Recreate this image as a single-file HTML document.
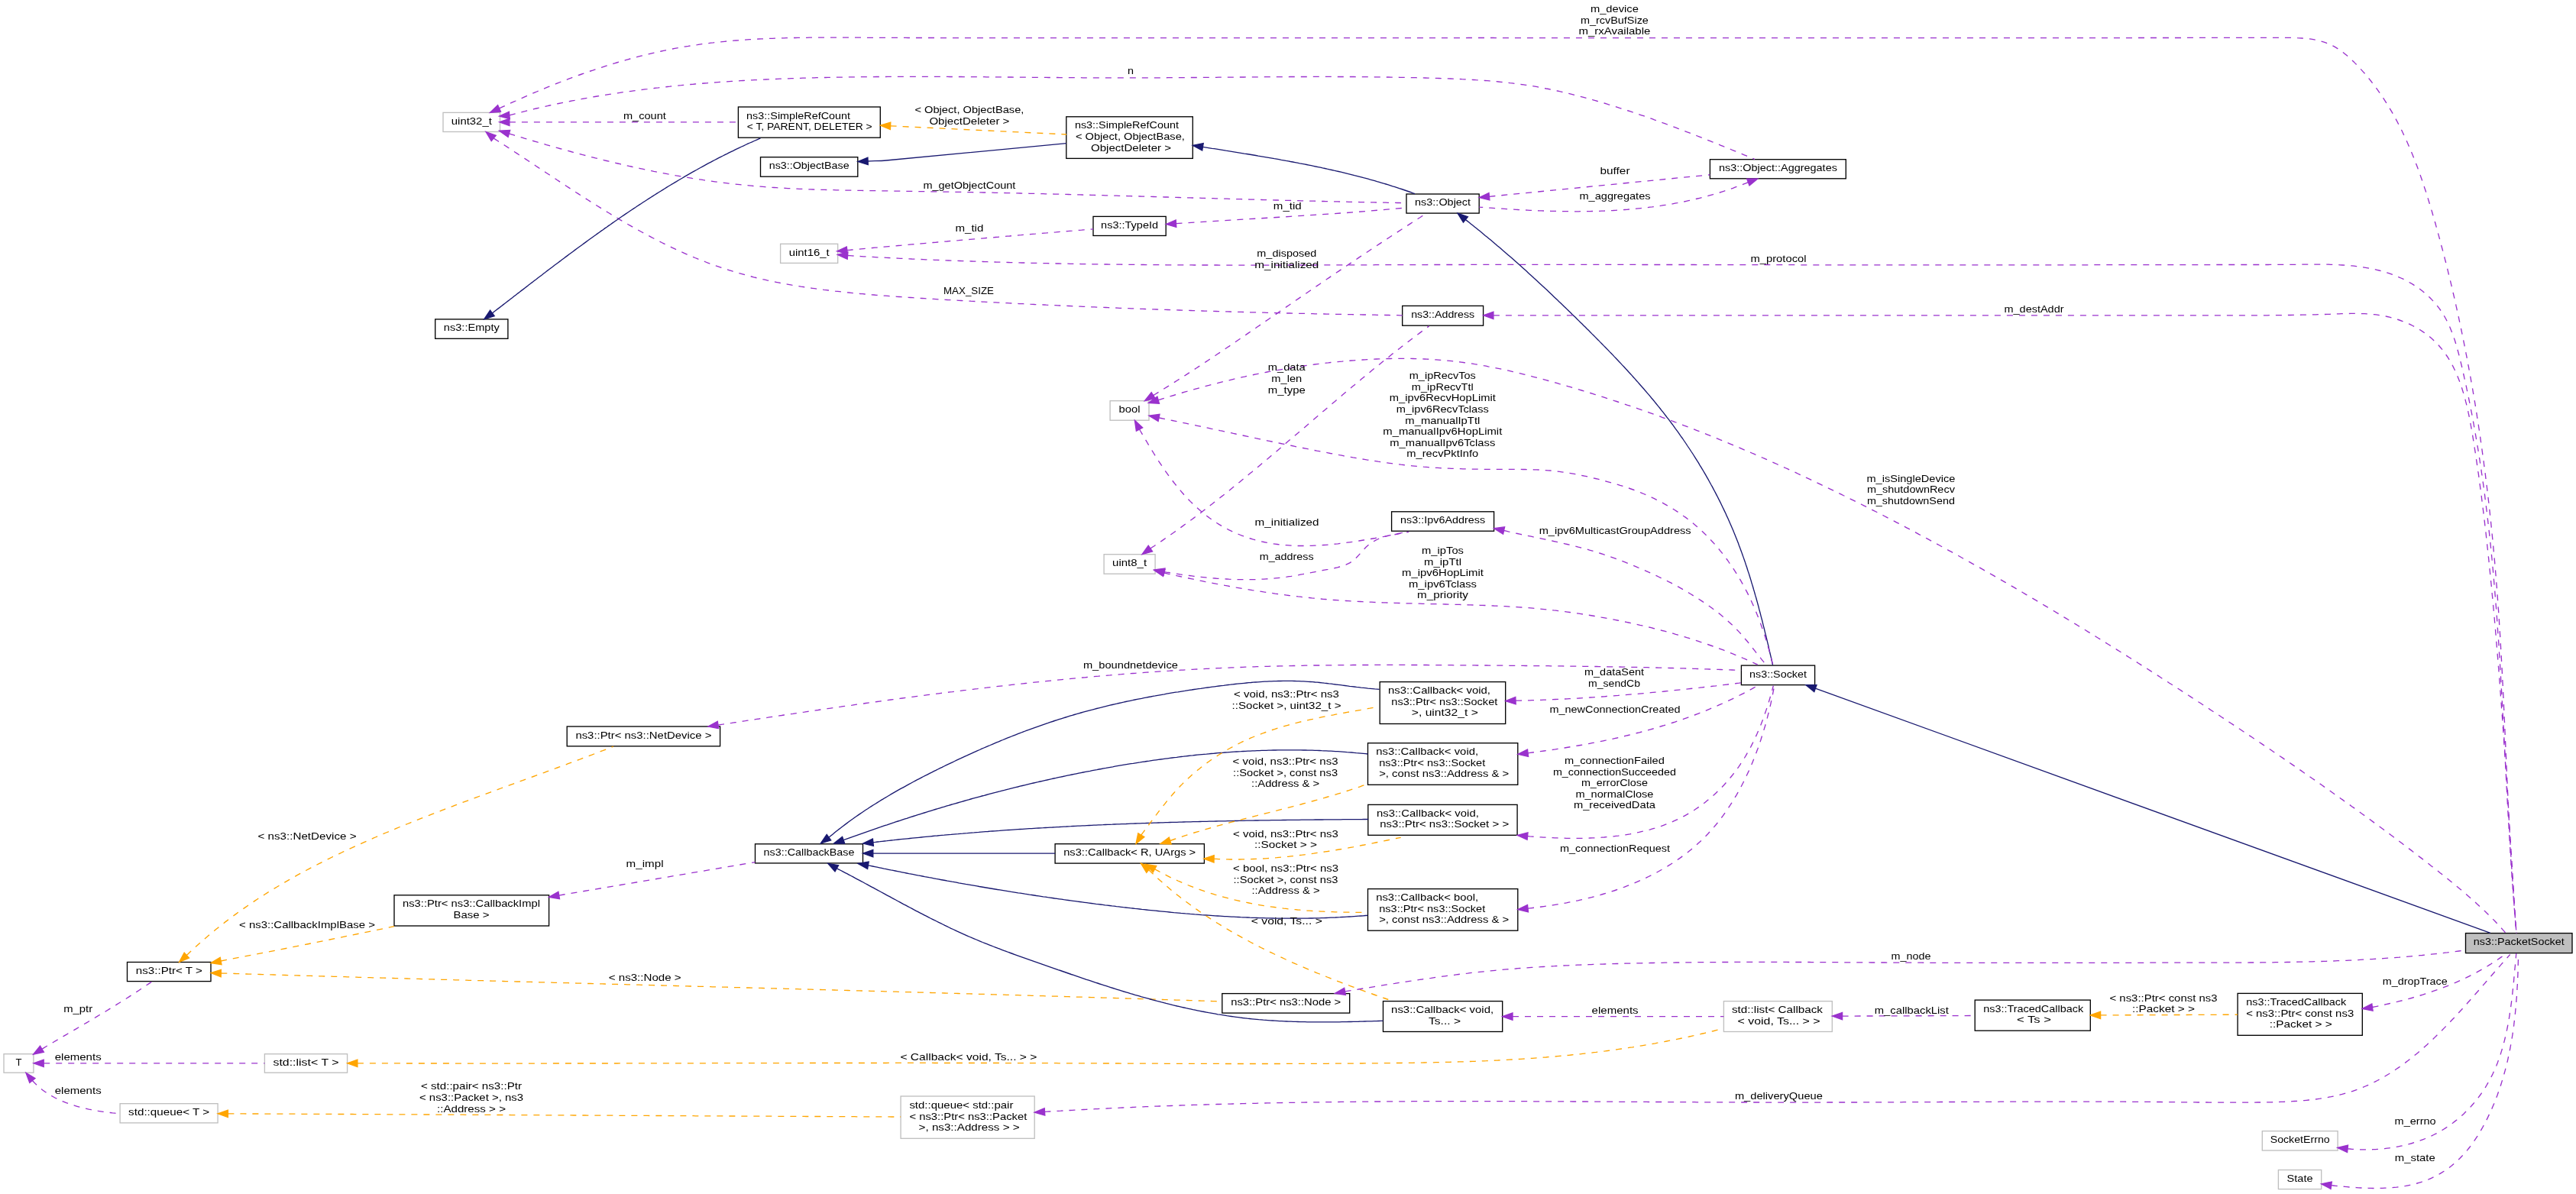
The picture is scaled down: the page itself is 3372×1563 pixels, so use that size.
<!DOCTYPE html>
<html><head><meta charset="utf-8"><style>
html,body{margin:0;padding:0;background:#fff;overflow:hidden;}
svg{display:block;}
text{font-family:"Liberation Sans",sans-serif;font-size:13.6px;fill:#000;}
svg{will-change:transform;}
</style></head><body>
<svg width="3372" height="1563" viewBox="0 0 3372 1563">
<rect x="580.0" y="147.4" width="74.5" height="25.1" fill="#ffffff" stroke="#bfbfbf" stroke-width="1.33"/>
<text x="590.8" y="162.8" textLength="53.0" lengthAdjust="spacingAndGlyphs">uint32_t</text>
<rect x="966.4" y="140.0" width="185.9" height="40.2" fill="#ffffff" stroke="#000000" stroke-width="1.33"/>
<text x="977.1" y="155.6" textLength="136.0" lengthAdjust="spacingAndGlyphs">ns3::SimpleRefCount</text>
<text x="977.7" y="170.2" textLength="164.0" lengthAdjust="spacingAndGlyphs">&lt; T, PARENT, DELETER &gt;</text>
<rect x="995.5" y="205.7" width="127.3" height="25.5" fill="#ffffff" stroke="#000000" stroke-width="1.33"/>
<text x="1006.7" y="221.2" textLength="105.0" lengthAdjust="spacingAndGlyphs">ns3::ObjectBase</text>
<rect x="1021.6" y="319.3" width="75.1" height="25.1" fill="#ffffff" stroke="#bfbfbf" stroke-width="1.33"/>
<text x="1032.7" y="334.7" textLength="53.0" lengthAdjust="spacingAndGlyphs">uint16_t</text>
<rect x="1395.8" y="152.8" width="165.5" height="54.6" fill="#ffffff" stroke="#000000" stroke-width="1.33"/>
<text x="1406.9" y="168.3" textLength="136.0" lengthAdjust="spacingAndGlyphs">ns3::SimpleRefCount</text>
<text x="1407.9" y="182.9" textLength="143.0" lengthAdjust="spacingAndGlyphs">&lt; Object, ObjectBase,</text>
<text x="1428.0" y="197.5" textLength="105.0" lengthAdjust="spacingAndGlyphs">ObjectDeleter &gt;</text>
<rect x="1431.0" y="283.4" width="95.2" height="25.1" fill="#ffffff" stroke="#000000" stroke-width="1.33"/>
<text x="1441.1" y="298.8" textLength="75.0" lengthAdjust="spacingAndGlyphs">ns3::TypeId</text>
<rect x="1841.0" y="254.0" width="95.2" height="25.1" fill="#ffffff" stroke="#000000" stroke-width="1.33"/>
<text x="1852.1" y="269.4" textLength="73.0" lengthAdjust="spacingAndGlyphs">ns3::Object</text>
<rect x="2238.4" y="208.7" width="177.9" height="25.1" fill="#ffffff" stroke="#000000" stroke-width="1.33"/>
<text x="2249.9" y="224.1" textLength="155.0" lengthAdjust="spacingAndGlyphs">ns3::Object::Aggregates</text>
<rect x="569.7" y="417.9" width="95.2" height="25.4" fill="#ffffff" stroke="#000000" stroke-width="1.33"/>
<text x="580.8" y="433.4" textLength="73.0" lengthAdjust="spacingAndGlyphs">ns3::Empty</text>
<rect x="1835.7" y="400.4" width="105.9" height="25.8" fill="#ffffff" stroke="#000000" stroke-width="1.33"/>
<text x="1847.2" y="416.1" textLength="83.0" lengthAdjust="spacingAndGlyphs">ns3::Address</text>
<rect x="1453.1" y="524.7" width="50.9" height="25.5" fill="#ffffff" stroke="#bfbfbf" stroke-width="1.33"/>
<text x="1464.5" y="540.2" textLength="28.0" lengthAdjust="spacingAndGlyphs">bool</text>
<rect x="1821.6" y="669.8" width="134.0" height="25.4" fill="#ffffff" stroke="#000000" stroke-width="1.33"/>
<text x="1833.1" y="685.3" textLength="111.0" lengthAdjust="spacingAndGlyphs">ns3::Ipv6Address</text>
<rect x="1445.1" y="725.7" width="67.0" height="25.5" fill="#ffffff" stroke="#bfbfbf" stroke-width="1.33"/>
<text x="1456.1" y="741.2" textLength="45.0" lengthAdjust="spacingAndGlyphs">uint8_t</text>
<rect x="2279.4" y="871.1" width="96.2" height="25.5" fill="#ffffff" stroke="#000000" stroke-width="1.33"/>
<text x="2290.0" y="886.6" textLength="75.0" lengthAdjust="spacingAndGlyphs">ns3::Socket</text>
<rect x="742.2" y="951.0" width="200.4" height="25.8" fill="#ffffff" stroke="#000000" stroke-width="1.33"/>
<text x="753.4" y="966.7" textLength="178.0" lengthAdjust="spacingAndGlyphs">ns3::Ptr&lt; ns3::NetDevice &gt;</text>
<rect x="988.5" y="1104.8" width="141.0" height="25.1" fill="#ffffff" stroke="#000000" stroke-width="1.33"/>
<text x="999.5" y="1120.1" textLength="119.0" lengthAdjust="spacingAndGlyphs">ns3::CallbackBase</text>
<rect x="516.0" y="1171.8" width="202.6" height="40.2" fill="#ffffff" stroke="#000000" stroke-width="1.33"/>
<text x="527.0" y="1187.4" textLength="180.0" lengthAdjust="spacingAndGlyphs">ns3::Ptr&lt; ns3::CallbackImpl</text>
<text x="593.5" y="1202.0" textLength="47.0" lengthAdjust="spacingAndGlyphs">Base &gt;</text>
<rect x="166.5" y="1259.5" width="109.5" height="25.1" fill="#ffffff" stroke="#000000" stroke-width="1.33"/>
<text x="177.8" y="1274.8" textLength="87.0" lengthAdjust="spacingAndGlyphs">ns3::Ptr&lt; T &gt;</text>
<rect x="5.0" y="1379.7" width="38.9" height="24.5" fill="#ffffff" stroke="#bfbfbf" stroke-width="1.33"/>
<text x="20.4" y="1394.8" textLength="8.0" lengthAdjust="spacingAndGlyphs">T</text>
<rect x="346.4" y="1379.7" width="108.2" height="24.5" fill="#ffffff" stroke="#bfbfbf" stroke-width="1.33"/>
<text x="357.5" y="1394.8" textLength="86.0" lengthAdjust="spacingAndGlyphs">std::list&lt; T &gt;</text>
<rect x="157.1" y="1444.7" width="128.0" height="25.2" fill="#ffffff" stroke="#bfbfbf" stroke-width="1.33"/>
<text x="168.1" y="1460.1" textLength="106.0" lengthAdjust="spacingAndGlyphs">std::queue&lt; T &gt;</text>
<rect x="1381.1" y="1104.7" width="195.3" height="25.4" fill="#ffffff" stroke="#000000" stroke-width="1.33"/>
<text x="1392.2" y="1120.2" textLength="173.0" lengthAdjust="spacingAndGlyphs">ns3::Callback&lt; R, UArgs &gt;</text>
<rect x="1806.2" y="892.6" width="164.5" height="54.9" fill="#ffffff" stroke="#000000" stroke-width="1.33"/>
<text x="1817.0" y="908.2" textLength="134.0" lengthAdjust="spacingAndGlyphs">ns3::Callback&lt; void,</text>
<text x="1821.3" y="922.8" textLength="139.0" lengthAdjust="spacingAndGlyphs">ns3::Ptr&lt; ns3::Socket</text>
<text x="1847.8" y="937.4" textLength="87.0" lengthAdjust="spacingAndGlyphs">&gt;, uint32_t &gt;</text>
<rect x="1790.5" y="972.7" width="196.3" height="54.6" fill="#ffffff" stroke="#000000" stroke-width="1.33"/>
<text x="1801.2" y="988.2" textLength="134.0" lengthAdjust="spacingAndGlyphs">ns3::Callback&lt; void,</text>
<text x="1805.2" y="1002.8" textLength="139.0" lengthAdjust="spacingAndGlyphs">ns3::Ptr&lt; ns3::Socket</text>
<text x="1805.2" y="1017.4" textLength="170.0" lengthAdjust="spacingAndGlyphs">&gt;, const ns3::Address &amp; &gt;</text>
<rect x="1790.8" y="1053.4" width="195.3" height="39.9" fill="#ffffff" stroke="#000000" stroke-width="1.33"/>
<text x="1801.9" y="1068.8" textLength="134.0" lengthAdjust="spacingAndGlyphs">ns3::Callback&lt; void,</text>
<text x="1806.2" y="1083.4" textLength="169.0" lengthAdjust="spacingAndGlyphs">ns3::Ptr&lt; ns3::Socket &gt; &gt;</text>
<rect x="1790.5" y="1163.6" width="196.3" height="54.6" fill="#ffffff" stroke="#000000" stroke-width="1.33"/>
<text x="1801.2" y="1179.1" textLength="134.0" lengthAdjust="spacingAndGlyphs">ns3::Callback&lt; bool,</text>
<text x="1805.2" y="1193.7" textLength="139.0" lengthAdjust="spacingAndGlyphs">ns3::Ptr&lt; ns3::Socket</text>
<text x="1805.2" y="1208.3" textLength="170.0" lengthAdjust="spacingAndGlyphs">&gt;, const ns3::Address &amp; &gt;</text>
<rect x="1599.8" y="1300.6" width="166.9" height="25.5" fill="#ffffff" stroke="#000000" stroke-width="1.33"/>
<text x="1611.2" y="1316.1" textLength="144.0" lengthAdjust="spacingAndGlyphs">ns3::Ptr&lt; ns3::Node &gt;</text>
<rect x="1810.5" y="1310.6" width="156.2" height="39.9" fill="#ffffff" stroke="#000000" stroke-width="1.33"/>
<text x="1821.1" y="1326.0" textLength="134.0" lengthAdjust="spacingAndGlyphs">ns3::Callback&lt; void,</text>
<text x="1870.0" y="1340.6" textLength="42.0" lengthAdjust="spacingAndGlyphs">Ts... &gt;</text>
<rect x="2256.4" y="1310.6" width="141.9" height="39.9" fill="#ffffff" stroke="#bfbfbf" stroke-width="1.33"/>
<text x="2267.0" y="1326.0" textLength="119.0" lengthAdjust="spacingAndGlyphs">std::list&lt; Callback</text>
<text x="2274.6" y="1340.6" textLength="108.0" lengthAdjust="spacingAndGlyphs">&lt; void, Ts... &gt; &gt;</text>
<rect x="1179.1" y="1435.0" width="175.1" height="55.3" fill="#ffffff" stroke="#bfbfbf" stroke-width="1.33"/>
<text x="1190.4" y="1450.9" textLength="136.0" lengthAdjust="spacingAndGlyphs">std::queue&lt; std::pair</text>
<text x="1190.4" y="1465.5" textLength="154.0" lengthAdjust="spacingAndGlyphs">&lt; ns3::Ptr&lt; ns3::Packet</text>
<text x="1202.6" y="1480.0" textLength="132.0" lengthAdjust="spacingAndGlyphs">&gt;, ns3::Address &gt; &gt;</text>
<rect x="2585.2" y="1309.1" width="151.1" height="40.1" fill="#ffffff" stroke="#000000" stroke-width="1.33"/>
<text x="2596.2" y="1324.7" textLength="131.0" lengthAdjust="spacingAndGlyphs">ns3::TracedCallback</text>
<text x="2639.9" y="1339.2" textLength="45.0" lengthAdjust="spacingAndGlyphs">&lt; Ts &gt;</text>
<rect x="2929.1" y="1300.4" width="163.2" height="54.9" fill="#ffffff" stroke="#000000" stroke-width="1.33"/>
<text x="2940.2" y="1316.0" textLength="131.0" lengthAdjust="spacingAndGlyphs">ns3::TracedCallback</text>
<text x="2940.2" y="1330.6" textLength="141.0" lengthAdjust="spacingAndGlyphs">&lt; ns3::Ptr&lt; const ns3</text>
<text x="2970.7" y="1345.2" textLength="82.0" lengthAdjust="spacingAndGlyphs">::Packet &gt; &gt;</text>
<rect x="3227.5" y="1221.6" width="139.5" height="26.0" fill="#bfbfbf" stroke="#000000" stroke-width="1.33"/>
<text x="3237.8" y="1237.4" textLength="119.0" lengthAdjust="spacingAndGlyphs">ns3::PacketSocket</text>
<rect x="2961.3" y="1480.6" width="98.8" height="25.4" fill="#ffffff" stroke="#bfbfbf" stroke-width="1.33"/>
<text x="2971.7" y="1496.1" textLength="78.0" lengthAdjust="spacingAndGlyphs">SocketErrno</text>
<rect x="2982.4" y="1531.5" width="56.3" height="25.1" fill="#ffffff" stroke="#bfbfbf" stroke-width="1.33"/>
<text x="2993.6" y="1546.8" textLength="34.0" lengthAdjust="spacingAndGlyphs">State</text>
<path d="M653.5,141.9 L656.2,140.7 L658.9,139.4 L661.6,138.2 L664.3,136.9 L667.0,135.7 L669.7,134.4 L672.5,133.2 L675.2,132.0 L677.9,130.7 L680.6,129.5 L683.4,128.3 L686.1,127.1 L688.9,125.9 L691.6,124.7 L694.4,123.5 L697.1,122.3 L699.9,121.1 L702.6,120.0 L705.4,118.8 L708.2,117.6 L710.9,116.5 L713.7,115.3 L716.5,114.2 L719.3,113.1 L722.1,112.0 L724.9,110.8 L727.7,109.7 L730.5,108.6 L733.3,107.5 L736.1,106.4 L738.9,105.4 L741.7,104.3 L744.6,103.2 L747.4,102.2 L750.2,101.1 L753.0,100.1 L755.9,99.0 L758.7,98.0 L761.5,97.0 L764.4,96.0 L767.2,95.0 L770.1,94.0 L772.9,93.0 L775.8,92.1 L778.7,91.1 L781.5,90.1 L784.4,89.2 L787.2,88.3 L790.1,87.3 L793.0,86.4 L795.9,85.5 L798.8,84.6 L801.6,83.7 L804.5,82.9 L807.4,82.0 L810.3,81.1 L813.2,80.3 L816.1,79.5 L819.0,78.6 L821.9,77.8 L824.8,77.0 L827.7,76.2 L830.6,75.5 L833.5,74.7 L836.4,73.9 L839.3,73.2 L842.3,72.5 L845.2,71.7 L848.1,71.0 L851.0,70.3 L853.9,69.6 L856.9,69.0 L859.8,68.3 L862.7,67.6 L865.7,67.0 L868.6,66.4 L871.5,65.8 L874.5,65.2 L877.4,64.6 L880.4,64.0 L883.3,63.4 L886.3,62.9 L889.2,62.4 L892.2,61.8 L895.1,61.3 L898.1,60.8 L901.0,60.4 L904.0,59.9 L906.9,59.4 L909.9,59.0 L912.8,58.6 L915.8,58.1 L918.8,57.7 L921.7,57.3 L924.7,57.0 L927.7,56.6 L930.6,56.2 L933.6,55.9 L936.6,55.5 L939.5,55.2 L942.5,54.9 L945.5,54.6 L948.5,54.3 L951.4,54.0 L954.4,53.7 L957.4,53.5 L960.4,53.2 L963.4,53.0 L966.4,52.8 L969.3,52.5 L972.3,52.3 L975.3,52.1 L978.3,51.9 L981.3,51.7 L984.3,51.5 L987.3,51.4 L990.2,51.2 L993.2,51.0 L996.2,50.9 L999.2,50.8 L1002.2,50.6 L1005.2,50.5 L1008.2,50.4 L1011.2,50.3 L1014.2,50.2 L1017.2,50.1 L1020.2,50.0 L1023.2,49.9 L1026.2,49.8 L1029.2,49.7 L1032.2,49.6 L1035.2,49.6 L1038.2,49.5 L1041.2,49.5 L1044.2,49.4 L1047.2,49.4 L1050.2,49.3 L1053.2,49.3 L1056.2,49.3 L1059.2,49.2 L1062.2,49.2 L1065.2,49.2 L1068.2,49.2 L1071.3,49.1 L1074.3,49.1 L1077.3,49.1 L1080.3,49.1 L1083.3,49.1 L1086.3,49.1 L1089.3,49.1 L1092.3,49.1 L1095.3,49.1 L1098.3,49.1 L1101.3,49.1 L1104.3,49.1 L1107.4,49.2 L1110.4,49.2 L1113.4,49.2 L1116.4,49.2 L1119.4,49.2 L1122.4,49.2 L1125.4,49.2 L1128.4,49.2 L1131.4,49.3 L1134.4,49.3 L1137.4,49.3 L1140.4,49.3 L1143.5,49.3 L1146.5,49.3 L1149.5,49.3 L1152.5,49.3 L1155.5,49.3 L1158.5,49.4 L1161.5,49.4 L1164.5,49.4 L1167.5,49.4 L1170.5,49.4 L1173.5,49.4 L1176.5,49.4 L1179.6,49.4 L1182.6,49.4 L1185.6,49.4 L1188.6,49.5 L1191.6,49.5 L1194.6,49.5 L1197.6,49.5 L1200.6,49.5 L1203.6,49.5 L1206.6,49.5 L1209.6,49.5 L1212.6,49.5 L1215.6,49.5 L1218.6,49.5 L1221.7,49.5 L1224.7,49.5 L1227.7,49.6 L1230.7,49.6 L1233.7,49.6 L1236.7,49.6 L1239.7,49.6 L1242.7,49.6 L1245.7,49.6 L1248.7,49.6 L1251.7,49.6 L1254.7,49.6 L1257.7,49.6 L1260.7,49.6 L1263.7,49.6 L1266.7,49.6 L1269.8,49.6 L1272.8,49.6 L1275.8,49.6 L1278.8,49.6 L1281.8,49.6 L1284.8,49.7 L1287.8,49.7 L1290.8,49.7 L1293.8,49.7 L1296.8,49.7 L1299.8,49.7 L1302.8,49.7 L1305.8,49.7 L1308.8,49.7 L1311.8,49.7 L1314.8,49.7 L1317.8,49.7 L1320.8,49.7 L1323.9,49.7 L1326.9,49.7 L1329.9,49.7 L1332.9,49.7 L1335.9,49.7 L1338.9,49.7 L1341.9,49.7 L1344.9,49.7 L1347.9,49.7 L1350.9,49.7 L1353.9,49.7 L1356.9,49.7 L1359.9,49.7 L1362.9,49.7 L1365.9,49.7 L1368.9,49.7 L1371.9,49.7 L1374.9,49.7 L1377.9,49.7 L1380.9,49.7 L1383.9,49.7 L1386.9,49.7 L1390.0,49.7 L1393.0,49.7 L1396.0,49.7 L1399.0,49.7 L1402.0,49.7 L1405.0,49.7 L1408.0,49.7 L1411.0,49.7 L1414.0,49.7 L1417.0,49.7 L1420.0,49.7 L1423.0,49.7 L1426.0,49.7 L1429.0,49.7 L1432.0,49.7 L1435.0,49.7 L1438.0,49.7 L1441.0,49.7 L1444.0,49.7 L1447.0,49.7 L1450.0,49.7 L1453.0,49.7 L1456.0,49.7 L1459.0,49.7 L1462.0,49.7 L1465.1,49.7 L1468.1,49.7 L1471.1,49.7 L1474.1,49.7 L1477.1,49.7 L1480.1,49.7 L1483.1,49.7 L1486.1,49.7 L1489.1,49.7 L1492.1,49.7 L1495.1,49.7 L1498.1,49.7 L1501.1,49.7 L1504.1,49.7 L1507.1,49.7 L1510.1,49.7 L1513.1,49.7 L1516.1,49.7 L1519.1,49.7 L1522.1,49.7 L1525.1,49.7 L1528.1,49.7 L1531.1,49.7 L1534.1,49.7 L1537.1,49.7 L1540.1,49.7 L1543.1,49.7 L1546.1,49.7 L1549.2,49.7 L1552.2,49.7 L1555.2,49.6 L1558.2,49.6 L1561.2,49.6 L1564.2,49.6 L1567.2,49.6 L1570.2,49.6 L1573.2,49.6 L1576.2,49.6 L1579.2,49.6 L1582.2,49.6 L1585.2,49.6 L1588.2,49.6 L1591.2,49.6 L1594.2,49.6 L1597.2,49.6 L1600.2,49.6 L1603.2,49.6 L1606.2,49.6 L1609.2,49.6 L1612.2,49.6 L1615.2,49.6 L1618.2,49.6 L1621.2,49.6 L1624.2,49.6 L1627.2,49.6 L1630.2,49.6 L1633.3,49.6 L1636.3,49.6 L1639.3,49.6 L1642.3,49.6 L1645.3,49.6 L1648.3,49.6 L1651.3,49.6 L1654.3,49.6 L1657.3,49.6 L1660.3,49.6 L1663.3,49.6 L1666.3,49.6 L1669.3,49.6 L1672.3,49.6 L1675.3,49.6 L1678.3,49.6 L1681.3,49.6 L1684.3,49.6 L1687.3,49.6 L1690.3,49.6 L1693.3,49.6 L1696.3,49.6 L1699.3,49.6 L1702.3,49.6 L1705.3,49.6 L1708.3,49.6 L1711.4,49.6 L1714.4,49.6 L1717.4,49.6 L1720.4,49.6 L1723.4,49.6 L1726.4,49.6 L1729.4,49.6 L1732.4,49.6 L1735.4,49.6 L1738.4,49.6 L1741.4,49.6 L1744.4,49.6 L1747.4,49.6 L1750.4,49.6 L1753.4,49.6 L1756.4,49.6 L1759.4,49.6 L1762.4,49.6 L1765.4,49.6 L1768.4,49.6 L1771.4,49.6 L1774.4,49.6 L1777.4,49.6 L1780.4,49.6 L1783.4,49.6 L1786.5,49.6 L1789.5,49.6 L1792.5,49.6 L1795.5,49.6 L1798.5,49.6 L1801.5,49.6 L1804.5,49.6 L1807.5,49.6 L1810.5,49.6 L1813.5,49.6 L1816.5,49.6 L1819.5,49.6 L1822.5,49.6 L1825.5,49.6 L1828.5,49.6 L1831.5,49.6 L1834.5,49.6 L1837.5,49.6 L1840.5,49.6 L1843.5,49.6 L1846.5,49.6 L1849.5,49.6 L1852.5,49.6 L1855.5,49.6 L1858.5,49.6 L1861.6,49.6 L1864.6,49.6 L1867.6,49.6 L1870.6,49.6 L1873.6,49.6 L1876.6,49.6 L1879.6,49.6 L1882.6,49.6 L1885.6,49.6 L1888.6,49.6 L1891.6,49.6 L1894.6,49.6 L1897.6,49.6 L1900.6,49.6 L1903.6,49.6 L1906.6,49.6 L1909.6,49.6 L1912.6,49.6 L1915.6,49.6 L1918.6,49.6 L1921.6,49.5 L1924.6,49.5 L1927.6,49.5 L1930.7,49.5 L1933.7,49.5 L1936.7,49.5 L1939.7,49.5 L1942.7,49.5 L1945.7,49.5 L1948.7,49.5 L1951.7,49.5 L1954.7,49.5 L1957.7,49.6 L1960.7,49.6 L1963.7,49.6 L1966.7,49.6 L1969.7,49.6 L1972.7,49.6 L1975.7,49.6 L1978.7,49.6 L1981.7,49.6 L1984.7,49.6 L1987.7,49.6 L1990.7,49.6 L1993.7,49.6 L1996.7,49.6 L1999.8,49.6 L2002.8,49.6 L2005.8,49.6 L2008.8,49.6 L2011.8,49.6 L2014.8,49.6 L2017.8,49.6 L2020.8,49.6 L2023.8,49.6 L2026.8,49.6 L2029.8,49.6 L2032.8,49.6 L2035.8,49.6 L2038.8,49.6 L2041.8,49.6 L2044.8,49.6 L2047.8,49.6 L2050.8,49.6 L2053.8,49.6 L2056.8,49.6 L2059.8,49.6 L2062.8,49.6 L2065.9,49.6 L2068.9,49.6 L2071.9,49.6 L2074.9,49.6 L2077.9,49.6 L2080.9,49.6 L2083.9,49.6 L2086.9,49.6 L2089.9,49.6 L2092.9,49.6 L2095.9,49.6 L2098.9,49.6 L2101.9,49.6 L2104.9,49.6 L2107.9,49.6 L2110.9,49.6 L2113.9,49.6 L2116.9,49.6 L2119.9,49.6 L2122.9,49.6 L2125.9,49.6 L2129.0,49.6 L2132.0,49.6 L2135.0,49.6 L2138.0,49.6 L2141.0,49.6 L2144.0,49.6 L2147.0,49.6 L2150.0,49.6 L2153.0,49.6 L2156.0,49.6 L2159.0,49.6 L2162.0,49.6 L2165.0,49.6 L2168.0,49.6 L2171.0,49.6 L2174.0,49.6 L2177.0,49.6 L2180.0,49.6 L2183.0,49.6 L2186.0,49.6 L2189.0,49.6 L2192.1,49.6 L2195.1,49.6 L2198.1,49.6 L2201.1,49.6 L2204.1,49.6 L2207.1,49.6 L2210.1,49.6 L2213.1,49.6 L2216.1,49.6 L2219.1,49.6 L2222.1,49.6 L2225.1,49.6 L2228.1,49.6 L2231.1,49.6 L2234.1,49.6 L2237.1,49.6 L2240.1,49.6 L2243.1,49.6 L2246.1,49.6 L2249.1,49.6 L2252.2,49.6 L2255.2,49.6 L2258.2,49.6 L2261.2,49.6 L2264.2,49.6 L2267.2,49.6 L2270.2,49.6 L2273.2,49.6 L2276.2,49.6 L2279.2,49.6 L2282.2,49.6 L2285.2,49.6 L2288.2,49.6 L2291.2,49.6 L2294.2,49.6 L2297.2,49.6 L2300.2,49.6 L2303.2,49.6 L2306.2,49.6 L2309.2,49.6 L2312.3,49.6 L2315.3,49.6 L2318.3,49.6 L2321.3,49.6 L2324.3,49.6 L2327.3,49.6 L2330.3,49.6 L2333.3,49.6 L2336.3,49.6 L2339.3,49.6 L2342.3,49.6 L2345.3,49.6 L2348.3,49.6 L2351.3,49.6 L2354.3,49.6 L2357.3,49.6 L2360.3,49.6 L2363.3,49.6 L2366.3,49.6 L2369.3,49.6 L2372.4,49.6 L2375.4,49.6 L2378.4,49.6 L2381.4,49.6 L2384.4,49.6 L2387.4,49.6 L2390.4,49.6 L2393.4,49.6 L2396.4,49.6 L2399.4,49.6 L2402.4,49.6 L2405.4,49.6 L2408.4,49.6 L2411.4,49.6 L2414.4,49.6 L2417.4,49.6 L2420.4,49.6 L2423.4,49.6 L2426.4,49.6 L2429.5,49.6 L2432.5,49.6 L2435.5,49.6 L2438.5,49.6 L2441.5,49.6 L2444.5,49.6 L2447.5,49.6 L2450.5,49.6 L2453.5,49.6 L2456.5,49.7 L2459.5,49.7 L2462.5,49.7 L2465.5,49.7 L2468.5,49.7 L2471.5,49.7 L2474.5,49.7 L2477.5,49.7 L2480.5,49.7 L2483.5,49.7 L2486.6,49.7 L2489.6,49.7 L2492.6,49.7 L2495.6,49.7 L2498.6,49.7 L2501.6,49.7 L2504.6,49.7 L2507.6,49.7 L2510.6,49.7 L2513.6,49.7 L2516.6,49.7 L2519.6,49.7 L2522.6,49.7 L2525.6,49.7 L2528.6,49.7 L2531.6,49.7 L2534.6,49.7 L2537.6,49.7 L2540.6,49.7 L2543.7,49.7 L2546.7,49.7 L2549.7,49.7 L2552.7,49.7 L2555.7,49.7 L2558.7,49.7 L2561.7,49.7 L2564.7,49.7 L2567.7,49.7 L2570.7,49.7 L2573.7,49.7 L2576.7,49.7 L2579.7,49.7 L2582.7,49.7 L2585.7,49.7 L2588.7,49.7 L2591.7,49.7 L2594.7,49.7 L2597.7,49.7 L2600.7,49.7 L2603.7,49.7 L2606.7,49.7 L2609.7,49.7 L2612.8,49.7 L2615.8,49.7 L2618.8,49.7 L2621.8,49.7 L2624.8,49.7 L2627.8,49.7 L2630.8,49.7 L2633.8,49.7 L2636.8,49.7 L2639.8,49.7 L2642.8,49.7 L2645.8,49.7 L2648.8,49.7 L2651.8,49.7 L2654.8,49.7 L2657.8,49.7 L2660.8,49.7 L2663.8,49.7 L2666.8,49.7 L2669.8,49.7 L2672.8,49.7 L2675.8,49.7 L2678.8,49.7 L2681.8,49.7 L2684.8,49.7 L2687.8,49.6 L2690.8,49.6 L2693.8,49.6 L2696.8,49.6 L2699.8,49.6 L2702.9,49.6 L2705.9,49.6 L2708.9,49.6 L2711.9,49.6 L2714.9,49.6 L2717.9,49.6 L2720.9,49.6 L2723.9,49.6 L2726.9,49.6 L2729.9,49.6 L2732.9,49.6 L2735.9,49.6 L2738.9,49.6 L2741.9,49.6 L2744.9,49.6 L2747.9,49.6 L2750.9,49.6 L2753.9,49.6 L2756.9,49.6 L2759.9,49.6 L2762.9,49.6 L2765.9,49.6 L2768.9,49.6 L2771.9,49.6 L2774.9,49.6 L2777.9,49.6 L2780.9,49.6 L2783.9,49.6 L2786.9,49.6 L2789.9,49.6 L2792.9,49.6 L2795.9,49.6 L2798.9,49.5 L2801.9,49.5 L2804.9,49.5 L2807.9,49.5 L2810.9,49.5 L2813.9,49.5 L2816.9,49.5 L2819.9,49.5 L2822.9,49.5 L2825.9,49.5 L2828.9,49.5 L2831.9,49.5 L2834.9,49.5 L2837.9,49.5 L2840.9,49.5 L2843.9,49.5 L2846.9,49.5 L2849.9,49.5 L2852.9,49.5 L2855.9,49.5 L2858.9,49.5 L2861.9,49.4 L2864.9,49.4 L2867.9,49.4 L2870.9,49.4 L2873.9,49.4 L2876.9,49.4 L2879.9,49.4 L2882.9,49.4 L2885.9,49.4 L2888.9,49.4 L2891.9,49.4 L2894.9,49.4 L2897.9,49.4 L2900.9,49.4 L2903.9,49.4 L2906.9,49.4 L2909.9,49.4 L2912.9,49.4 L2915.9,49.3 L2918.9,49.3 L2921.9,49.3 L2925.0,49.3 L2928.0,49.3 L2931.0,49.3 L2934.0,49.3 L2937.0,49.3 L2940.1,49.3 L2943.1,49.3 L2946.1,49.3 L2949.2,49.3 L2952.2,49.3 L2955.2,49.3 L2958.3,49.3 L2961.3,49.3 L2964.4,49.3 L2967.4,49.3 L2970.5,49.3 L2973.5,49.3 L2976.6,49.3 L2979.6,49.3 L2982.7,49.3 L2985.8,49.3 L2988.8,49.3 L2991.9,49.4 L2995.0,49.4 L2998.0,49.4 L3001.1,49.5 L3004.2,49.5 L3007.2,49.7 L3010.2,49.8 L3013.3,50.0 L3016.3,50.2 L3019.3,50.5 L3022.2,50.8 L3025.2,51.2 L3028.1,51.7 L3031.0,52.2 L3033.8,52.8 L3036.7,53.5 L3039.5,54.3 L3042.2,55.1 L3045.0,56.1 L3047.6,57.1 L3050.3,58.3 L3052.9,59.5 L3055.5,60.9 L3058.0,62.4 L3060.4,63.9 L3062.9,65.5 L3065.3,67.3 L3067.6,69.0 L3070.0,70.9 L3072.3,72.8 L3074.5,74.8 L3076.7,76.8 L3078.9,78.8 L3081.1,80.9 L3083.2,83.1 L3085.3,85.2 L3087.4,87.4 L3089.5,89.6 L3091.5,91.9 L3093.5,94.1 L3095.5,96.3 L3097.4,98.6 L3099.3,100.9 L3101.2,103.2 L3103.1,105.5 L3104.9,107.9 L3106.7,110.2 L3108.5,112.6 L3110.3,115.0 L3112.1,117.4 L3113.8,119.8 L3115.5,122.2 L3117.2,124.7 L3118.8,127.1 L3120.5,129.6 L3122.1,132.1 L3123.7,134.6 L3125.2,137.1 L3126.8,139.6 L3128.3,142.1 L3129.8,144.7 L3131.3,147.2 L3132.8,149.8 L3134.2,152.4 L3135.7,155.0 L3137.1,157.6 L3138.5,160.2 L3139.8,162.9 L3141.2,165.5 L3142.5,168.2 L3143.9,170.8 L3145.2,173.5 L3146.4,176.2 L3147.7,178.9 L3149.0,181.6 L3150.2,184.3 L3151.4,187.0 L3152.6,189.8 L3153.8,192.5 L3155.0,195.2 L3156.1,198.0 L3157.3,200.8 L3158.4,203.5 L3159.5,206.3 L3160.6,209.1 L3161.7,211.9 L3162.8,214.7 L3163.9,217.5 L3164.9,220.3 L3166.0,223.2 L3167.0,226.0 L3168.0,228.8 L3169.0,231.7 L3170.0,234.5 L3171.0,237.4 L3171.9,240.2 L3172.9,243.1 L3173.8,246.0 L3174.8,248.8 L3175.7,251.7 L3176.6,254.6 L3177.5,257.5 L3178.4,260.4 L3179.3,263.3 L3180.2,266.2 L3181.1,269.1 L3182.0,272.0 L3182.8,274.9 L3183.7,277.8 L3184.5,280.7 L3185.4,283.6 L3186.2,286.5 L3187.0,289.4 L3187.9,292.3 L3188.7,295.3 L3189.5,298.2 L3190.3,301.1 L3191.1,304.0 L3191.9,306.9 L3192.7,309.9 L3193.5,312.8 L3194.3,315.7 L3195.1,318.6 L3195.8,321.5 L3196.6,324.5 L3197.4,327.4 L3198.1,330.3 L3198.9,333.2 L3199.7,336.2 L3200.4,339.1 L3201.2,342.0 L3201.9,344.9 L3202.6,347.9 L3203.4,350.8 L3204.1,353.7 L3204.8,356.7 L3205.5,359.6 L3206.2,362.5 L3207.0,365.5 L3207.7,368.4 L3208.4,371.3 L3209.1,374.2 L3209.8,377.2 L3210.4,380.1 L3211.1,383.0 L3211.8,386.0 L3212.5,388.9 L3213.2,391.9 L3213.8,394.8 L3214.5,397.7 L3215.1,400.7 L3215.8,403.6 L3216.4,406.5 L3217.1,409.5 L3217.7,412.4 L3218.4,415.4 L3219.0,418.3 L3219.6,421.2 L3220.3,424.2 L3220.9,427.1 L3221.5,430.1 L3222.1,433.0 L3222.7,435.9 L3223.3,438.9 L3223.9,441.8 L3224.5,444.8 L3225.1,447.7 L3225.7,450.7 L3226.3,453.6 L3226.9,456.6 L3227.5,459.5 L3228.0,462.4 L3228.6,465.4 L3229.2,468.3 L3229.7,471.3 L3230.3,474.2 L3230.8,477.2 L3231.4,480.1 L3231.9,483.1 L3232.5,486.0 L3233.0,489.0 L3233.5,491.9 L3234.1,494.9 L3234.6,497.9 L3235.1,500.8 L3235.6,503.8 L3236.2,506.7 L3236.7,509.7 L3237.2,512.6 L3237.7,515.6 L3238.2,518.5 L3238.7,521.5 L3239.2,524.4 L3239.7,527.4 L3240.2,530.4 L3240.6,533.3 L3241.1,536.3 L3241.6,539.2 L3242.1,542.2 L3242.5,545.2 L3243.0,548.1 L3243.5,551.1 L3243.9,554.0 L3244.4,557.0 L3244.8,560.0 L3245.3,562.9 L3245.7,565.9 L3246.1,568.9 L3246.6,571.8 L3247.0,574.8 L3247.4,577.8 L3247.9,580.7 L3248.3,583.7 L3248.7,586.7 L3249.1,589.6 L3249.5,592.6 L3249.9,595.6 L3250.4,598.5 L3250.8,601.5 L3251.2,604.5 L3251.5,607.4 L3251.9,610.4 L3252.3,613.4 L3252.7,616.3 L3253.1,619.3 L3253.5,622.3 L3253.8,625.3 L3254.2,628.2 L3254.6,631.2 L3255.0,634.2 L3255.3,637.2 L3255.7,640.1 L3256.0,643.1 L3256.4,646.1 L3256.7,649.1 L3257.1,652.0 L3257.4,655.0 L3257.8,658.0 L3258.1,661.0 L3258.4,663.9 L3258.8,666.9 L3259.1,669.9 L3259.4,672.9 L3259.7,675.9 L3260.1,678.8 L3260.4,681.8 L3260.7,684.8 L3261.0,687.8 L3261.3,690.8 L3261.6,693.8 L3261.9,696.7 L3262.2,699.7 L3262.5,702.7 L3262.8,705.7 L3263.1,708.7 L3263.4,711.7 L3263.7,714.6 L3263.9,717.6 L3264.2,720.6 L3264.5,723.6 L3264.8,726.6 L3265.0,729.6 L3265.3,732.6 L3265.6,735.5 L3265.8,738.5 L3266.1,741.5 L3266.3,744.5 L3266.6,747.5 L3266.8,750.5 L3267.1,753.5 L3267.3,756.5 L3267.6,759.5 L3267.8,762.5 L3268.0,765.4 L3268.3,768.4 L3268.5,771.4 L3268.7,774.4 L3268.9,777.4 L3269.2,780.4 L3269.4,783.4 L3269.6,786.4 L3269.8,789.4 L3270.0,792.4 L3270.2,795.4 L3270.5,798.4 L3270.7,801.4 L3270.9,804.4 L3271.1,807.4 L3271.3,810.4 L3271.5,813.4 L3271.6,816.4 L3271.8,819.4 L3272.0,822.4 L3272.2,825.4 L3272.4,828.4 L3272.6,831.4 L3272.8,834.4 L3272.9,837.4 L3273.1,840.4 L3273.3,843.4 L3273.5,846.4 L3273.6,849.4 L3273.8,852.4 L3274.0,855.4 L3274.2,858.4 L3274.3,861.4 L3274.5,864.4 L3274.6,867.4 L3274.8,870.4 L3275.0,873.4 L3275.1,876.4 L3275.3,879.4 L3275.4,882.4 L3275.6,885.4 L3275.7,888.4 L3275.9,891.4 L3276.0,894.4 L3276.2,897.4 L3276.3,900.4 L3276.5,903.4 L3276.6,906.4 L3276.8,909.4 L3276.9,912.4 L3277.1,915.4 L3277.2,918.5 L3277.4,921.5 L3277.5,924.5 L3277.6,927.5 L3277.8,930.5 L3277.9,933.5 L3278.1,936.5 L3278.2,939.5 L3278.3,942.5 L3278.5,945.5 L3278.6,948.5 L3278.7,951.5 L3278.9,954.5 L3279.0,957.5 L3279.1,960.5 L3279.3,963.5 L3279.4,966.5 L3279.5,969.6 L3279.7,972.6 L3279.8,975.6 L3279.9,978.6 L3280.1,981.6 L3280.2,984.6 L3280.3,987.6 L3280.5,990.6 L3280.6,993.6 L3280.7,996.6 L3280.9,999.6 L3281.0,1002.6 L3281.1,1005.6 L3281.3,1008.6 L3281.4,1011.6 L3281.5,1014.6 L3281.7,1017.7 L3281.8,1020.7 L3282.0,1023.7 L3282.1,1026.7 L3282.2,1029.7 L3282.4,1032.7 L3282.5,1035.7 L3282.7,1038.7 L3282.8,1041.7 L3282.9,1044.7 L3283.1,1047.7 L3283.2,1050.7 L3283.4,1053.7 L3283.5,1056.7 L3283.7,1059.7 L3283.8,1062.7 L3283.9,1065.7 L3284.1,1068.7 L3284.2,1071.7 L3284.4,1074.7 L3284.5,1077.7 L3284.7,1080.7 L3284.9,1083.7 L3285.0,1086.7 L3285.2,1089.7 L3285.3,1092.7 L3285.5,1095.7 L3285.6,1098.8 L3285.8,1101.8 L3286.0,1104.8 L3286.1,1107.8 L3286.3,1110.8 L3286.5,1113.8 L3286.7,1116.8 L3286.8,1119.7 L3287.0,1122.7 L3287.2,1125.7 L3287.4,1128.7 L3287.5,1131.7 L3287.7,1134.7 L3287.9,1137.7 L3288.1,1140.7 L3288.3,1143.7 L3288.5,1146.7 L3288.7,1149.7 L3288.9,1152.7 L3289.0,1155.7 L3289.2,1158.7 L3289.4,1161.7 L3289.7,1164.7 L3289.9,1167.7 L3290.1,1170.7 L3290.3,1173.7 L3290.5,1176.7 L3290.7,1179.7 L3290.9,1182.7 L3291.1,1185.6 L3291.4,1188.6 L3291.6,1191.6 L3291.8,1194.6 L3292.1,1197.6 L3292.3,1200.6 L3292.5,1203.6 L3292.8,1206.6 L3293.0,1209.6 L3293.3,1212.5 L3293.5,1215.5 L3293.8,1218.5 L3294.0,1221.5" fill="none" stroke="#9a32cd" stroke-width="1.33" stroke-dasharray="8,8"/>
<polygon points="641.4,147.4 651.6,137.6 655.5,146.2" fill="#9a32cd" stroke="#9a32cd" stroke-width="1.33"/>
<path d="M666.9,150.9 L669.8,150.1 L672.7,149.3 L675.6,148.5 L678.6,147.8 L681.5,147.0 L684.4,146.3 L687.3,145.6 L690.3,144.8 L693.2,144.1 L696.1,143.4 L699.1,142.7 L702.0,142.0 L704.9,141.3 L707.9,140.7 L710.8,140.0 L713.8,139.3 L716.7,138.7 L719.7,138.0 L722.6,137.4 L725.5,136.7 L728.5,136.1 L731.4,135.5 L734.4,134.9 L737.3,134.3 L740.3,133.7 L743.2,133.1 L746.2,132.5 L749.1,131.9 L752.1,131.4 L755.0,130.8 L758.0,130.2 L760.9,129.7 L763.9,129.1 L766.9,128.6 L769.8,128.1 L772.8,127.6 L775.7,127.0 L778.7,126.5 L781.7,126.0 L784.6,125.5 L787.6,125.0 L790.6,124.6 L793.5,124.1 L796.5,123.6 L799.5,123.2 L802.4,122.7 L805.4,122.2 L808.4,121.8 L811.3,121.4 L814.3,120.9 L817.3,120.5 L820.2,120.1 L823.2,119.7 L826.2,119.3 L829.2,118.9 L832.1,118.5 L835.1,118.1 L838.1,117.7 L841.1,117.3 L844.1,116.9 L847.0,116.6 L850.0,116.2 L853.0,115.8 L856.0,115.5 L859.0,115.1 L861.9,114.8 L864.9,114.4 L867.9,114.1 L870.9,113.8 L873.9,113.5 L876.9,113.2 L879.8,112.8 L882.8,112.5 L885.8,112.2 L888.8,111.9 L891.8,111.7 L894.8,111.4 L897.8,111.1 L900.8,110.8 L903.7,110.5 L906.7,110.3 L909.7,110.0 L912.7,109.8 L915.7,109.5 L918.7,109.3 L921.7,109.0 L924.7,108.8 L927.7,108.5 L930.7,108.3 L933.7,108.1 L936.7,107.9 L939.7,107.6 L942.7,107.4 L945.7,107.2 L948.7,107.0 L951.7,106.8 L954.7,106.6 L957.7,106.4 L960.7,106.2 L963.7,106.1 L966.7,105.9 L969.7,105.7 L972.7,105.5 L975.7,105.4 L978.7,105.2 L981.7,105.0 L984.7,104.9 L987.7,104.7 L990.7,104.6 L993.7,104.4 L996.7,104.3 L999.7,104.1 L1002.7,104.0 L1005.7,103.9 L1008.7,103.7 L1011.7,103.6 L1014.7,103.5 L1017.7,103.4 L1020.7,103.2 L1023.7,103.1 L1026.7,103.0 L1029.7,102.9 L1032.7,102.8 L1035.7,102.7 L1038.7,102.6 L1041.7,102.5 L1044.7,102.4 L1047.7,102.3 L1050.7,102.2 L1053.8,102.1 L1056.8,102.0 L1059.8,102.0 L1062.8,101.9 L1065.8,101.8 L1068.8,101.7 L1071.8,101.7 L1074.8,101.6 L1077.8,101.5 L1080.8,101.5 L1083.8,101.4 L1086.8,101.3 L1089.8,101.3 L1092.8,101.2 L1095.8,101.2 L1098.9,101.1 L1101.9,101.1 L1104.9,101.0 L1107.9,101.0 L1110.9,100.9 L1113.9,100.9 L1116.9,100.8 L1119.9,100.8 L1122.9,100.8 L1125.9,100.7 L1128.9,100.7 L1131.9,100.7 L1134.9,100.6 L1137.9,100.6 L1141.0,100.6 L1144.0,100.6 L1147.0,100.5 L1150.0,100.5 L1153.0,100.5 L1156.0,100.5 L1159.0,100.5 L1162.0,100.4 L1165.0,100.4 L1168.0,100.4 L1171.0,100.4 L1174.0,100.4 L1177.0,100.4 L1180.0,100.4 L1183.1,100.4 L1186.1,100.4 L1189.1,100.3 L1192.1,100.3 L1195.1,100.3 L1198.1,100.3 L1201.1,100.3 L1204.1,100.3 L1207.1,100.3 L1210.1,100.4 L1213.1,100.4 L1216.1,100.4 L1219.1,100.4 L1222.1,100.4 L1225.2,100.4 L1228.2,100.4 L1231.2,100.4 L1234.2,100.4 L1237.2,100.4 L1240.2,100.4 L1243.2,100.5 L1246.2,100.5 L1249.2,100.5 L1252.2,100.5 L1255.2,100.5 L1258.2,100.5 L1261.2,100.6 L1264.3,100.6 L1267.3,100.6 L1270.3,100.6 L1273.3,100.6 L1276.3,100.7 L1279.3,100.7 L1282.3,100.7 L1285.3,100.7 L1288.3,100.7 L1291.3,100.8 L1294.3,100.8 L1297.3,100.8 L1300.3,100.8 L1303.3,100.9 L1306.4,100.9 L1309.4,100.9 L1312.4,100.9 L1315.4,101.0 L1318.4,101.0 L1321.4,101.0 L1324.4,101.0 L1327.4,101.1 L1330.4,101.1 L1333.4,101.1 L1336.4,101.1 L1339.4,101.2 L1342.4,101.2 L1345.4,101.2 L1348.5,101.2 L1351.5,101.3 L1354.5,101.3 L1357.5,101.3 L1360.5,101.4 L1363.5,101.4 L1366.5,101.4 L1369.5,101.4 L1372.5,101.5 L1375.5,101.5 L1378.5,101.5 L1381.5,101.5 L1384.5,101.5 L1387.6,101.6 L1390.6,101.6 L1393.6,101.6 L1396.6,101.6 L1399.6,101.7 L1402.6,101.7 L1405.6,101.7 L1408.6,101.7 L1411.6,101.7 L1414.6,101.7 L1417.6,101.8 L1420.6,101.8 L1423.6,101.8 L1426.7,101.8 L1429.7,101.8 L1432.7,101.8 L1435.7,101.8 L1438.7,101.9 L1441.7,101.9 L1444.7,101.9 L1447.7,101.9 L1450.7,101.9 L1453.7,101.9 L1456.7,101.9 L1459.7,101.9 L1462.7,101.9 L1465.7,101.9 L1468.8,101.9 L1471.8,101.9 L1474.8,101.9 L1477.8,101.9 L1480.8,101.9 L1483.8,101.9 L1486.8,101.9 L1489.8,101.9 L1492.8,101.9 L1495.8,101.9 L1498.8,101.9 L1501.8,101.9 L1504.8,101.9 L1507.9,101.8 L1510.9,101.8 L1513.9,101.8 L1516.9,101.8 L1519.9,101.8 L1522.9,101.8 L1525.9,101.8 L1528.9,101.7 L1531.9,101.7 L1534.9,101.7 L1537.9,101.7 L1540.9,101.7 L1543.9,101.6 L1547.0,101.6 L1550.0,101.6 L1553.0,101.6 L1556.0,101.6 L1559.0,101.5 L1562.0,101.5 L1565.0,101.5 L1568.0,101.5 L1571.0,101.4 L1574.0,101.4 L1577.0,101.4 L1580.0,101.4 L1583.0,101.3 L1586.0,101.3 L1589.1,101.3 L1592.1,101.3 L1595.1,101.2 L1598.1,101.2 L1601.1,101.2 L1604.1,101.2 L1607.1,101.1 L1610.1,101.1 L1613.1,101.1 L1616.1,101.1 L1619.1,101.0 L1622.1,101.0 L1625.1,101.0 L1628.2,101.0 L1631.2,100.9 L1634.2,100.9 L1637.2,100.9 L1640.2,100.9 L1643.2,100.8 L1646.2,100.8 L1649.2,100.8 L1652.2,100.8 L1655.2,100.7 L1658.2,100.7 L1661.2,100.7 L1664.2,100.7 L1667.2,100.7 L1670.3,100.6 L1673.3,100.6 L1676.3,100.6 L1679.3,100.6 L1682.3,100.6 L1685.3,100.6 L1688.3,100.5 L1691.3,100.5 L1694.3,100.5 L1697.3,100.5 L1700.3,100.5 L1703.3,100.5 L1706.3,100.5 L1709.3,100.5 L1712.4,100.5 L1715.4,100.4 L1718.4,100.4 L1721.4,100.4 L1724.4,100.4 L1727.4,100.4 L1730.4,100.4 L1733.4,100.4 L1736.4,100.4 L1739.4,100.4 L1742.4,100.4 L1745.4,100.4 L1748.4,100.4 L1751.4,100.5 L1754.5,100.5 L1757.5,100.5 L1760.5,100.5 L1763.5,100.5 L1766.5,100.5 L1769.5,100.5 L1772.5,100.5 L1775.5,100.6 L1778.5,100.6 L1781.5,100.6 L1784.5,100.6 L1787.5,100.7 L1790.5,100.7 L1793.5,100.7 L1796.5,100.7 L1799.6,100.8 L1802.6,100.8 L1805.6,100.8 L1808.6,100.9 L1811.6,100.9 L1814.6,101.0 L1817.6,101.0 L1820.6,101.1 L1823.6,101.1 L1826.6,101.2 L1829.6,101.2 L1832.6,101.3 L1835.6,101.3 L1838.6,101.4 L1841.6,101.4 L1844.7,101.5 L1847.7,101.6 L1850.7,101.6 L1853.7,101.7 L1856.7,101.8 L1859.7,101.8 L1862.7,101.9 L1865.7,102.0 L1868.7,102.1 L1871.7,102.2 L1874.7,102.3 L1877.7,102.3 L1880.7,102.4 L1883.7,102.5 L1886.7,102.6 L1889.7,102.7 L1892.7,102.8 L1895.8,102.9 L1898.8,103.0 L1901.8,103.2 L1904.8,103.3 L1907.8,103.4 L1910.8,103.5 L1913.8,103.7 L1916.8,103.8 L1919.8,104.0 L1922.8,104.1 L1925.8,104.3 L1928.8,104.5 L1931.8,104.7 L1934.8,104.8 L1937.8,105.0 L1940.8,105.3 L1943.8,105.5 L1946.8,105.7 L1949.8,105.9 L1952.7,106.2 L1955.7,106.4 L1958.7,106.7 L1961.7,107.0 L1964.7,107.3 L1967.7,107.6 L1970.7,107.9 L1973.6,108.2 L1976.6,108.6 L1979.6,108.9 L1982.6,109.3 L1985.6,109.7 L1988.5,110.0 L1991.5,110.5 L1994.5,110.9 L1997.4,111.3 L2000.4,111.8 L2003.4,112.2 L2006.3,112.7 L2009.3,113.2 L2012.2,113.7 L2015.2,114.3 L2018.1,114.8 L2021.1,115.4 L2024.0,116.0 L2027.0,116.5 L2029.9,117.1 L2032.9,117.8 L2035.8,118.4 L2038.7,119.0 L2041.7,119.7 L2044.6,120.3 L2047.5,121.0 L2050.5,121.7 L2053.4,122.4 L2056.3,123.1 L2059.2,123.8 L2062.2,124.6 L2065.1,125.3 L2068.0,126.1 L2070.9,126.8 L2073.8,127.6 L2076.7,128.4 L2079.6,129.2 L2082.5,130.0 L2085.4,130.8 L2088.3,131.6 L2091.2,132.5 L2094.1,133.3 L2097.0,134.2 L2099.9,135.0 L2102.8,135.9 L2105.6,136.8 L2108.5,137.6 L2111.4,138.5 L2114.3,139.4 L2117.1,140.3 L2120.0,141.3 L2122.9,142.2 L2125.7,143.1 L2128.6,144.0 L2131.5,145.0 L2134.3,145.9 L2137.2,146.9 L2140.0,147.8 L2142.9,148.8 L2145.7,149.8 L2148.6,150.8 L2151.4,151.7 L2154.3,152.7 L2157.1,153.7 L2159.9,154.7 L2162.8,155.7 L2165.6,156.8 L2168.4,157.8 L2171.3,158.8 L2174.1,159.8 L2176.9,160.9 L2179.8,161.9 L2182.6,163.0 L2185.4,164.0 L2188.2,165.1 L2191.0,166.1 L2193.9,167.2 L2196.7,168.3 L2199.5,169.3 L2202.3,170.4 L2205.1,171.5 L2207.9,172.6 L2210.7,173.6 L2213.5,174.7 L2216.3,175.8 L2219.1,176.9 L2221.9,178.0 L2224.7,179.1 L2227.5,180.2 L2230.3,181.3 L2233.1,182.5 L2235.9,183.6 L2238.7,184.7 L2241.5,185.8 L2244.3,186.9 L2247.1,188.1 L2249.9,189.2 L2252.6,190.3 L2255.4,191.4 L2258.2,192.6 L2261.0,193.7 L2263.8,194.8 L2266.6,196.0 L2269.3,197.1 L2272.1,198.2 L2274.9,199.4 L2277.7,200.5 L2280.5,201.7 L2283.2,202.8 L2286.0,203.9 L2288.8,205.1 L2291.6,206.2 L2294.3,207.4 L2297.1,208.5" fill="none" stroke="#9a32cd" stroke-width="1.33" stroke-dasharray="8,8"/>
<polygon points="653.6,152.0 666.4,146.2 667.3,155.5" fill="#9a32cd" stroke="#9a32cd" stroke-width="1.33"/>
<path d="M666.9,159.8 L966.4,159.8" fill="none" stroke="#9a32cd" stroke-width="1.33" stroke-dasharray="8,8"/>
<polygon points="653.6,159.8 666.9,155.1 666.9,164.5" fill="#9a32cd" stroke="#9a32cd" stroke-width="1.33"/>
<path d="M666.4,174.9 L669.2,175.8 L672.1,176.7 L675.0,177.6 L677.9,178.4 L680.8,179.3 L683.7,180.2 L686.5,181.1 L689.4,181.9 L692.3,182.8 L695.2,183.6 L698.1,184.5 L701.0,185.3 L703.9,186.2 L706.8,187.0 L709.7,187.9 L712.5,188.7 L715.4,189.6 L718.3,190.4 L721.2,191.2 L724.1,192.0 L727.0,192.9 L729.9,193.7 L732.8,194.5 L735.7,195.3 L738.7,196.1 L741.6,196.9 L744.5,197.7 L747.4,198.5 L750.3,199.3 L753.2,200.0 L756.1,200.8 L759.0,201.6 L761.9,202.4 L764.8,203.1 L767.8,203.9 L770.7,204.6 L773.6,205.4 L776.5,206.1 L779.4,206.9 L782.4,207.6 L785.3,208.3 L788.2,209.1 L791.1,209.8 L794.1,210.5 L797.0,211.2 L799.9,211.9 L802.8,212.6 L805.8,213.3 L808.7,214.0 L811.6,214.7 L814.6,215.4 L817.5,216.0 L820.4,216.7 L823.4,217.4 L826.3,218.0 L829.3,218.7 L832.2,219.3 L835.1,220.0 L838.1,220.6 L841.0,221.2 L844.0,221.8 L846.9,222.5 L849.9,223.1 L852.8,223.7 L855.8,224.3 L858.7,224.8 L861.7,225.4 L864.6,226.0 L867.6,226.6 L870.5,227.1 L873.5,227.7 L876.4,228.2 L879.4,228.8 L882.3,229.3 L885.3,229.9 L888.3,230.4 L891.2,230.9 L894.2,231.4 L897.1,231.9 L900.1,232.4 L903.1,232.9 L906.0,233.4 L909.0,233.8 L912.0,234.3 L914.9,234.8 L917.9,235.2 L920.9,235.7 L923.8,236.1 L926.8,236.5 L929.8,237.0 L932.8,237.4 L935.7,237.8 L938.7,238.2 L941.7,238.6 L944.7,239.0 L947.6,239.3 L950.6,239.7 L953.6,240.1 L956.6,240.4 L959.6,240.7 L962.5,241.1 L965.5,241.4 L968.5,241.7 L971.5,242.0 L974.5,242.3 L977.5,242.6 L980.5,242.9 L983.4,243.2 L986.4,243.5 L989.4,243.7 L992.4,244.0 L995.4,244.2 L998.4,244.4 L1001.4,244.7 L1004.4,244.9 L1007.4,245.1 L1010.4,245.3 L1013.4,245.5 L1016.4,245.7 L1019.4,245.9 L1022.4,246.1 L1025.4,246.2 L1028.4,246.4 L1031.4,246.6 L1034.4,246.7 L1037.4,246.9 L1040.4,247.0 L1043.4,247.1 L1046.4,247.3 L1049.4,247.4 L1052.4,247.5 L1055.4,247.6 L1058.4,247.8 L1061.4,247.9 L1064.4,248.0 L1067.4,248.1 L1070.4,248.2 L1073.4,248.3 L1076.5,248.3 L1079.5,248.4 L1082.5,248.5 L1085.5,248.6 L1088.5,248.7 L1091.5,248.7 L1094.5,248.8 L1097.5,248.9 L1100.5,248.9 L1103.5,249.0 L1106.6,249.1 L1109.6,249.1 L1112.6,249.2 L1115.6,249.2 L1118.6,249.3 L1121.6,249.3 L1124.6,249.4 L1127.6,249.4 L1130.6,249.5 L1133.7,249.5 L1136.7,249.6 L1139.7,249.6 L1142.7,249.7 L1145.7,249.7 L1148.7,249.7 L1151.7,249.8 L1154.7,249.8 L1157.8,249.9 L1160.8,249.9 L1163.8,250.0 L1166.8,250.0 L1169.8,250.1 L1172.8,250.1 L1175.8,250.2 L1178.8,250.2 L1181.9,250.2 L1184.9,250.3 L1187.9,250.3 L1190.9,250.4 L1193.9,250.4 L1196.9,250.5 L1199.9,250.5 L1202.9,250.6 L1205.9,250.6 L1209.0,250.6 L1212.0,250.7 L1215.0,250.7 L1218.0,250.8 L1221.0,250.8 L1224.0,250.9 L1227.0,250.9 L1230.0,251.0 L1233.1,251.0 L1236.1,251.1 L1239.1,251.1 L1242.1,251.2 L1245.1,251.2 L1248.1,251.3 L1251.1,251.3 L1254.1,251.4 L1257.1,251.4 L1260.2,251.5 L1263.2,251.5 L1266.2,251.6 L1269.2,251.6 L1272.2,251.7 L1275.2,251.8 L1278.2,251.8 L1281.2,251.9 L1284.2,251.9 L1287.3,252.0 L1290.3,252.0 L1293.3,252.1 L1296.3,252.2 L1299.3,252.2 L1302.3,252.3 L1305.3,252.3 L1308.3,252.4 L1311.3,252.5 L1314.3,252.5 L1317.4,252.6 L1320.4,252.7 L1323.4,252.7 L1326.4,252.8 L1329.4,252.9 L1332.4,252.9 L1335.4,253.0 L1338.4,253.1 L1341.4,253.1 L1344.4,253.2 L1347.5,253.3 L1350.5,253.3 L1353.5,253.4 L1356.5,253.5 L1359.5,253.5 L1362.5,253.6 L1365.5,253.7 L1368.5,253.8 L1371.5,253.8 L1374.5,253.9 L1377.6,254.0 L1380.6,254.1 L1383.6,254.1 L1386.6,254.2 L1389.6,254.3 L1392.6,254.4 L1395.6,254.4 L1398.6,254.5 L1401.6,254.6 L1404.6,254.7 L1407.6,254.7 L1410.7,254.8 L1413.7,254.9 L1416.7,255.0 L1419.7,255.1 L1422.7,255.1 L1425.7,255.2 L1428.7,255.3 L1431.7,255.4 L1434.7,255.5 L1437.7,255.5 L1440.8,255.6 L1443.8,255.7 L1446.8,255.8 L1449.8,255.9 L1452.8,255.9 L1455.8,256.0 L1458.8,256.1 L1461.8,256.2 L1464.8,256.3 L1467.8,256.4 L1470.8,256.4 L1473.8,256.5 L1476.9,256.6 L1479.9,256.7 L1482.9,256.8 L1485.9,256.9 L1488.9,256.9 L1491.9,257.0 L1494.9,257.1 L1497.9,257.2 L1500.9,257.3 L1503.9,257.4 L1506.9,257.4 L1510.0,257.5 L1513.0,257.6 L1516.0,257.7 L1519.0,257.8 L1522.0,257.9 L1525.0,258.0 L1528.0,258.0 L1531.0,258.1 L1534.0,258.2 L1537.0,258.3 L1540.0,258.4 L1543.1,258.5 L1546.1,258.6 L1549.1,258.6 L1552.1,258.7 L1555.1,258.8 L1558.1,258.9 L1561.1,259.0 L1564.1,259.1 L1567.1,259.2 L1570.1,259.2 L1573.1,259.3 L1576.2,259.4 L1579.2,259.5 L1582.2,259.6 L1585.2,259.7 L1588.2,259.7 L1591.2,259.8 L1594.2,259.9 L1597.2,260.0 L1600.2,260.1 L1603.2,260.2 L1606.2,260.2 L1609.2,260.3 L1612.3,260.4 L1615.3,260.5 L1618.3,260.6 L1621.3,260.7 L1624.3,260.7 L1627.3,260.8 L1630.3,260.9 L1633.3,261.0 L1636.3,261.1 L1639.3,261.2 L1642.3,261.2 L1645.4,261.3 L1648.4,261.4 L1651.4,261.5 L1654.4,261.6 L1657.4,261.6 L1660.4,261.7 L1663.4,261.8 L1666.4,261.9 L1669.4,262.0 L1672.4,262.0 L1675.4,262.1 L1678.5,262.2 L1681.5,262.3 L1684.5,262.3 L1687.5,262.4 L1690.5,262.5 L1693.5,262.6 L1696.5,262.7 L1699.5,262.7 L1702.5,262.8 L1705.5,262.9 L1708.5,263.0 L1711.6,263.0 L1714.6,263.1 L1717.6,263.2 L1720.6,263.2 L1723.6,263.3 L1726.6,263.4 L1729.6,263.5 L1732.6,263.5 L1735.6,263.6 L1738.6,263.7 L1741.7,263.7 L1744.7,263.8 L1747.7,263.9 L1750.7,263.9 L1753.7,264.0 L1756.7,264.1 L1759.7,264.1 L1762.7,264.2 L1765.7,264.3 L1768.7,264.3 L1771.8,264.4 L1774.8,264.5 L1777.8,264.5 L1780.8,264.6 L1783.8,264.7 L1786.8,264.7 L1789.8,264.8 L1792.8,264.8 L1795.8,264.9 L1798.8,264.9 L1801.9,265.0 L1804.9,265.1 L1807.9,265.1 L1810.9,265.2 L1813.9,265.2 L1816.9,265.3 L1819.9,265.3 L1822.9,265.4 L1825.9,265.4 L1829.0,265.5 L1832.0,265.5 L1835.0,265.6 L1838.0,265.6 L1841.0,265.7" fill="none" stroke="#9a32cd" stroke-width="1.33" stroke-dasharray="8,8"/>
<polygon points="653.6,171.2 667.7,170.4 665.1,179.4" fill="#9a32cd" stroke="#9a32cd" stroke-width="1.33"/>
<path d="M646.2,181.0 L648.7,182.6 L651.3,184.3 L653.8,185.9 L656.3,187.5 L658.8,189.1 L661.4,190.8 L663.9,192.4 L666.4,194.0 L668.9,195.7 L671.4,197.3 L673.9,199.0 L676.4,200.6 L678.9,202.3 L681.5,203.9 L684.0,205.6 L686.5,207.2 L689.0,208.9 L691.5,210.5 L694.0,212.2 L696.5,213.9 L699.0,215.5 L701.5,217.2 L704.0,218.9 L706.5,220.5 L709.0,222.2 L711.5,223.8 L714.0,225.5 L716.6,227.2 L719.1,228.8 L721.6,230.5 L724.1,232.2 L726.6,233.8 L729.1,235.5 L731.6,237.1 L734.1,238.8 L736.7,240.4 L739.2,242.1 L741.7,243.8 L744.2,245.4 L746.7,247.0 L749.3,248.7 L751.8,250.3 L754.3,252.0 L756.9,253.6 L759.4,255.2 L761.9,256.9 L764.5,258.5 L767.0,260.1 L769.6,261.8 L772.1,263.4 L774.7,265.0 L777.2,266.6 L779.8,268.2 L782.3,269.8 L784.9,271.4 L787.5,273.0 L790.0,274.6 L792.6,276.2 L795.2,277.7 L797.8,279.3 L800.3,280.9 L802.9,282.4 L805.5,284.0 L808.1,285.5 L810.7,287.1 L813.3,288.6 L815.9,290.1 L818.5,291.6 L821.1,293.1 L823.8,294.7 L826.4,296.1 L829.0,297.6 L831.6,299.1 L834.3,300.6 L836.9,302.0 L839.6,303.5 L842.2,304.9 L844.9,306.4 L847.5,307.8 L850.2,309.2 L852.8,310.6 L855.5,312.0 L858.2,313.4 L860.9,314.8 L863.5,316.1 L866.2,317.5 L868.9,318.8 L871.6,320.2 L874.3,321.5 L877.0,322.8 L879.7,324.1 L882.5,325.4 L885.2,326.6 L887.9,327.9 L890.6,329.2 L893.4,330.4 L896.1,331.6 L898.9,332.8 L901.6,334.0 L904.4,335.2 L907.1,336.3 L909.9,337.5 L912.7,338.6 L915.4,339.7 L918.2,340.8 L921.0,341.9 L923.8,343.0 L926.6,344.1 L929.4,345.1 L932.2,346.1 L935.1,347.2 L937.9,348.2 L940.7,349.1 L943.5,350.1 L946.4,351.1 L949.2,352.0 L952.1,352.9 L954.9,353.8 L957.8,354.7 L960.6,355.6 L963.5,356.4 L966.4,357.3 L969.3,358.1 L972.1,358.9 L975.0,359.7 L977.9,360.5 L980.8,361.3 L983.7,362.0 L986.6,362.8 L989.5,363.5 L992.4,364.2 L995.3,364.9 L998.3,365.6 L1001.2,366.2 L1004.1,366.9 L1007.0,367.5 L1010.0,368.1 L1012.9,368.7 L1015.8,369.3 L1018.8,369.9 L1021.7,370.5 L1024.7,371.0 L1027.6,371.6 L1030.6,372.1 L1033.5,372.6 L1036.5,373.2 L1039.5,373.6 L1042.4,374.1 L1045.4,374.6 L1048.4,375.1 L1051.3,375.5 L1054.3,376.0 L1057.3,376.4 L1060.3,376.9 L1063.2,377.3 L1066.2,377.7 L1069.2,378.1 L1072.2,378.5 L1075.2,378.9 L1078.1,379.3 L1081.1,379.6 L1084.1,380.0 L1087.1,380.4 L1090.1,380.7 L1093.1,381.1 L1096.1,381.4 L1099.0,381.7 L1102.0,382.1 L1105.0,382.4 L1108.0,382.7 L1111.0,383.0 L1114.0,383.3 L1117.0,383.6 L1120.0,383.9 L1123.0,384.2 L1126.0,384.5 L1129.0,384.7 L1132.0,385.0 L1135.0,385.3 L1138.0,385.5 L1141.0,385.8 L1144.0,386.0 L1147.0,386.3 L1150.0,386.5 L1153.0,386.8 L1156.0,387.0 L1159.0,387.2 L1162.0,387.4 L1165.0,387.7 L1168.0,387.9 L1171.0,388.1 L1174.0,388.3 L1177.0,388.5 L1180.0,388.7 L1183.0,388.9 L1186.0,389.1 L1189.0,389.3 L1192.0,389.5 L1195.1,389.7 L1198.1,389.9 L1201.1,390.1 L1204.1,390.3 L1207.1,390.5 L1210.1,390.7 L1213.1,390.9 L1216.1,391.0 L1219.1,391.2 L1222.1,391.4 L1225.1,391.6 L1228.1,391.8 L1231.1,391.9 L1234.2,392.1 L1237.2,392.3 L1240.2,392.5 L1243.2,392.6 L1246.2,392.8 L1249.2,393.0 L1252.2,393.1 L1255.2,393.3 L1258.2,393.5 L1261.2,393.7 L1264.2,393.8 L1267.2,394.0 L1270.2,394.2 L1273.2,394.3 L1276.3,394.5 L1279.3,394.6 L1282.3,394.8 L1285.3,395.0 L1288.3,395.1 L1291.3,395.3 L1294.3,395.5 L1297.3,395.6 L1300.3,395.8 L1303.3,395.9 L1306.3,396.1 L1309.3,396.2 L1312.3,396.4 L1315.3,396.5 L1318.4,396.7 L1321.4,396.9 L1324.4,397.0 L1327.4,397.2 L1330.4,397.3 L1333.4,397.5 L1336.4,397.6 L1339.4,397.7 L1342.4,397.9 L1345.4,398.0 L1348.4,398.2 L1351.4,398.3 L1354.4,398.5 L1357.4,398.6 L1360.4,398.8 L1363.5,398.9 L1366.5,399.0 L1369.5,399.2 L1372.5,399.3 L1375.5,399.5 L1378.5,399.6 L1381.5,399.7 L1384.5,399.9 L1387.5,400.0 L1390.5,400.1 L1393.5,400.3 L1396.5,400.4 L1399.5,400.5 L1402.5,400.7 L1405.5,400.8 L1408.6,400.9 L1411.6,401.1 L1414.6,401.2 L1417.6,401.3 L1420.6,401.4 L1423.6,401.6 L1426.6,401.7 L1429.6,401.8 L1432.6,401.9 L1435.6,402.1 L1438.6,402.2 L1441.6,402.3 L1444.6,402.4 L1447.6,402.5 L1450.6,402.7 L1453.7,402.8 L1456.7,402.9 L1459.7,403.0 L1462.7,403.1 L1465.7,403.3 L1468.7,403.4 L1471.7,403.5 L1474.7,403.6 L1477.7,403.7 L1480.7,403.8 L1483.7,403.9 L1486.7,404.0 L1489.7,404.2 L1492.7,404.3 L1495.7,404.4 L1498.7,404.5 L1501.8,404.6 L1504.8,404.7 L1507.8,404.8 L1510.8,404.9 L1513.8,405.0 L1516.8,405.1 L1519.8,405.2 L1522.8,405.3 L1525.8,405.4 L1528.8,405.5 L1531.8,405.6 L1534.8,405.7 L1537.8,405.8 L1540.8,405.9 L1543.9,406.0 L1546.9,406.1 L1549.9,406.2 L1552.9,406.3 L1555.9,406.4 L1558.9,406.5 L1561.9,406.6 L1564.9,406.7 L1567.9,406.8 L1570.9,406.9 L1573.9,407.0 L1576.9,407.1 L1579.9,407.2 L1582.9,407.2 L1586.0,407.3 L1589.0,407.4 L1592.0,407.5 L1595.0,407.6 L1598.0,407.7 L1601.0,407.8 L1604.0,407.9 L1607.0,407.9 L1610.0,408.0 L1613.0,408.1 L1616.0,408.2 L1619.0,408.3 L1622.0,408.4 L1625.0,408.4 L1628.1,408.5 L1631.1,408.6 L1634.1,408.7 L1637.1,408.8 L1640.1,408.8 L1643.1,408.9 L1646.1,409.0 L1649.1,409.1 L1652.1,409.2 L1655.1,409.2 L1658.1,409.3 L1661.1,409.4 L1664.2,409.5 L1667.2,409.5 L1670.2,409.6 L1673.2,409.7 L1676.2,409.7 L1679.2,409.8 L1682.2,409.9 L1685.2,410.0 L1688.2,410.0 L1691.2,410.1 L1694.2,410.2 L1697.2,410.2 L1700.3,410.3 L1703.3,410.4 L1706.3,410.4 L1709.3,410.5 L1712.3,410.6 L1715.3,410.6 L1718.3,410.7 L1721.3,410.8 L1724.3,410.8 L1727.3,410.9 L1730.3,410.9 L1733.4,411.0 L1736.4,411.1 L1739.4,411.1 L1742.4,411.2 L1745.4,411.2 L1748.4,411.3 L1751.4,411.4 L1754.4,411.4 L1757.4,411.5 L1760.4,411.5 L1763.4,411.6 L1766.5,411.7 L1769.5,411.7 L1772.5,411.8 L1775.5,411.8 L1778.5,411.9 L1781.5,411.9 L1784.5,412.0 L1787.5,412.0 L1790.5,412.1 L1793.5,412.1 L1796.6,412.2 L1799.6,412.2 L1802.6,412.3 L1805.6,412.3 L1808.6,412.4 L1811.6,412.4 L1814.6,412.5 L1817.6,412.5 L1820.6,412.6 L1823.7,412.6 L1826.7,412.7 L1829.7,412.7 L1832.7,412.8 L1835.7,412.8" fill="none" stroke="#9a32cd" stroke-width="1.33" stroke-dasharray="8,8"/>
<polygon points="636.0,172.5 649.2,177.4 643.2,184.6" fill="#9a32cd" stroke="#9a32cd" stroke-width="1.33"/>
<path d="M1165.6,164.8 L1396.0,176.0" fill="none" stroke="#ffa500" stroke-width="1.33" stroke-dasharray="8,8"/>
<polygon points="1152.3,164.2 1165.8,160.1 1165.4,169.5" fill="#ffa500" stroke="#ffa500" stroke-width="1.33"/>
<path d="M644.4,410.0 L646.8,408.1 L649.1,406.3 L651.5,404.4 L653.9,402.6 L656.3,400.7 L658.7,398.9 L661.1,397.1 L663.4,395.2 L665.8,393.4 L668.2,391.5 L670.6,389.7 L673.0,387.8 L675.4,386.0 L677.8,384.1 L680.2,382.3 L682.6,380.4 L685.0,378.6 L687.4,376.7 L689.8,374.9 L692.1,373.0 L694.5,371.2 L696.9,369.4 L699.3,367.5 L701.8,365.7 L704.2,363.8 L706.6,362.0 L709.0,360.2 L711.4,358.3 L713.8,356.5 L716.2,354.6 L718.6,352.8 L721.0,351.0 L723.4,349.2 L725.8,347.3 L728.3,345.5 L730.7,343.7 L733.1,341.9 L735.5,340.0 L738.0,338.2 L740.4,336.4 L742.8,334.6 L745.2,332.8 L747.7,331.0 L750.1,329.2 L752.5,327.4 L755.0,325.5 L757.4,323.8 L759.9,322.0 L762.3,320.2 L764.8,318.4 L767.2,316.6 L769.7,314.8 L772.1,313.0 L774.6,311.2 L777.0,309.5 L779.5,307.7 L782.0,305.9 L784.4,304.2 L786.9,302.4 L789.4,300.7 L791.8,298.9 L794.3,297.2 L796.8,295.4 L799.3,293.7 L801.8,291.9 L804.2,290.2 L806.7,288.5 L809.2,286.8 L811.7,285.0 L814.2,283.3 L816.7,281.6 L819.2,279.9 L821.7,278.2 L824.2,276.5 L826.8,274.8 L829.3,273.1 L831.8,271.5 L834.3,269.8 L836.8,268.1 L839.4,266.5 L841.9,264.8 L844.4,263.2 L847.0,261.5 L849.5,259.9 L852.1,258.2 L854.6,256.6 L857.2,255.0 L859.7,253.4 L862.3,251.8 L864.8,250.2 L867.4,248.6 L870.0,247.0 L872.5,245.4 L875.1,243.8 L877.7,242.2 L880.3,240.7 L882.9,239.1 L885.5,237.6 L888.1,236.0 L890.7,234.5 L893.3,233.0 L895.9,231.4 L898.5,229.9 L901.1,228.4 L903.7,226.9 L906.3,225.4 L909.0,223.9 L911.6,222.5 L914.2,221.0 L916.9,219.5 L919.5,218.1 L922.2,216.6 L924.8,215.2 L927.5,213.7 L930.2,212.3 L932.8,210.9 L935.5,209.5 L938.2,208.1 L940.9,206.7 L943.5,205.3 L946.2,204.0 L948.9,202.6 L951.6,201.3 L954.3,199.9 L957.0,198.6 L959.8,197.3 L962.5,195.9 L965.2,194.6 L967.9,193.3 L970.7,192.0 L973.4,190.8 L976.1,189.5 L978.9,188.2 L981.6,187.0 L984.4,185.8 L987.2,184.5 L989.9,183.3 L992.7,182.1 L995.5,180.9" fill="none" stroke="#191970" stroke-width="1.33"/>
<polygon points="633.7,417.9 641.6,406.2 647.2,413.7" fill="#191970" stroke="#191970" stroke-width="1.33"/>
<path d="M1136.1,211.0 C1144.1,210.6 1152.1,210.7 1160.0,210.0 C1238.6,202.9 1317.2,195.1 1395.8,187.6" fill="none" stroke="#191970" stroke-width="1.33"/>
<polygon points="1122.8,211.5 1135.9,206.3 1136.3,215.7" fill="#191970" stroke="#191970" stroke-width="1.33"/>
<path d="M1574.4,192.3 L1577.5,192.8 L1580.5,193.3 L1583.5,193.8 L1586.5,194.3 L1589.5,194.7 L1592.6,195.2 L1595.6,195.7 L1598.6,196.2 L1601.6,196.7 L1604.6,197.2 L1607.7,197.6 L1610.7,198.1 L1613.7,198.6 L1616.7,199.1 L1619.8,199.6 L1622.8,200.1 L1625.8,200.6 L1628.8,201.1 L1631.8,201.5 L1634.9,202.0 L1637.9,202.5 L1640.9,203.0 L1643.9,203.5 L1647.0,204.1 L1650.0,204.6 L1653.0,205.1 L1656.0,205.6 L1659.0,206.1 L1662.1,206.6 L1665.1,207.1 L1668.1,207.7 L1671.1,208.2 L1674.1,208.7 L1677.2,209.3 L1680.2,209.8 L1683.2,210.4 L1686.2,210.9 L1689.2,211.5 L1692.2,212.0 L1695.2,212.6 L1698.2,213.2 L1701.3,213.8 L1704.3,214.3 L1707.3,214.9 L1710.3,215.5 L1713.3,216.1 L1716.3,216.7 L1719.3,217.3 L1722.3,218.0 L1725.3,218.6 L1728.3,219.2 L1731.3,219.9 L1734.3,220.5 L1737.2,221.2 L1740.2,221.8 L1743.2,222.5 L1746.2,223.2 L1749.2,223.8 L1752.2,224.5 L1755.2,225.2 L1758.1,225.9 L1761.1,226.6 L1764.1,227.4 L1767.0,228.1 L1770.0,228.8 L1773.0,229.6 L1775.9,230.3 L1778.9,231.1 L1781.9,231.9 L1784.8,232.7 L1787.8,233.4 L1790.7,234.2 L1793.7,235.1 L1796.6,235.9 L1799.6,236.7 L1802.5,237.6 L1805.4,238.4 L1808.4,239.3 L1811.3,240.2 L1814.2,241.0 L1817.2,241.9 L1820.1,242.8 L1823.0,243.8 L1825.9,244.7 L1828.8,245.6 L1831.7,246.6 L1834.6,247.5 L1837.5,248.5 L1840.4,249.5 L1843.3,250.5 L1846.2,251.5 L1849.1,252.6 L1852.0,253.6" fill="none" stroke="#191970" stroke-width="1.33"/>
<polygon points="1561.3,190.3 1575.2,187.7 1573.7,197.0" fill="#191970" stroke="#191970" stroke-width="1.33"/>
<path d="M1949.4,257.3 L2238.4,228.8" fill="none" stroke="#9a32cd" stroke-width="1.33" stroke-dasharray="8,8"/>
<polygon points="1936.2,258.6 1949.0,252.6 1949.9,262.0" fill="#9a32cd" stroke="#9a32cd" stroke-width="1.33"/>
<path d="M2288.3,238.6 L2285.5,239.8 L2282.7,240.9 L2279.8,242.0 L2277.0,243.1 L2274.1,244.2 L2271.2,245.2 L2268.4,246.3 L2265.5,247.3 L2262.6,248.3 L2259.7,249.2 L2256.9,250.2 L2254.0,251.1 L2251.1,252.0 L2248.2,252.9 L2245.3,253.7 L2242.4,254.6 L2239.5,255.4 L2236.6,256.2 L2233.7,257.0 L2230.7,257.8 L2227.8,258.6 L2224.9,259.3 L2222.0,260.0 L2219.0,260.7 L2216.1,261.4 L2213.2,262.1 L2210.2,262.7 L2207.3,263.3 L2204.3,264.0 L2201.4,264.6 L2198.4,265.1 L2195.5,265.7 L2192.5,266.2 L2189.5,266.8 L2186.6,267.3 L2183.6,267.8 L2180.6,268.3 L2177.6,268.7 L2174.7,269.2 L2171.7,269.6 L2168.7,270.1 L2165.7,270.5 L2162.7,270.9 L2159.7,271.2 L2156.8,271.6 L2153.8,272.0 L2150.8,272.3 L2147.8,272.6 L2144.8,272.9 L2141.8,273.2 L2138.8,273.5 L2135.8,273.8 L2132.7,274.0 L2129.7,274.3 L2126.7,274.5 L2123.7,274.7 L2120.7,274.9 L2117.7,275.1 L2114.7,275.3 L2111.6,275.5 L2108.6,275.6 L2105.6,275.8 L2102.6,275.9 L2099.6,276.1 L2096.5,276.2 L2093.5,276.3 L2090.5,276.4 L2087.5,276.5 L2084.4,276.5 L2081.4,276.6 L2078.4,276.6 L2075.3,276.7 L2072.3,276.7 L2069.3,276.7 L2066.2,276.8 L2063.2,276.8 L2060.2,276.8 L2057.1,276.8 L2054.1,276.7 L2051.1,276.7 L2048.0,276.7 L2045.0,276.6 L2042.0,276.6 L2038.9,276.5 L2035.9,276.4 L2032.9,276.4 L2029.8,276.3 L2026.8,276.2 L2023.8,276.1 L2020.7,276.0 L2017.7,275.9 L2014.7,275.8 L2011.6,275.7 L2008.6,275.5 L2005.6,275.4 L2002.6,275.3 L1999.5,275.1 L1996.5,275.0 L1993.5,274.8 L1990.4,274.6 L1987.4,274.5 L1984.4,274.3 L1981.4,274.1 L1978.3,274.0 L1975.3,273.8 L1972.3,273.6 L1969.3,273.4 L1966.3,273.2 L1963.3,273.0 L1960.2,272.8 L1957.2,272.6 L1954.2,272.4 L1951.2,272.2 L1948.2,272.0 L1945.2,271.8 L1942.2,271.5 L1939.2,271.3 L1936.2,271.1" fill="none" stroke="#9a32cd" stroke-width="1.33" stroke-dasharray="8,8"/>
<polygon points="2300.8,234.0 2290.0,243.0 2286.7,234.2" fill="#9a32cd" stroke="#9a32cd" stroke-width="1.33"/>
<path d="M1539.5,292.7 C1613.0,288.0 1686.5,283.7 1760.0,278.7 C1787.0,276.8 1814.0,274.2 1841.0,272.0" fill="none" stroke="#9a32cd" stroke-width="1.33" stroke-dasharray="8,8"/>
<polygon points="1526.2,293.5 1539.2,288.0 1539.8,297.4" fill="#9a32cd" stroke="#9a32cd" stroke-width="1.33"/>
<path d="M1108.8,327.5 L1111.9,327.3 L1114.9,327.0 L1117.9,326.7 L1121.0,326.4 L1124.0,326.2 L1127.1,325.9 L1130.1,325.6 L1133.1,325.3 L1136.2,325.1 L1139.2,324.8 L1142.2,324.5 L1145.3,324.2 L1148.3,324.0 L1151.4,323.7 L1154.4,323.4 L1157.4,323.2 L1160.5,322.9 L1163.5,322.6 L1166.6,322.3 L1169.6,322.1 L1172.6,321.8 L1175.7,321.5 L1178.7,321.3 L1181.8,321.0 L1184.8,320.7 L1187.8,320.5 L1190.9,320.2 L1193.9,319.9 L1196.9,319.7 L1200.0,319.4 L1203.0,319.1 L1206.1,318.9 L1209.1,318.6 L1212.1,318.3 L1215.2,318.1 L1218.2,317.8 L1221.3,317.5 L1224.3,317.3 L1227.3,317.0 L1230.4,316.8 L1233.4,316.5 L1236.5,316.2 L1239.5,316.0 L1242.5,315.7 L1245.6,315.4 L1248.6,315.2 L1251.7,314.9 L1254.7,314.7 L1257.7,314.4 L1260.8,314.1 L1263.8,313.9 L1266.8,313.6 L1269.9,313.4 L1272.9,313.1 L1276.0,312.8 L1279.0,312.6 L1282.0,312.3 L1285.1,312.1 L1288.1,311.8 L1291.2,311.5 L1294.2,311.3 L1297.2,311.0 L1300.3,310.8 L1303.3,310.5 L1306.4,310.3 L1309.4,310.0 L1312.4,309.7 L1315.5,309.5 L1318.5,309.2 L1321.6,309.0 L1324.6,308.7 L1327.6,308.5 L1330.7,308.2 L1333.7,307.9 L1336.8,307.7 L1339.8,307.4 L1342.8,307.2 L1345.9,306.9 L1348.9,306.7 L1352.0,306.4 L1355.0,306.2 L1358.0,305.9 L1361.1,305.6 L1364.1,305.4 L1367.2,305.1 L1370.2,304.9 L1373.2,304.6 L1376.3,304.4 L1379.3,304.1 L1382.4,303.9 L1385.4,303.6 L1388.4,303.4 L1391.5,303.1 L1394.5,302.8 L1397.6,302.6 L1400.6,302.3 L1403.6,302.1 L1406.7,301.8 L1409.7,301.6 L1412.8,301.3 L1415.8,301.1 L1418.8,300.8 L1421.9,300.6 L1424.9,300.3 L1428.0,300.1 L1431.0,299.8" fill="none" stroke="#9a32cd" stroke-width="1.33" stroke-dasharray="8,8"/>
<polygon points="1095.6,328.9 1108.3,322.9 1109.3,332.2" fill="#9a32cd" stroke="#9a32cd" stroke-width="1.33"/>
<path d="M1109.6,334.5 L1112.6,334.7 L1115.6,334.9 L1118.6,335.1 L1121.6,335.3 L1124.6,335.4 L1127.6,335.6 L1130.6,335.8 L1133.6,335.9 L1136.6,336.1 L1139.6,336.3 L1142.6,336.4 L1145.6,336.6 L1148.6,336.8 L1151.6,336.9 L1154.6,337.1 L1157.6,337.2 L1160.6,337.4 L1163.6,337.5 L1166.6,337.7 L1169.6,337.8 L1172.6,338.0 L1175.6,338.1 L1178.6,338.3 L1181.6,338.4 L1184.6,338.6 L1187.6,338.7 L1190.6,338.8 L1193.6,339.0 L1196.6,339.1 L1199.6,339.2 L1202.6,339.4 L1205.6,339.5 L1208.6,339.6 L1211.6,339.8 L1214.6,339.9 L1217.6,340.0 L1220.6,340.1 L1223.6,340.3 L1226.6,340.4 L1229.6,340.5 L1232.6,340.6 L1235.6,340.7 L1238.6,340.9 L1241.6,341.0 L1244.6,341.1 L1247.6,341.2 L1250.6,341.3 L1253.6,341.4 L1256.6,341.5 L1259.6,341.6 L1262.6,341.7 L1265.6,341.8 L1268.6,341.9 L1271.6,342.0 L1274.6,342.1 L1277.6,342.2 L1280.6,342.3 L1283.6,342.4 L1286.6,342.5 L1289.6,342.6 L1292.6,342.7 L1295.6,342.8 L1298.7,342.9 L1301.7,343.0 L1304.7,343.1 L1307.7,343.2 L1310.7,343.2 L1313.7,343.3 L1316.7,343.4 L1319.7,343.5 L1322.7,343.6 L1325.7,343.7 L1328.7,343.7 L1331.7,343.8 L1334.7,343.9 L1337.7,344.0 L1340.7,344.0 L1343.7,344.1 L1346.7,344.2 L1349.7,344.3 L1352.7,344.3 L1355.7,344.4 L1358.7,344.5 L1361.7,344.5 L1364.7,344.6 L1367.7,344.7 L1370.7,344.7 L1373.7,344.8 L1376.7,344.8 L1379.8,344.9 L1382.8,345.0 L1385.8,345.0 L1388.8,345.1 L1391.8,345.1 L1394.8,345.2 L1397.8,345.2 L1400.8,345.3 L1403.8,345.4 L1406.8,345.4 L1409.8,345.5 L1412.8,345.5 L1415.8,345.6 L1418.8,345.6 L1421.8,345.6 L1424.8,345.7 L1427.8,345.7 L1430.8,345.8 L1433.8,345.8 L1436.8,345.9 L1439.8,345.9 L1442.8,345.9 L1445.9,346.0 L1448.9,346.0 L1451.9,346.1 L1454.9,346.1 L1457.9,346.1 L1460.9,346.2 L1463.9,346.2 L1466.9,346.2 L1469.9,346.3 L1472.9,346.3 L1475.9,346.3 L1478.9,346.4 L1481.9,346.4 L1484.9,346.4 L1487.9,346.5 L1490.9,346.5 L1493.9,346.5 L1496.9,346.5 L1499.9,346.6 L1503.0,346.6 L1506.0,346.6 L1509.0,346.6 L1512.0,346.7 L1515.0,346.7 L1518.0,346.7 L1521.0,346.7 L1524.0,346.7 L1527.0,346.8 L1530.0,346.8 L1533.0,346.8 L1536.0,346.8 L1539.0,346.8 L1542.0,346.9 L1545.0,346.9 L1548.0,346.9 L1551.0,346.9 L1554.0,346.9 L1557.1,346.9 L1560.1,346.9 L1563.1,347.0 L1566.1,347.0 L1569.1,347.0 L1572.1,347.0 L1575.1,347.0 L1578.1,347.0 L1581.1,347.0 L1584.1,347.0 L1587.1,347.0 L1590.1,347.0 L1593.1,347.0 L1596.1,347.1 L1599.1,347.1 L1602.1,347.1 L1605.1,347.1 L1608.2,347.1 L1611.2,347.1 L1614.2,347.1 L1617.2,347.1 L1620.2,347.1 L1623.2,347.1 L1626.2,347.1 L1629.2,347.1 L1632.2,347.1 L1635.2,347.1 L1638.2,347.1 L1641.2,347.1 L1644.2,347.1 L1647.2,347.1 L1650.2,347.1 L1653.2,347.1 L1656.2,347.1 L1659.3,347.1 L1662.3,347.1 L1665.3,347.1 L1668.3,347.1 L1671.3,347.1 L1674.3,347.1 L1677.3,347.1 L1680.3,347.1 L1683.3,347.1 L1686.3,347.1 L1689.3,347.0 L1692.3,347.0 L1695.3,347.0 L1698.3,347.0 L1701.3,347.0 L1704.3,347.0 L1707.3,347.0 L1710.4,347.0 L1713.4,347.0 L1716.4,347.0 L1719.4,347.0 L1722.4,347.0 L1725.4,347.0 L1728.4,347.0 L1731.4,347.0 L1734.4,346.9 L1737.4,346.9 L1740.4,346.9 L1743.4,346.9 L1746.4,346.9 L1749.4,346.9 L1752.4,346.9 L1755.4,346.9 L1758.4,346.9 L1761.4,346.9 L1764.5,346.9 L1767.5,346.9 L1770.5,346.8 L1773.5,346.8 L1776.5,346.8 L1779.5,346.8 L1782.5,346.8 L1785.5,346.8 L1788.5,346.8 L1791.5,346.8 L1794.5,346.8 L1797.5,346.8 L1800.5,346.7 L1803.5,346.7 L1806.5,346.7 L1809.5,346.7 L1812.5,346.7 L1815.5,346.7 L1818.6,346.7 L1821.6,346.7 L1824.6,346.7 L1827.6,346.7 L1830.6,346.7 L1833.6,346.6 L1836.6,346.6 L1839.6,346.6 L1842.6,346.6 L1845.6,346.6 L1848.6,346.6 L1851.6,346.6 L1854.6,346.6 L1857.6,346.6 L1860.6,346.6 L1863.6,346.6 L1866.6,346.6 L1869.6,346.5 L1872.6,346.5 L1875.7,346.5 L1878.7,346.5 L1881.7,346.5 L1884.7,346.5 L1887.7,346.5 L1890.7,346.5 L1893.7,346.5 L1896.7,346.5 L1899.7,346.5 L1902.7,346.5 L1905.7,346.5 L1908.7,346.5 L1911.7,346.5 L1914.7,346.5 L1917.7,346.5 L1920.7,346.4 L1923.7,346.4 L1926.7,346.4 L1929.7,346.4 L1932.7,346.4 L1935.7,346.4 L1938.8,346.4 L1941.8,346.4 L1944.8,346.4 L1947.8,346.4 L1950.8,346.4 L1953.8,346.4 L1956.8,346.4 L1959.8,346.4 L1962.8,346.4 L1965.8,346.4 L1968.8,346.4 L1971.8,346.4 L1974.8,346.4 L1977.8,346.4 L1980.8,346.4 L1983.8,346.4 L1986.8,346.4 L1989.8,346.4 L1992.8,346.4 L1995.8,346.4 L1998.8,346.4 L2001.8,346.4 L2004.8,346.4 L2007.9,346.4 L2010.9,346.4 L2013.9,346.4 L2016.9,346.4 L2019.9,346.4 L2022.9,346.4 L2025.9,346.4 L2028.9,346.4 L2031.9,346.4 L2034.9,346.4 L2037.9,346.4 L2040.9,346.4 L2043.9,346.4 L2046.9,346.4 L2049.9,346.4 L2052.9,346.4 L2055.9,346.4 L2058.9,346.4 L2061.9,346.4 L2064.9,346.4 L2067.9,346.4 L2070.9,346.4 L2073.9,346.4 L2076.9,346.4 L2080.0,346.4 L2083.0,346.4 L2086.0,346.4 L2089.0,346.4 L2092.0,346.4 L2095.0,346.4 L2098.0,346.4 L2101.0,346.4 L2104.0,346.4 L2107.0,346.4 L2110.0,346.4 L2113.0,346.4 L2116.0,346.4 L2119.0,346.4 L2122.0,346.4 L2125.0,346.4 L2128.0,346.4 L2131.0,346.4 L2134.0,346.4 L2137.0,346.4 L2140.0,346.4 L2143.0,346.4 L2146.0,346.5 L2149.0,346.5 L2152.1,346.5 L2155.1,346.5 L2158.1,346.5 L2161.1,346.5 L2164.1,346.5 L2167.1,346.5 L2170.1,346.5 L2173.1,346.5 L2176.1,346.5 L2179.1,346.5 L2182.1,346.5 L2185.1,346.5 L2188.1,346.5 L2191.1,346.5 L2194.1,346.5 L2197.1,346.5 L2200.1,346.5 L2203.1,346.5 L2206.1,346.5 L2209.1,346.5 L2212.1,346.5 L2215.1,346.5 L2218.1,346.5 L2221.1,346.6 L2224.2,346.6 L2227.2,346.6 L2230.2,346.6 L2233.2,346.6 L2236.2,346.6 L2239.2,346.6 L2242.2,346.6 L2245.2,346.6 L2248.2,346.6 L2251.2,346.6 L2254.2,346.6 L2257.2,346.6 L2260.2,346.6 L2263.2,346.6 L2266.2,346.6 L2269.2,346.6 L2272.2,346.6 L2275.2,346.6 L2278.2,346.6 L2281.2,346.6 L2284.2,346.6 L2287.2,346.7 L2290.3,346.7 L2293.3,346.7 L2296.3,346.7 L2299.3,346.7 L2302.3,346.7 L2305.3,346.7 L2308.3,346.7 L2311.3,346.7 L2314.3,346.7 L2317.3,346.7 L2320.3,346.7 L2323.3,346.7 L2326.3,346.7 L2329.3,346.7 L2332.3,346.7 L2335.3,346.7 L2338.3,346.7 L2341.3,346.7 L2344.3,346.7 L2347.3,346.7 L2350.4,346.7 L2353.4,346.8 L2356.4,346.8 L2359.4,346.8 L2362.4,346.8 L2365.4,346.8 L2368.4,346.8 L2371.4,346.8 L2374.4,346.8 L2377.4,346.8 L2380.4,346.8 L2383.4,346.8 L2386.4,346.8 L2389.4,346.8 L2392.4,346.8 L2395.4,346.8 L2398.4,346.8 L2401.4,346.8 L2404.5,346.8 L2407.5,346.8 L2410.5,346.8 L2413.5,346.8 L2416.5,346.8 L2419.5,346.8 L2422.5,346.8 L2425.5,346.8 L2428.5,346.9 L2431.5,346.9 L2434.5,346.9 L2437.5,346.9 L2440.5,346.9 L2443.5,346.9 L2446.5,346.9 L2449.5,346.9 L2452.6,346.9 L2455.6,346.9 L2458.6,346.9 L2461.6,346.9 L2464.6,346.9 L2467.6,346.9 L2470.6,346.9 L2473.6,346.9 L2476.6,346.9 L2479.6,346.9 L2482.6,346.9 L2485.6,346.9 L2488.6,346.9 L2491.6,346.9 L2494.6,346.9 L2497.7,346.9 L2500.7,346.9 L2503.7,346.9 L2506.7,346.9 L2509.7,346.9 L2512.7,346.9 L2515.7,346.9 L2518.7,346.9 L2521.7,346.9 L2524.7,346.9 L2527.7,346.9 L2530.7,346.9 L2533.7,346.9 L2536.8,346.9 L2539.8,346.9 L2542.8,346.9 L2545.8,346.9 L2548.8,346.9 L2551.8,346.9 L2554.8,346.9 L2557.8,346.9 L2560.8,346.9 L2563.8,346.9 L2566.8,346.9 L2569.8,346.9 L2572.9,346.9 L2575.9,346.9 L2578.9,346.9 L2581.9,346.9 L2584.9,346.9 L2587.9,346.9 L2590.9,346.9 L2593.9,346.9 L2596.9,346.9 L2599.9,346.9 L2602.9,346.9 L2605.9,346.9 L2609.0,346.9 L2612.0,346.9 L2615.0,346.9 L2618.0,346.9 L2621.0,346.9 L2624.0,346.9 L2627.0,346.9 L2630.0,346.9 L2633.0,346.9 L2636.0,346.9 L2639.0,346.9 L2642.0,346.9 L2645.0,346.9 L2648.1,346.9 L2651.1,346.9 L2654.1,346.9 L2657.1,346.9 L2660.1,346.9 L2663.1,346.8 L2666.1,346.8 L2669.1,346.8 L2672.1,346.8 L2675.1,346.8 L2678.1,346.8 L2681.1,346.8 L2684.1,346.8 L2687.2,346.8 L2690.2,346.8 L2693.2,346.8 L2696.2,346.8 L2699.2,346.8 L2702.2,346.8 L2705.2,346.8 L2708.2,346.8 L2711.2,346.8 L2714.2,346.8 L2717.2,346.8 L2720.2,346.8 L2723.2,346.8 L2726.2,346.8 L2729.2,346.8 L2732.2,346.8 L2735.2,346.8 L2738.2,346.8 L2741.2,346.7 L2744.3,346.7 L2747.3,346.7 L2750.3,346.7 L2753.3,346.7 L2756.3,346.7 L2759.3,346.7 L2762.3,346.7 L2765.3,346.7 L2768.3,346.7 L2771.3,346.7 L2774.3,346.7 L2777.3,346.7 L2780.3,346.7 L2783.3,346.7 L2786.3,346.7 L2789.3,346.7 L2792.3,346.7 L2795.3,346.7 L2798.3,346.7 L2801.3,346.7 L2804.3,346.7 L2807.3,346.7 L2810.3,346.6 L2813.3,346.6 L2816.3,346.6 L2819.3,346.6 L2822.3,346.6 L2825.3,346.6 L2828.3,346.6 L2831.3,346.6 L2834.3,346.6 L2837.3,346.6 L2840.3,346.6 L2843.3,346.6 L2846.2,346.6 L2849.2,346.6 L2852.2,346.6 L2855.2,346.6 L2858.2,346.6 L2861.2,346.6 L2864.2,346.6 L2867.2,346.6 L2870.2,346.6 L2873.2,346.6 L2876.2,346.6 L2879.2,346.6 L2882.2,346.6 L2885.2,346.6 L2888.1,346.6 L2891.1,346.6 L2894.1,346.6 L2897.1,346.5 L2900.1,346.5 L2903.1,346.5 L2906.1,346.5 L2909.1,346.5 L2912.1,346.5 L2915.0,346.5 L2918.0,346.5 L2921.0,346.5 L2924.0,346.5 L2927.0,346.5 L2930.0,346.5 L2933.0,346.5 L2936.0,346.5 L2938.9,346.5 L2941.9,346.5 L2944.9,346.5 L2947.9,346.5 L2950.9,346.5 L2953.9,346.5 L2956.9,346.5 L2959.9,346.5 L2962.9,346.5 L2965.9,346.5 L2968.9,346.5 L2971.9,346.4 L2974.9,346.4 L2977.9,346.4 L2980.9,346.4 L2983.9,346.4 L2986.9,346.4 L2990.0,346.4 L2993.0,346.3 L2996.0,346.3 L2999.0,346.3 L3002.1,346.3 L3005.1,346.3 L3008.1,346.2 L3011.2,346.2 L3014.2,346.2 L3017.3,346.2 L3020.3,346.1 L3023.4,346.1 L3026.4,346.1 L3029.5,346.1 L3032.6,346.1 L3035.6,346.1 L3038.7,346.1 L3041.7,346.1 L3044.8,346.2 L3047.9,346.2 L3050.9,346.3 L3054.0,346.4 L3057.0,346.5 L3060.1,346.6 L3063.2,346.8 L3066.2,347.0 L3069.3,347.2 L3072.3,347.4 L3075.3,347.6 L3078.4,347.9 L3081.4,348.2 L3084.4,348.6 L3087.5,348.9 L3090.5,349.3 L3093.5,349.8 L3096.5,350.3 L3099.5,350.8 L3102.5,351.4 L3105.4,352.0 L3108.4,352.6 L3111.4,353.3 L3114.3,354.0 L3117.3,354.8 L3120.2,355.6 L3123.1,356.5 L3126.0,357.4 L3128.9,358.4 L3131.7,359.4 L3134.5,360.5 L3137.3,361.6 L3140.1,362.8 L3142.9,364.0 L3145.6,365.2 L3148.3,366.6 L3150.9,367.9 L3153.5,369.4 L3156.1,370.8 L3158.6,372.4 L3161.1,374.0 L3163.6,375.6 L3166.0,377.3 L3168.4,379.0 L3170.7,380.8 L3173.0,382.7 L3175.2,384.6 L3177.4,386.5 L3179.5,388.5 L3181.6,390.5 L3183.6,392.6 L3185.6,394.7 L3187.5,396.9 L3189.4,399.1 L3191.2,401.4 L3192.9,403.7 L3194.6,406.0 L3196.2,408.4 L3197.8,410.8 L3199.3,413.3 L3200.7,415.8 L3202.1,418.3 L3203.4,420.9 L3204.7,423.5 L3205.9,426.1 L3207.1,428.8 L3208.2,431.5 L3209.3,434.2 L3210.3,437.0 L3211.3,439.7 L3212.3,442.5 L3213.3,445.3 L3214.2,448.2 L3215.0,451.0 L3215.9,453.9 L3216.7,456.8 L3217.5,459.7 L3218.3,462.6 L3219.0,465.5 L3219.8,468.4 L3220.5,471.4 L3221.2,474.3 L3221.9,477.2 L3222.6,480.2 L3223.3,483.1 L3223.9,486.1 L3224.6,489.0 L3225.3,492.0 L3225.9,494.9 L3226.6,497.9 L3227.2,500.8 L3227.9,503.8 L3228.5,506.7 L3229.1,509.7 L3229.8,512.6 L3230.4,515.6 L3231.0,518.5 L3231.6,521.5 L3232.2,524.5 L3232.8,527.4 L3233.4,530.4 L3233.9,533.3 L3234.5,536.3 L3235.1,539.2 L3235.7,542.2 L3236.2,545.2 L3236.8,548.1 L3237.3,551.1 L3237.9,554.0 L3238.4,557.0 L3238.9,560.0 L3239.5,562.9 L3240.0,565.9 L3240.5,568.9 L3241.0,571.8 L3241.5,574.8 L3242.0,577.8 L3242.5,580.7 L3243.0,583.7 L3243.5,586.7 L3244.0,589.6 L3244.5,592.6 L3244.9,595.6 L3245.4,598.5 L3245.9,601.5 L3246.3,604.5 L3246.8,607.5 L3247.2,610.4 L3247.7,613.4 L3248.1,616.4 L3248.5,619.3 L3249.0,622.3 L3249.4,625.3 L3249.8,628.3 L3250.2,631.2 L3250.7,634.2 L3251.1,637.2 L3251.5,640.2 L3251.9,643.2 L3252.3,646.1 L3252.7,649.1 L3253.0,652.1 L3253.4,655.1 L3253.8,658.1 L3254.2,661.0 L3254.5,664.0 L3254.9,667.0 L3255.3,670.0 L3255.6,673.0 L3256.0,675.9 L3256.3,678.9 L3256.7,681.9 L3257.0,684.9 L3257.4,687.9 L3257.7,690.9 L3258.0,693.8 L3258.4,696.8 L3258.7,699.8 L3259.0,702.8 L3259.3,705.8 L3259.7,708.8 L3260.0,711.8 L3260.3,714.7 L3260.6,717.7 L3260.9,720.7 L3261.2,723.7 L3261.5,726.7 L3261.8,729.7 L3262.1,732.7 L3262.3,735.7 L3262.6,738.7 L3262.9,741.7 L3263.2,744.6 L3263.5,747.6 L3263.7,750.6 L3264.0,753.6 L3264.3,756.6 L3264.5,759.6 L3264.8,762.6 L3265.0,765.6 L3265.3,768.6 L3265.5,771.6 L3265.8,774.6 L3266.0,777.6 L3266.3,780.6 L3266.5,783.6 L3266.8,786.6 L3267.0,789.5 L3267.2,792.5 L3267.5,795.5 L3267.7,798.5 L3267.9,801.5 L3268.1,804.5 L3268.4,807.5 L3268.6,810.5 L3268.8,813.5 L3269.0,816.5 L3269.2,819.5 L3269.4,822.5 L3269.6,825.5 L3269.8,828.5 L3270.1,831.5 L3270.3,834.5 L3270.5,837.5 L3270.7,840.5 L3270.9,843.5 L3271.1,846.5 L3271.2,849.5 L3271.4,852.5 L3271.6,855.5 L3271.8,858.5 L3272.0,861.5 L3272.2,864.5 L3272.4,867.5 L3272.6,870.5 L3272.7,873.5 L3272.9,876.5 L3273.1,879.5 L3273.3,882.5 L3273.5,885.5 L3273.6,888.5 L3273.8,891.5 L3274.0,894.5 L3274.1,897.5 L3274.3,900.5 L3274.5,903.5 L3274.7,906.5 L3274.8,909.5 L3275.0,912.5 L3275.2,915.5 L3275.3,918.5 L3275.5,921.5 L3275.7,924.5 L3275.8,927.5 L3276.0,930.6 L3276.1,933.6 L3276.3,936.6 L3276.5,939.6 L3276.6,942.6 L3276.8,945.6 L3276.9,948.6 L3277.1,951.6 L3277.2,954.6 L3277.4,957.6 L3277.6,960.6 L3277.7,963.6 L3277.9,966.6 L3278.0,969.6 L3278.2,972.6 L3278.3,975.6 L3278.5,978.6 L3278.7,981.6 L3278.8,984.6 L3279.0,987.6 L3279.1,990.6 L3279.3,993.6 L3279.4,996.6 L3279.6,999.6 L3279.7,1002.6 L3279.9,1005.6 L3280.0,1008.6 L3280.2,1011.6 L3280.4,1014.6 L3280.5,1017.6 L3280.7,1020.7 L3280.8,1023.7 L3281.0,1026.7 L3281.1,1029.7 L3281.3,1032.7 L3281.5,1035.7 L3281.6,1038.7 L3281.8,1041.7 L3282.0,1044.7 L3282.1,1047.7 L3282.3,1050.7 L3282.4,1053.7 L3282.6,1056.7 L3282.8,1059.7 L3282.9,1062.7 L3283.1,1065.7 L3283.3,1068.7 L3283.4,1071.7 L3283.6,1074.7 L3283.8,1077.7 L3284.0,1080.7 L3284.1,1083.7 L3284.3,1086.7 L3284.5,1089.7 L3284.7,1092.7 L3284.8,1095.7 L3285.0,1098.7 L3285.2,1101.7 L3285.4,1104.7 L3285.6,1107.7 L3285.8,1110.7 L3285.9,1113.7 L3286.1,1116.7 L3286.3,1119.7 L3286.5,1122.7 L3286.7,1125.7 L3286.9,1128.7 L3287.1,1131.7 L3287.3,1134.7 L3287.5,1137.7 L3287.7,1140.7 L3287.9,1143.7 L3288.1,1146.7 L3288.3,1149.7 L3288.5,1152.7 L3288.7,1155.7 L3289.0,1158.7 L3289.2,1161.6 L3289.4,1164.6 L3289.6,1167.6 L3289.8,1170.6 L3290.1,1173.6 L3290.3,1176.6 L3290.5,1179.6 L3290.8,1182.6 L3291.0,1185.6 L3291.2,1188.6 L3291.5,1191.6 L3291.7,1194.6 L3292.0,1197.6 L3292.2,1200.6 L3292.5,1203.6 L3292.7,1206.5 L3293.0,1209.5 L3293.2,1212.5 L3293.5,1215.5 L3293.7,1218.5 L3294.0,1221.5" fill="none" stroke="#9a32cd" stroke-width="1.33" stroke-dasharray="8,8"/>
<polygon points="1096.3,333.5 1109.9,329.9 1109.2,339.2" fill="#9a32cd" stroke="#9a32cd" stroke-width="1.33"/>
<path d="M1509.7,517.6 L1512.3,516.0 L1514.9,514.4 L1517.4,512.9 L1520.0,511.2 L1522.6,509.6 L1525.2,508.0 L1527.8,506.4 L1530.3,504.8 L1532.9,503.2 L1535.5,501.5 L1538.1,499.9 L1540.6,498.3 L1543.2,496.6 L1545.8,495.0 L1548.3,493.4 L1550.9,491.7 L1553.4,490.1 L1556.0,488.4 L1558.5,486.7 L1561.1,485.1 L1563.6,483.4 L1566.2,481.8 L1568.7,480.1 L1571.2,478.4 L1573.8,476.7 L1576.3,475.1 L1578.9,473.4 L1581.4,471.7 L1583.9,470.0 L1586.4,468.3 L1589.0,466.6 L1591.5,465.0 L1594.0,463.3 L1596.6,461.6 L1599.1,459.9 L1601.6,458.2 L1604.1,456.5 L1606.6,454.8 L1609.2,453.1 L1611.7,451.3 L1614.2,449.6 L1616.7,447.9 L1619.2,446.2 L1621.7,444.5 L1624.2,442.8 L1626.8,441.1 L1629.3,439.4 L1631.8,437.6 L1634.3,435.9 L1636.8,434.2 L1639.3,432.5 L1641.8,430.8 L1644.3,429.0 L1646.8,427.3 L1649.3,425.6 L1651.8,423.9 L1654.3,422.1 L1656.8,420.4 L1659.3,418.7 L1661.8,417.0 L1664.3,415.2 L1666.8,413.5 L1669.4,411.8 L1671.9,410.1 L1674.4,408.3 L1676.9,406.6 L1679.4,404.9 L1681.9,403.2 L1684.4,401.4 L1686.9,399.7 L1689.4,398.0 L1691.9,396.3 L1694.4,394.5 L1696.9,392.8 L1699.4,391.1 L1701.9,389.4 L1704.4,387.7 L1706.9,385.9 L1709.4,384.2 L1712.0,382.5 L1714.5,380.8 L1717.0,379.1 L1719.5,377.3 L1722.0,375.6 L1724.5,373.9 L1727.0,372.2 L1729.5,370.5 L1732.0,368.8 L1734.6,367.1 L1737.1,365.3 L1739.6,363.6 L1742.1,361.9 L1744.6,360.2 L1747.1,358.5 L1749.6,356.8 L1752.2,355.1 L1754.7,353.4 L1757.2,351.7 L1759.7,350.0 L1762.2,348.3 L1764.8,346.6 L1767.3,344.9 L1769.8,343.2 L1772.3,341.5 L1774.9,339.8 L1777.4,338.1 L1779.9,336.4 L1782.4,334.7 L1785.0,333.0 L1787.5,331.3 L1790.0,329.7 L1792.6,328.0 L1795.1,326.3 L1797.6,324.6 L1800.2,322.9 L1802.7,321.2 L1805.2,319.6 L1807.8,317.9 L1810.3,316.2 L1812.9,314.5 L1815.4,312.9 L1817.9,311.2 L1820.5,309.5 L1823.0,307.9 L1825.6,306.2 L1828.1,304.5 L1830.7,302.9 L1833.2,301.2 L1835.8,299.5 L1838.3,297.9 L1840.9,296.2 L1843.4,294.6 L1846.0,292.9 L1848.5,291.3 L1851.1,289.6 L1853.7,288.0 L1856.2,286.3 L1858.8,284.7 L1861.3,283.0 L1863.9,281.4" fill="none" stroke="#9a32cd" stroke-width="1.33" stroke-dasharray="8,8"/>
<polygon points="1498.4,524.7 1507.2,513.7 1512.2,521.6" fill="#9a32cd" stroke="#9a32cd" stroke-width="1.33"/>
<path d="M1918.4,287.6 L1920.8,289.4 L1923.2,291.3 L1925.5,293.2 L1927.9,295.1 L1930.2,296.9 L1932.6,298.8 L1934.9,300.7 L1937.3,302.6 L1939.6,304.5 L1941.9,306.4 L1944.2,308.4 L1946.6,310.3 L1948.9,312.2 L1951.2,314.1 L1953.5,316.1 L1955.8,318.0 L1958.1,319.9 L1960.4,321.9 L1962.7,323.8 L1965.0,325.8 L1967.2,327.8 L1969.5,329.7 L1971.8,331.7 L1974.1,333.7 L1976.3,335.6 L1978.6,337.6 L1980.9,339.6 L1983.1,341.6 L1985.4,343.6 L1987.6,345.6 L1989.9,347.6 L1992.1,349.6 L1994.3,351.6 L1996.6,353.6 L1998.8,355.6 L2001.0,357.7 L2003.3,359.7 L2005.5,361.7 L2007.7,363.8 L2009.9,365.8 L2012.1,367.8 L2014.4,369.9 L2016.6,371.9 L2018.8,374.0 L2021.0,376.0 L2023.2,378.1 L2025.4,380.1 L2027.6,382.2 L2029.8,384.3 L2031.9,386.3 L2034.1,388.4 L2036.3,390.5 L2038.5,392.6 L2040.7,394.7 L2042.9,396.7 L2045.0,398.8 L2047.2,400.9 L2049.4,403.0 L2051.5,405.1 L2053.7,407.2 L2055.9,409.3 L2058.0,411.4 L2060.2,413.5 L2062.4,415.6 L2064.5,417.7 L2066.7,419.9 L2068.8,422.0 L2071.0,424.1 L2073.1,426.2 L2075.3,428.3 L2077.4,430.5 L2079.6,432.6 L2081.7,434.7 L2083.8,436.9 L2086.0,439.0 L2088.1,441.1 L2090.2,443.3 L2092.4,445.4 L2094.5,447.6 L2096.6,449.7 L2098.7,451.9 L2100.8,454.1 L2103.0,456.2 L2105.1,458.4 L2107.2,460.6 L2109.3,462.7 L2111.4,464.9 L2113.4,467.1 L2115.5,469.3 L2117.6,471.5 L2119.7,473.7 L2121.8,475.9 L2123.8,478.1 L2125.9,480.3 L2127.9,482.5 L2130.0,484.7 L2132.0,487.0 L2134.1,489.2 L2136.1,491.4 L2138.1,493.7 L2140.1,495.9 L2142.1,498.2 L2144.1,500.4 L2146.1,502.7 L2148.1,505.0 L2150.1,507.2 L2152.1,509.5 L2154.0,511.8 L2156.0,514.1 L2158.0,516.4 L2159.9,518.7 L2161.8,521.0 L2163.8,523.3 L2165.7,525.6 L2167.6,528.0 L2169.5,530.3 L2171.4,532.6 L2173.3,535.0 L2175.1,537.3 L2177.0,539.7 L2178.9,542.1 L2180.7,544.5 L2182.5,546.8 L2184.4,549.2 L2186.2,551.6 L2188.0,554.0 L2189.8,556.4 L2191.6,558.9 L2193.3,561.3 L2195.1,563.7 L2196.9,566.2 L2198.6,568.6 L2200.3,571.1 L2202.1,573.5 L2203.8,576.0 L2205.5,578.5 L2207.2,581.0 L2208.8,583.5 L2210.5,586.0 L2212.2,588.5 L2213.8,591.0 L2215.5,593.5 L2217.1,596.0 L2218.7,598.6 L2220.3,601.1 L2221.9,603.7 L2223.5,606.2 L2225.0,608.8 L2226.6,611.4 L2228.1,613.9 L2229.7,616.5 L2231.2,619.1 L2232.7,621.7 L2234.2,624.3 L2235.7,626.9 L2237.1,629.5 L2238.6,632.2 L2240.0,634.8 L2241.5,637.4 L2242.9,640.1 L2244.3,642.7 L2245.7,645.4 L2247.1,648.1 L2248.5,650.7 L2249.8,653.4 L2251.2,656.1 L2252.5,658.8 L2253.8,661.5 L2255.1,664.2 L2256.4,666.9 L2257.7,669.6 L2259.0,672.3 L2260.2,675.1 L2261.5,677.8 L2262.7,680.5 L2263.9,683.3 L2265.1,686.0 L2266.3,688.8 L2267.5,691.6 L2268.7,694.3 L2269.8,697.1 L2271.0,699.9 L2272.1,702.7 L2273.2,705.5 L2274.3,708.3 L2275.4,711.1 L2276.4,713.9 L2277.5,716.7 L2278.5,719.6 L2279.6,722.4 L2280.6,725.2 L2281.6,728.1 L2282.6,730.9 L2283.6,733.8 L2284.6,736.6 L2285.5,739.5 L2286.5,742.3 L2287.4,745.2 L2288.3,748.1 L2289.3,750.9 L2290.2,753.8 L2291.1,756.7 L2292.0,759.6 L2292.8,762.5 L2293.7,765.4 L2294.6,768.3 L2295.4,771.2 L2296.3,774.1 L2297.1,777.0 L2297.9,779.9 L2298.8,782.8 L2299.6,785.7 L2300.4,788.6 L2301.2,791.5 L2302.0,794.4 L2302.7,797.4 L2303.5,800.3 L2304.3,803.2 L2305.0,806.1 L2305.8,809.1 L2306.6,812.0 L2307.3,814.9 L2308.0,817.8 L2308.8,820.8 L2309.5,823.7 L2310.2,826.6 L2310.9,829.6 L2311.7,832.5 L2312.4,835.4 L2313.1,838.4 L2313.8,841.3 L2314.5,844.2 L2315.2,847.2 L2315.8,850.1 L2316.5,853.0 L2317.2,856.0 L2317.9,858.9 L2318.6,861.8 L2319.2,864.7 L2319.9,867.7 L2320.6,870.6" fill="none" stroke="#191970" stroke-width="1.33"/>
<polygon points="1908.1,279.2 1921.4,283.9 1915.5,291.2" fill="#191970" stroke="#191970" stroke-width="1.33"/>
<path d="M1954.9,412.8 L1957.9,412.8 L1960.9,412.8 L1963.9,412.8 L1966.9,412.8 L1969.9,412.8 L1972.9,412.8 L1975.9,412.8 L1978.9,412.8 L1981.9,412.8 L1985.0,412.8 L1988.0,412.8 L1991.0,412.8 L1994.0,412.8 L1997.0,412.8 L2000.0,412.8 L2003.0,412.8 L2006.0,412.8 L2009.0,412.8 L2012.0,412.8 L2015.0,412.8 L2018.0,412.8 L2021.0,412.8 L2024.0,412.8 L2027.0,412.8 L2030.0,412.8 L2033.0,412.8 L2036.0,412.8 L2039.1,412.8 L2042.1,412.8 L2045.1,412.8 L2048.1,412.8 L2051.1,412.8 L2054.1,412.8 L2057.1,412.8 L2060.1,412.8 L2063.1,412.8 L2066.1,412.8 L2069.1,412.8 L2072.1,412.8 L2075.1,412.8 L2078.1,412.8 L2081.1,412.8 L2084.1,412.8 L2087.2,412.8 L2090.2,412.8 L2093.2,412.8 L2096.2,412.8 L2099.2,412.8 L2102.2,412.8 L2105.2,412.8 L2108.2,412.8 L2111.2,412.8 L2114.2,412.8 L2117.2,412.8 L2120.2,412.8 L2123.2,412.8 L2126.2,412.8 L2129.3,412.8 L2132.3,412.8 L2135.3,412.8 L2138.3,412.8 L2141.3,412.8 L2144.3,412.8 L2147.3,412.8 L2150.3,412.8 L2153.3,412.8 L2156.3,412.8 L2159.3,412.8 L2162.3,412.8 L2165.3,412.8 L2168.3,412.8 L2171.4,412.8 L2174.4,412.8 L2177.4,412.8 L2180.4,412.8 L2183.4,412.8 L2186.4,412.8 L2189.4,412.8 L2192.4,412.8 L2195.4,412.8 L2198.4,412.8 L2201.4,412.8 L2204.4,412.8 L2207.5,412.8 L2210.5,412.8 L2213.5,412.8 L2216.5,412.8 L2219.5,412.8 L2222.5,412.8 L2225.5,412.8 L2228.5,412.8 L2231.5,412.8 L2234.5,412.8 L2237.5,412.8 L2240.5,412.8 L2243.5,412.8 L2246.6,412.8 L2249.6,412.8 L2252.6,412.8 L2255.6,412.8 L2258.6,412.8 L2261.6,412.8 L2264.6,412.8 L2267.6,412.8 L2270.6,412.8 L2273.6,412.8 L2276.6,412.8 L2279.6,412.8 L2282.7,412.8 L2285.7,412.8 L2288.7,412.8 L2291.7,412.8 L2294.7,412.8 L2297.7,412.8 L2300.7,412.8 L2303.7,412.8 L2306.7,412.8 L2309.7,412.8 L2312.7,412.8 L2315.7,412.8 L2318.8,412.8 L2321.8,412.8 L2324.8,412.8 L2327.8,412.8 L2330.8,412.8 L2333.8,412.8 L2336.8,412.8 L2339.8,412.8 L2342.8,412.8 L2345.8,412.8 L2348.8,412.8 L2351.9,412.8 L2354.9,412.8 L2357.9,412.8 L2360.9,412.8 L2363.9,412.8 L2366.9,412.8 L2369.9,412.8 L2372.9,412.8 L2375.9,412.8 L2378.9,412.8 L2381.9,412.8 L2384.9,412.8 L2388.0,412.8 L2391.0,412.8 L2394.0,412.8 L2397.0,412.8 L2400.0,412.8 L2403.0,412.8 L2406.0,412.8 L2409.0,412.8 L2412.0,412.8 L2415.0,412.8 L2418.0,412.8 L2421.0,412.8 L2424.1,412.8 L2427.1,412.8 L2430.1,412.8 L2433.1,412.8 L2436.1,412.8 L2439.1,412.8 L2442.1,412.8 L2445.1,412.8 L2448.1,412.8 L2451.1,412.8 L2454.1,412.8 L2457.1,412.8 L2460.2,412.8 L2463.2,412.8 L2466.2,412.8 L2469.2,412.8 L2472.2,412.8 L2475.2,412.8 L2478.2,412.8 L2481.2,412.8 L2484.2,412.8 L2487.2,412.8 L2490.2,412.8 L2493.2,412.8 L2496.3,412.8 L2499.3,412.8 L2502.3,412.8 L2505.3,412.8 L2508.3,412.8 L2511.3,412.8 L2514.3,412.8 L2517.3,412.8 L2520.3,412.8 L2523.3,412.8 L2526.3,412.8 L2529.3,412.8 L2532.3,412.8 L2535.4,412.8 L2538.4,412.8 L2541.4,412.8 L2544.4,412.8 L2547.4,412.8 L2550.4,412.8 L2553.4,412.8 L2556.4,412.8 L2559.4,412.8 L2562.4,412.8 L2565.4,412.8 L2568.4,412.8 L2571.4,412.8 L2574.5,412.8 L2577.5,412.8 L2580.5,412.8 L2583.5,412.8 L2586.5,412.8 L2589.5,412.8 L2592.5,412.8 L2595.5,412.8 L2598.5,412.8 L2601.5,412.8 L2604.5,412.8 L2607.5,412.8 L2610.5,412.8 L2613.5,412.8 L2616.6,412.8 L2619.6,412.8 L2622.6,412.8 L2625.6,412.8 L2628.6,412.8 L2631.6,412.8 L2634.6,412.8 L2637.6,412.8 L2640.6,412.8 L2643.6,412.8 L2646.6,412.8 L2649.6,412.8 L2652.6,412.8 L2655.6,412.8 L2658.6,412.8 L2661.7,412.8 L2664.7,412.8 L2667.7,412.8 L2670.7,412.8 L2673.7,412.8 L2676.7,412.8 L2679.7,412.8 L2682.7,412.8 L2685.7,412.8 L2688.7,412.8 L2691.7,412.8 L2694.7,412.8 L2697.7,412.8 L2700.7,412.8 L2703.7,412.8 L2706.7,412.8 L2709.7,412.8 L2712.8,412.8 L2715.8,412.8 L2718.8,412.8 L2721.8,412.8 L2724.8,412.8 L2727.8,412.8 L2730.8,412.8 L2733.8,412.8 L2736.8,412.8 L2739.8,412.8 L2742.8,412.8 L2745.8,412.8 L2748.8,412.8 L2751.8,412.8 L2754.8,412.8 L2757.8,412.8 L2760.8,412.8 L2763.8,412.8 L2766.8,412.8 L2769.8,412.8 L2772.9,412.8 L2775.9,412.8 L2778.9,412.8 L2781.9,412.8 L2784.9,412.8 L2787.9,412.8 L2790.9,412.8 L2793.9,412.8 L2796.9,412.8 L2799.9,412.8 L2802.9,412.8 L2805.9,412.8 L2808.9,412.8 L2811.9,412.8 L2814.9,412.8 L2817.9,412.8 L2820.9,412.8 L2823.9,412.8 L2826.9,412.8 L2829.9,412.8 L2832.9,412.8 L2835.9,412.8 L2838.9,412.8 L2841.9,412.8 L2844.9,412.8 L2847.9,412.8 L2850.9,412.8 L2853.9,412.8 L2856.9,412.8 L2860.0,412.8 L2863.0,412.8 L2866.0,412.8 L2869.0,412.8 L2872.0,412.8 L2875.0,412.8 L2878.0,412.8 L2881.0,412.8 L2884.0,412.8 L2887.0,412.8 L2890.0,412.8 L2893.0,412.8 L2896.0,412.8 L2899.0,412.8 L2902.0,412.8 L2905.0,412.8 L2908.0,412.8 L2911.0,412.8 L2914.0,412.8 L2917.0,412.8 L2920.0,412.8 L2923.0,412.8 L2926.0,412.8 L2929.0,412.8 L2932.0,412.8 L2935.0,412.8 L2938.0,412.8 L2941.0,412.8 L2944.0,412.8 L2947.0,412.8 L2950.0,412.8 L2953.0,412.8 L2956.0,412.8 L2959.0,412.8 L2962.0,412.8 L2965.0,412.8 L2968.0,412.8 L2971.0,412.7 L2974.0,412.7 L2977.1,412.7 L2980.1,412.7 L2983.1,412.6 L2986.1,412.6 L2989.1,412.6 L2992.1,412.6 L2995.1,412.5 L2998.2,412.5 L3001.2,412.4 L3004.2,412.4 L3007.2,412.3 L3010.2,412.3 L3013.3,412.2 L3016.3,412.2 L3019.3,412.1 L3022.3,412.0 L3025.4,412.0 L3028.4,411.9 L3031.4,411.8 L3034.5,411.7 L3037.5,411.6 L3040.6,411.6 L3043.6,411.5 L3046.7,411.4 L3049.7,411.3 L3052.8,411.1 L3055.8,411.0 L3058.9,410.9 L3061.9,410.8 L3065.0,410.7 L3068.0,410.6 L3071.1,410.5 L3074.1,410.5 L3077.2,410.4 L3080.2,410.4 L3083.2,410.4 L3086.3,410.4 L3089.3,410.5 L3092.3,410.6 L3095.3,410.7 L3098.4,410.9 L3101.4,411.1 L3104.4,411.3 L3107.3,411.6 L3110.3,411.9 L3113.3,412.3 L3116.2,412.8 L3119.2,413.3 L3122.1,413.8 L3125.0,414.5 L3127.9,415.2 L3130.8,415.9 L3133.7,416.7 L3136.5,417.6 L3139.4,418.5 L3142.2,419.5 L3145.0,420.5 L3147.7,421.6 L3150.4,422.7 L3153.1,423.9 L3155.8,425.2 L3158.4,426.5 L3161.0,427.9 L3163.6,429.3 L3166.1,430.8 L3168.6,432.3 L3171.0,433.9 L3173.4,435.5 L3175.7,437.2 L3178.0,438.9 L3180.3,440.7 L3182.5,442.6 L3184.6,444.5 L3186.7,446.4 L3188.7,448.4 L3190.7,450.4 L3192.6,452.5 L3194.5,454.7 L3196.3,456.8 L3198.1,459.1 L3199.8,461.3 L3201.4,463.7 L3203.0,466.0 L3204.6,468.4 L3206.1,470.8 L3207.5,473.3 L3208.9,475.8 L3210.3,478.3 L3211.6,480.9 L3212.9,483.5 L3214.2,486.2 L3215.3,488.8 L3216.5,491.5 L3217.6,494.3 L3218.7,497.0 L3219.8,499.8 L3220.8,502.6 L3221.7,505.5 L3222.7,508.3 L3223.6,511.2 L3224.5,514.1 L3225.3,517.0 L3226.2,520.0 L3227.0,522.9 L3227.7,525.9 L3228.5,528.9 L3229.2,531.9 L3229.9,534.9 L3230.6,537.9 L3231.2,540.9 L3231.9,544.0 L3232.5,547.0 L3233.1,550.1 L3233.7,553.1 L3234.2,556.2 L3234.8,559.3 L3235.3,562.4 L3235.9,565.4 L3236.4,568.5 L3236.9,571.6 L3237.4,574.7 L3237.9,577.7 L3238.4,580.8 L3238.9,583.8 L3239.3,586.9 L3239.8,589.9 L3240.3,593.0 L3240.7,596.0 L3241.2,599.1 L3241.6,602.1 L3242.1,605.1 L3242.5,608.1 L3243.0,611.1 L3243.4,614.2 L3243.8,617.2 L3244.3,620.2 L3244.7,623.2 L3245.1,626.2 L3245.5,629.1 L3245.9,632.1 L3246.3,635.1 L3246.7,638.1 L3247.1,641.1 L3247.5,644.1 L3247.9,647.0 L3248.3,650.0 L3248.6,653.0 L3249.0,655.9 L3249.4,658.9 L3249.8,661.9 L3250.1,664.8 L3250.5,667.8 L3250.8,670.7 L3251.2,673.7 L3251.6,676.7 L3251.9,679.6 L3252.3,682.6 L3252.6,685.5 L3252.9,688.5 L3253.3,691.4 L3253.6,694.4 L3254.0,697.3 L3254.3,700.3 L3254.6,703.3 L3254.9,706.2 L3255.3,709.2 L3255.6,712.1 L3255.9,715.1 L3256.2,718.0 L3256.6,721.0 L3256.9,724.0 L3257.2,726.9 L3257.5,729.9 L3257.8,732.8 L3258.1,735.8 L3258.4,738.8 L3258.7,741.7 L3259.0,744.7 L3259.3,747.7 L3259.6,750.7 L3259.9,753.6 L3260.2,756.6 L3260.5,759.6 L3260.8,762.5 L3261.1,765.5 L3261.4,768.5 L3261.7,771.5 L3262.0,774.4 L3262.2,777.4 L3262.5,780.4 L3262.8,783.4 L3263.1,786.4 L3263.4,789.3 L3263.6,792.3 L3263.9,795.3 L3264.2,798.3 L3264.4,801.3 L3264.7,804.3 L3265.0,807.3 L3265.3,810.2 L3265.5,813.2 L3265.8,816.2 L3266.0,819.2 L3266.3,822.2 L3266.6,825.2 L3266.8,828.2 L3267.1,831.2 L3267.3,834.2 L3267.6,837.2 L3267.8,840.2 L3268.1,843.1 L3268.3,846.1 L3268.6,849.1 L3268.8,852.1 L3269.1,855.1 L3269.3,858.1 L3269.6,861.1 L3269.8,864.1 L3270.0,867.1 L3270.3,870.1 L3270.5,873.1 L3270.8,876.1 L3271.0,879.1 L3271.2,882.1 L3271.5,885.1 L3271.7,888.1 L3271.9,891.1 L3272.2,894.1 L3272.4,897.1 L3272.6,900.1 L3272.8,903.1 L3273.1,906.2 L3273.3,909.2 L3273.5,912.2 L3273.7,915.2 L3274.0,918.2 L3274.2,921.2 L3274.4,924.2 L3274.6,927.2 L3274.8,930.2 L3275.1,933.2 L3275.3,936.2 L3275.5,939.2 L3275.7,942.2 L3275.9,945.2 L3276.1,948.3 L3276.3,951.3 L3276.6,954.3 L3276.8,957.3 L3277.0,960.3 L3277.2,963.3 L3277.4,966.3 L3277.6,969.3 L3277.8,972.3 L3278.0,975.3 L3278.2,978.4 L3278.4,981.4 L3278.6,984.4 L3278.8,987.4 L3279.0,990.4 L3279.2,993.4 L3279.4,996.4 L3279.6,999.4 L3279.8,1002.4 L3280.0,1005.5 L3280.2,1008.5 L3280.4,1011.5 L3280.6,1014.5 L3280.8,1017.5 L3281.0,1020.5 L3281.2,1023.5 L3281.4,1026.5 L3281.6,1029.5 L3281.8,1032.5 L3282.0,1035.6 L3282.2,1038.6 L3282.4,1041.6 L3282.6,1044.6 L3282.8,1047.6 L3283.0,1050.6 L3283.2,1053.6 L3283.4,1056.6 L3283.6,1059.6 L3283.8,1062.6 L3284.0,1065.7 L3284.2,1068.7 L3284.3,1071.7 L3284.5,1074.7 L3284.7,1077.7 L3284.9,1080.7 L3285.1,1083.7 L3285.3,1086.7 L3285.5,1089.7 L3285.7,1092.7 L3285.9,1095.7 L3286.1,1098.7 L3286.3,1101.7 L3286.4,1104.7 L3286.6,1107.7 L3286.8,1110.7 L3287.0,1113.7 L3287.2,1116.8 L3287.4,1119.8 L3287.6,1122.8 L3287.8,1125.8 L3288.0,1128.8 L3288.2,1131.8 L3288.4,1134.8 L3288.5,1137.8 L3288.7,1140.8 L3288.9,1143.8 L3289.1,1146.8 L3289.3,1149.8 L3289.5,1152.7 L3289.7,1155.7 L3289.9,1158.7 L3290.1,1161.7 L3290.3,1164.7 L3290.5,1167.7 L3290.7,1170.7 L3290.9,1173.7 L3291.0,1176.7 L3291.2,1179.7 L3291.4,1182.7 L3291.6,1185.7 L3291.8,1188.7 L3292.0,1191.7 L3292.2,1194.6 L3292.4,1197.6 L3292.6,1200.6 L3292.8,1203.6 L3293.0,1206.6 L3293.2,1209.6 L3293.4,1212.6 L3293.6,1215.5 L3293.8,1218.5 L3294.0,1221.5" fill="none" stroke="#9a32cd" stroke-width="1.33" stroke-dasharray="8,8"/>
<polygon points="1941.6,412.8 1954.9,408.1 1954.9,417.5" fill="#9a32cd" stroke="#9a32cd" stroke-width="1.33"/>
<path d="M1505.9,718.0 L1508.4,716.3 L1510.9,714.7 L1513.4,713.0 L1516.0,711.3 L1518.5,709.6 L1521.0,707.9 L1523.5,706.1 L1526.0,704.4 L1528.5,702.7 L1531.0,701.0 L1533.4,699.2 L1535.9,697.5 L1538.4,695.7 L1540.9,693.9 L1543.3,692.2 L1545.8,690.4 L1548.2,688.6 L1550.7,686.8 L1553.1,685.1 L1555.6,683.3 L1558.0,681.5 L1560.5,679.7 L1562.9,677.9 L1565.3,676.0 L1567.7,674.2 L1570.1,672.4 L1572.6,670.6 L1575.0,668.7 L1577.4,666.9 L1579.8,665.0 L1582.2,663.2 L1584.6,661.3 L1587.0,659.5 L1589.4,657.6 L1591.7,655.8 L1594.1,653.9 L1596.5,652.0 L1598.9,650.1 L1601.3,648.3 L1603.6,646.4 L1606.0,644.5 L1608.4,642.6 L1610.7,640.7 L1613.1,638.8 L1615.4,636.9 L1617.8,635.0 L1620.1,633.1 L1622.5,631.2 L1624.8,629.2 L1627.2,627.3 L1629.5,625.4 L1631.9,623.5 L1634.2,621.5 L1636.5,619.6 L1638.9,617.7 L1641.2,615.7 L1643.5,613.8 L1645.9,611.9 L1648.2,609.9 L1650.5,608.0 L1652.8,606.0 L1655.2,604.1 L1657.5,602.1 L1659.8,600.2 L1662.1,598.2 L1664.4,596.3 L1666.7,594.3 L1669.1,592.3 L1671.4,590.4 L1673.7,588.4 L1676.0,586.5 L1678.3,584.5 L1680.6,582.5 L1682.9,580.6 L1685.2,578.6 L1687.5,576.6 L1689.8,574.7 L1692.1,572.7 L1694.4,570.7 L1696.8,568.7 L1699.1,566.8 L1701.4,564.8 L1703.7,562.8 L1706.0,560.8 L1708.3,558.9 L1710.6,556.9 L1712.9,554.9 L1715.2,553.0 L1717.5,551.0 L1719.8,549.0 L1722.1,547.0 L1724.4,545.1 L1726.7,543.1 L1729.0,541.1 L1731.3,539.1 L1733.6,537.2 L1735.9,535.2 L1738.2,533.2 L1740.5,531.3 L1742.8,529.3 L1745.2,527.3 L1747.5,525.4 L1749.8,523.4 L1752.1,521.5 L1754.4,519.5 L1756.7,517.5 L1759.0,515.6 L1761.4,513.6 L1763.7,511.7 L1766.0,509.7 L1768.3,507.8 L1770.6,505.8 L1773.0,503.9 L1775.3,501.9 L1777.6,500.0 L1780.0,498.1 L1782.3,496.1 L1784.6,494.2 L1787.0,492.2 L1789.3,490.3 L1791.7,488.4 L1794.0,486.5 L1796.3,484.6 L1798.7,482.6 L1801.0,480.7 L1803.4,478.8 L1805.8,476.9 L1808.1,475.0 L1810.5,473.1 L1812.8,471.2 L1815.2,469.3 L1817.6,467.4 L1820.0,465.5 L1822.3,463.6 L1824.7,461.8 L1827.1,459.9 L1829.5,458.0 L1831.9,456.2 L1834.3,454.3 L1836.7,452.4 L1839.1,450.6 L1841.5,448.7 L1843.9,446.9 L1846.3,445.0 L1848.7,443.2 L1851.1,441.4 L1853.5,439.5 L1856.0,437.7 L1858.4,435.9 L1860.8,434.1 L1863.3,432.3 L1865.7,430.5 L1868.2,428.7 L1870.6,426.9" fill="none" stroke="#9a32cd" stroke-width="1.33" stroke-dasharray="8,8"/>
<polygon points="1495.0,725.7 1503.2,714.2 1508.6,721.9" fill="#9a32cd" stroke="#9a32cd" stroke-width="1.33"/>
<path d="M1516.2,523.7 L1519.0,522.8 L1521.9,521.9 L1524.8,521.0 L1527.7,520.1 L1530.5,519.2 L1533.4,518.3 L1536.3,517.5 L1539.2,516.6 L1542.0,515.7 L1544.9,514.9 L1547.8,514.0 L1550.7,513.2 L1553.6,512.4 L1556.5,511.5 L1559.4,510.7 L1562.3,509.9 L1565.1,509.1 L1568.0,508.3 L1570.9,507.5 L1573.8,506.7 L1576.7,505.9 L1579.6,505.1 L1582.5,504.4 L1585.4,503.6 L1588.4,502.9 L1591.3,502.1 L1594.2,501.4 L1597.1,500.6 L1600.0,499.9 L1602.9,499.2 L1605.8,498.5 L1608.7,497.8 L1611.7,497.1 L1614.6,496.4 L1617.5,495.7 L1620.4,495.0 L1623.4,494.4 L1626.3,493.7 L1629.2,493.1 L1632.2,492.4 L1635.1,491.8 L1638.0,491.2 L1641.0,490.5 L1643.9,489.9 L1646.8,489.3 L1649.8,488.7 L1652.7,488.2 L1655.7,487.6 L1658.6,487.0 L1661.6,486.4 L1664.5,485.9 L1667.5,485.3 L1670.4,484.8 L1673.4,484.3 L1676.3,483.8 L1679.3,483.3 L1682.3,482.7 L1685.2,482.3 L1688.2,481.8 L1691.2,481.3 L1694.1,480.8 L1697.1,480.4 L1700.1,479.9 L1703.0,479.5 L1706.0,479.0 L1709.0,478.6 L1712.0,478.2 L1714.9,477.8 L1717.9,477.4 L1720.9,477.0 L1723.9,476.6 L1726.9,476.3 L1729.8,475.9 L1732.8,475.5 L1735.8,475.2 L1738.8,474.9 L1741.8,474.5 L1744.8,474.2 L1747.8,473.9 L1750.8,473.6 L1753.8,473.3 L1756.8,473.1 L1759.7,472.8 L1762.7,472.5 L1765.7,472.3 L1768.7,472.0 L1771.7,471.8 L1774.7,471.6 L1777.7,471.4 L1780.7,471.2 L1783.7,471.0 L1786.7,470.8 L1789.8,470.6 L1792.8,470.4 L1795.8,470.3 L1798.8,470.2 L1801.8,470.0 L1804.8,469.9 L1807.8,469.8 L1810.8,469.7 L1813.8,469.6 L1816.8,469.5 L1819.8,469.5 L1822.8,469.4 L1825.8,469.4 L1828.8,469.3 L1831.9,469.3 L1834.9,469.3 L1837.9,469.3 L1840.9,469.3 L1843.9,469.4 L1846.9,469.4 L1849.9,469.5 L1852.9,469.6 L1855.9,469.7 L1858.9,469.8 L1861.9,469.9 L1864.9,470.0 L1867.9,470.1 L1870.9,470.3 L1873.9,470.5 L1876.9,470.7 L1879.9,470.9 L1882.9,471.1 L1885.8,471.3 L1888.8,471.5 L1891.8,471.8 L1894.8,472.1 L1897.8,472.4 L1900.8,472.7 L1903.7,473.0 L1906.7,473.4 L1909.7,473.7 L1912.7,474.1 L1915.6,474.5 L1918.6,474.9 L1921.6,475.3 L1924.5,475.7 L1927.5,476.2 L1930.4,476.7 L1933.4,477.1 L1936.3,477.6 L1939.3,478.1 L1942.2,478.7 L1945.2,479.2 L1948.1,479.8 L1951.1,480.3 L1954.0,480.9 L1957.0,481.5 L1959.9,482.1 L1962.8,482.7 L1965.8,483.3 L1968.7,483.9 L1971.6,484.6 L1974.6,485.2 L1977.5,485.9 L1980.4,486.6 L1983.3,487.3 L1986.3,488.0 L1989.2,488.7 L1992.1,489.4 L1995.0,490.1 L1997.9,490.8 L2000.8,491.6 L2003.7,492.3 L2006.6,493.1 L2009.6,493.8 L2012.5,494.6 L2015.4,495.4 L2018.3,496.1 L2021.2,496.9 L2024.1,497.7 L2027.0,498.5 L2029.9,499.3 L2032.8,500.1 L2035.7,500.9 L2038.6,501.7 L2041.4,502.6 L2044.3,503.4 L2047.2,504.2 L2050.1,505.0 L2053.0,505.9 L2055.9,506.7 L2058.8,507.6 L2061.7,508.4 L2064.5,509.3 L2067.4,510.1 L2070.3,511.0 L2073.2,511.9 L2076.1,512.8 L2078.9,513.6 L2081.8,514.5 L2084.7,515.4 L2087.5,516.3 L2090.4,517.2 L2093.3,518.1 L2096.1,519.0 L2099.0,519.9 L2101.9,520.9 L2104.7,521.8 L2107.6,522.7 L2110.5,523.6 L2113.3,524.6 L2116.2,525.5 L2119.0,526.5 L2121.9,527.4 L2124.7,528.4 L2127.6,529.3 L2130.4,530.3 L2133.3,531.2 L2136.1,532.2 L2139.0,533.2 L2141.8,534.2 L2144.6,535.2 L2147.5,536.1 L2150.3,537.1 L2153.2,538.1 L2156.0,539.1 L2158.8,540.1 L2161.7,541.1 L2164.5,542.2 L2167.3,543.2 L2170.1,544.2 L2173.0,545.2 L2175.8,546.3 L2178.6,547.3 L2181.4,548.3 L2184.3,549.4 L2187.1,550.4 L2189.9,551.5 L2192.7,552.5 L2195.5,553.6 L2198.3,554.6 L2201.2,555.7 L2204.0,556.8 L2206.8,557.8 L2209.6,558.9 L2212.4,560.0 L2215.2,561.1 L2218.0,562.2 L2220.8,563.3 L2223.6,564.4 L2226.4,565.5 L2229.2,566.6 L2232.0,567.7 L2234.8,568.8 L2237.6,569.9 L2240.3,571.0 L2243.1,572.2 L2245.9,573.3 L2248.7,574.4 L2251.5,575.6 L2254.3,576.7 L2257.0,577.8 L2259.8,579.0 L2262.6,580.1 L2265.4,581.3 L2268.1,582.4 L2270.9,583.6 L2273.7,584.8 L2276.5,585.9 L2279.2,587.1 L2282.0,588.3 L2284.7,589.5 L2287.5,590.6 L2290.3,591.8 L2293.0,593.0 L2295.8,594.2 L2298.5,595.4 L2301.3,596.6 L2304.0,597.8 L2306.8,599.0 L2309.5,600.2 L2312.3,601.4 L2315.0,602.6 L2317.8,603.9 L2320.5,605.1 L2323.3,606.3 L2326.0,607.5 L2328.7,608.8 L2331.5,610.0 L2334.2,611.2 L2337.0,612.5 L2339.7,613.7 L2342.4,615.0 L2345.1,616.2 L2347.9,617.5 L2350.6,618.7 L2353.3,620.0 L2356.1,621.3 L2358.8,622.5 L2361.5,623.8 L2364.2,625.1 L2366.9,626.3 L2369.6,627.6 L2372.4,628.9 L2375.1,630.2 L2377.8,631.5 L2380.5,632.8 L2383.2,634.1 L2385.9,635.4 L2388.6,636.6 L2391.3,638.0 L2394.0,639.3 L2396.7,640.6 L2399.4,641.9 L2402.1,643.2 L2404.8,644.5 L2407.5,645.8 L2410.2,647.1 L2412.9,648.5 L2415.6,649.8 L2418.3,651.1 L2421.0,652.5 L2423.7,653.8 L2426.4,655.1 L2429.1,656.5 L2431.8,657.8 L2434.4,659.2 L2437.1,660.5 L2439.8,661.9 L2442.5,663.2 L2445.2,664.6 L2447.8,665.9 L2450.5,667.3 L2453.2,668.7 L2455.9,670.0 L2458.5,671.4 L2461.2,672.8 L2463.9,674.1 L2466.6,675.5 L2469.2,676.9 L2471.9,678.3 L2474.6,679.7 L2477.2,681.0 L2479.9,682.4 L2482.5,683.8 L2485.2,685.2 L2487.9,686.6 L2490.5,688.0 L2493.2,689.4 L2495.8,690.8 L2498.5,692.2 L2501.1,693.6 L2503.8,695.0 L2506.4,696.4 L2509.1,697.8 L2511.7,699.3 L2514.4,700.7 L2517.0,702.1 L2519.7,703.5 L2522.3,704.9 L2525.0,706.4 L2527.6,707.8 L2530.3,709.2 L2532.9,710.7 L2535.5,712.1 L2538.2,713.5 L2540.8,715.0 L2543.5,716.4 L2546.1,717.9 L2548.7,719.3 L2551.4,720.8 L2554.0,722.2 L2556.6,723.7 L2559.2,725.1 L2561.9,726.6 L2564.5,728.0 L2567.1,729.5 L2569.7,731.0 L2572.4,732.4 L2575.0,733.9 L2577.6,735.4 L2580.2,736.8 L2582.8,738.3 L2585.5,739.8 L2588.1,741.3 L2590.7,742.7 L2593.3,744.2 L2595.9,745.7 L2598.5,747.2 L2601.2,748.7 L2603.8,750.2 L2606.4,751.7 L2609.0,753.1 L2611.6,754.6 L2614.2,756.1 L2616.8,757.6 L2619.4,759.1 L2622.0,760.6 L2624.6,762.1 L2627.2,763.6 L2629.8,765.2 L2632.4,766.7 L2635.0,768.2 L2637.6,769.7 L2640.2,771.2 L2642.8,772.7 L2645.4,774.2 L2648.0,775.8 L2650.6,777.3 L2653.2,778.8 L2655.8,780.3 L2658.3,781.9 L2660.9,783.4 L2663.5,784.9 L2666.1,786.4 L2668.7,788.0 L2671.3,789.5 L2673.9,791.1 L2676.4,792.6 L2679.0,794.1 L2681.6,795.7 L2684.2,797.2 L2686.8,798.8 L2689.3,800.3 L2691.9,801.9 L2694.5,803.4 L2697.1,805.0 L2699.6,806.5 L2702.2,808.1 L2704.8,809.6 L2707.4,811.2 L2709.9,812.8 L2712.5,814.3 L2715.1,815.9 L2717.6,817.4 L2720.2,819.0 L2722.8,820.6 L2725.3,822.1 L2727.9,823.7 L2730.5,825.3 L2733.0,826.9 L2735.6,828.4 L2738.1,830.0 L2740.7,831.6 L2743.3,833.2 L2745.8,834.8 L2748.4,836.3 L2750.9,837.9 L2753.5,839.5 L2756.0,841.1 L2758.6,842.7 L2761.1,844.3 L2763.7,845.9 L2766.2,847.4 L2768.8,849.0 L2771.3,850.6 L2773.9,852.2 L2776.4,853.8 L2779.0,855.4 L2781.5,857.0 L2784.1,858.6 L2786.6,860.2 L2789.1,861.8 L2791.7,863.4 L2794.2,865.0 L2796.8,866.6 L2799.3,868.3 L2801.8,869.9 L2804.4,871.5 L2806.9,873.1 L2809.5,874.7 L2812.0,876.3 L2814.5,877.9 L2817.1,879.6 L2819.6,881.2 L2822.1,882.8 L2824.7,884.4 L2827.2,886.0 L2829.7,887.7 L2832.2,889.3 L2834.8,890.9 L2837.3,892.5 L2839.8,894.2 L2842.4,895.8 L2844.9,897.4 L2847.4,899.0 L2849.9,900.7 L2852.5,902.3 L2855.0,903.9 L2857.5,905.6 L2860.0,907.2 L2862.5,908.8 L2865.1,910.5 L2867.6,912.1 L2870.1,913.8 L2872.6,915.4 L2875.1,917.0 L2877.6,918.7 L2880.2,920.3 L2882.7,922.0 L2885.2,923.6 L2887.7,925.3 L2890.2,926.9 L2892.7,928.6 L2895.2,930.2 L2897.7,931.8 L2900.2,933.5 L2902.8,935.1 L2905.3,936.8 L2907.8,938.5 L2910.3,940.1 L2912.8,941.8 L2915.3,943.4 L2917.8,945.1 L2920.3,946.7 L2922.8,948.4 L2925.3,950.1 L2927.8,951.7 L2930.3,953.4 L2932.8,955.0 L2935.3,956.7 L2937.8,958.4 L2940.3,960.0 L2942.8,961.7 L2945.3,963.4 L2947.8,965.0 L2950.3,966.7 L2952.8,968.4 L2955.2,970.1 L2957.7,971.7 L2960.2,973.4 L2962.7,975.1 L2965.2,976.8 L2967.7,978.5 L2970.2,980.1 L2972.7,981.8 L2975.1,983.5 L2977.6,985.2 L2980.1,986.9 L2982.6,988.6 L2985.1,990.3 L2987.6,991.9 L2990.0,993.6 L2992.5,995.3 L2995.0,997.0 L2997.5,998.7 L2999.9,1000.4 L3002.4,1002.1 L3004.9,1003.8 L3007.4,1005.5 L3009.8,1007.2 L3012.3,1008.9 L3014.8,1010.7 L3017.2,1012.4 L3019.7,1014.1 L3022.2,1015.8 L3024.6,1017.5 L3027.1,1019.2 L3029.6,1020.9 L3032.0,1022.7 L3034.5,1024.4 L3037.0,1026.1 L3039.4,1027.8 L3041.9,1029.6 L3044.3,1031.3 L3046.8,1033.0 L3049.2,1034.7 L3051.7,1036.5 L3054.1,1038.2 L3056.6,1040.0 L3059.1,1041.7 L3061.5,1043.4 L3063.9,1045.2 L3066.4,1046.9 L3068.8,1048.7 L3071.3,1050.4 L3073.7,1052.2 L3076.2,1053.9 L3078.6,1055.7 L3081.1,1057.4 L3083.5,1059.2 L3085.9,1061.0 L3088.4,1062.7 L3090.8,1064.5 L3093.2,1066.2 L3095.7,1068.0 L3098.1,1069.8 L3100.5,1071.6 L3103.0,1073.3 L3105.4,1075.1 L3107.8,1076.9 L3110.3,1078.7 L3112.7,1080.5 L3115.1,1082.2 L3117.5,1084.0 L3119.9,1085.8 L3122.4,1087.6 L3124.8,1089.4 L3127.2,1091.2 L3129.6,1093.0 L3132.0,1094.8 L3134.4,1096.6 L3136.8,1098.4 L3139.2,1100.2 L3141.6,1102.0 L3144.0,1103.8 L3146.4,1105.7 L3148.8,1107.5 L3151.2,1109.3 L3153.6,1111.1 L3156.0,1112.9 L3158.4,1114.8 L3160.8,1116.6 L3163.2,1118.4 L3165.5,1120.3 L3167.9,1122.1 L3170.3,1123.9 L3172.7,1125.8 L3175.0,1127.6 L3177.4,1129.5 L3179.8,1131.3 L3182.1,1133.2 L3184.5,1135.0 L3186.9,1136.9 L3189.2,1138.7 L3191.6,1140.6 L3193.9,1142.5 L3196.3,1144.3 L3198.6,1146.2 L3201.0,1148.1 L3203.3,1149.9 L3205.6,1151.8 L3208.0,1153.7 L3210.3,1155.6 L3212.6,1157.5 L3214.9,1159.4 L3217.2,1161.3 L3219.5,1163.2 L3221.8,1165.1 L3224.1,1167.1 L3226.4,1169.0 L3228.7,1171.0 L3230.9,1172.9 L3233.2,1174.9 L3235.4,1176.9 L3237.7,1178.9 L3239.9,1180.8 L3242.1,1182.9 L3244.3,1184.9 L3246.5,1186.9 L3248.7,1189.0 L3250.9,1191.0 L3253.0,1193.1 L3255.2,1195.2 L3257.3,1197.3 L3259.5,1199.4 L3261.6,1201.5 L3263.7,1203.6 L3265.8,1205.8 L3267.9,1208.0 L3269.9,1210.2 L3272.0,1212.4 L3274.0,1214.6 L3276.0,1216.9 L3278.0,1219.1 L3280.0,1221.4" fill="none" stroke="#9a32cd" stroke-width="1.33" stroke-dasharray="8,8"/>
<polygon points="1503.4,527.4 1514.9,519.2 1517.5,528.2" fill="#9a32cd" stroke="#9a32cd" stroke-width="1.33"/>
<path d="M1517.0,546.9 L1520.0,547.5 L1522.9,548.1 L1525.9,548.7 L1528.9,549.3 L1531.8,549.9 L1534.8,550.5 L1537.7,551.1 L1540.7,551.7 L1543.6,552.4 L1546.6,553.0 L1549.5,553.6 L1552.5,554.2 L1555.4,554.8 L1558.4,555.4 L1561.4,556.1 L1564.3,556.7 L1567.3,557.3 L1570.2,557.9 L1573.2,558.5 L1576.1,559.2 L1579.1,559.8 L1582.0,560.4 L1585.0,561.1 L1587.9,561.7 L1590.9,562.3 L1593.8,562.9 L1596.8,563.6 L1599.7,564.2 L1602.7,564.8 L1605.6,565.5 L1608.6,566.1 L1611.5,566.7 L1614.5,567.4 L1617.4,568.0 L1620.3,568.6 L1623.3,569.3 L1626.2,569.9 L1629.2,570.5 L1632.1,571.1 L1635.1,571.8 L1638.0,572.4 L1641.0,573.0 L1643.9,573.7 L1646.9,574.3 L1649.8,574.9 L1652.8,575.5 L1655.7,576.2 L1658.7,576.8 L1661.6,577.4 L1664.6,578.0 L1667.5,578.7 L1670.5,579.3 L1673.4,579.9 L1676.4,580.5 L1679.3,581.1 L1682.3,581.7 L1685.3,582.3 L1688.2,582.9 L1691.2,583.5 L1694.1,584.1 L1697.1,584.8 L1700.0,585.4 L1703.0,585.9 L1705.9,586.5 L1708.9,587.1 L1711.9,587.7 L1714.8,588.3 L1717.8,588.9 L1720.7,589.5 L1723.7,590.1 L1726.7,590.6 L1729.6,591.2 L1732.6,591.8 L1735.5,592.3 L1738.5,592.9 L1741.5,593.5 L1744.4,594.0 L1747.4,594.6 L1750.4,595.1 L1753.3,595.7 L1756.3,596.2 L1759.3,596.8 L1762.2,597.3 L1765.2,597.8 L1768.2,598.3 L1771.2,598.9 L1774.1,599.4 L1777.1,599.9 L1780.1,600.4 L1783.1,600.9 L1786.0,601.4 L1789.0,601.9 L1792.0,602.3 L1795.0,602.8 L1798.0,603.3 L1800.9,603.7 L1803.9,604.2 L1806.9,604.6 L1809.9,605.0 L1812.9,605.5 L1815.9,605.9 L1818.9,606.3 L1821.8,606.7 L1824.8,607.1 L1827.8,607.5 L1830.8,607.8 L1833.8,608.2 L1836.8,608.5 L1839.8,608.9 L1842.8,609.2 L1845.8,609.5 L1848.8,609.8 L1851.8,610.1 L1854.8,610.4 L1857.8,610.7 L1860.8,610.9 L1863.8,611.2 L1866.8,611.4 L1869.8,611.7 L1872.8,611.9 L1875.8,612.1 L1878.8,612.3 L1881.8,612.4 L1884.8,612.6 L1887.8,612.8 L1890.9,612.9 L1893.9,613.1 L1896.9,613.2 L1899.9,613.3 L1902.9,613.4 L1905.9,613.5 L1908.9,613.6 L1911.9,613.7 L1915.0,613.8 L1918.0,613.9 L1921.0,613.9 L1924.0,614.0 L1927.0,614.1 L1930.0,614.1 L1933.1,614.2 L1936.1,614.2 L1939.1,614.2 L1942.1,614.3 L1945.1,614.3 L1948.1,614.3 L1951.2,614.3 L1954.2,614.3 L1957.2,614.4 L1960.2,614.4 L1963.2,614.4 L1966.2,614.4 L1969.3,614.4 L1972.3,614.4 L1975.3,614.4 L1978.3,614.4 L1981.3,614.4 L1984.3,614.4 L1987.3,614.4 L1990.4,614.4 L1993.4,614.5 L1996.4,614.5 L1999.4,614.6 L2002.4,614.6 L2005.4,614.7 L2008.4,614.8 L2011.4,614.9 L2014.4,615.0 L2017.4,615.2 L2020.4,615.4 L2023.4,615.6 L2026.4,615.8 L2029.4,616.0 L2032.4,616.3 L2035.4,616.6 L2038.4,617.0 L2041.4,617.4 L2044.3,617.8 L2047.3,618.2 L2050.3,618.6 L2053.3,619.1 L2056.2,619.6 L2059.2,620.1 L2062.2,620.7 L2065.1,621.3 L2068.1,621.8 L2071.1,622.5 L2074.0,623.1 L2077.0,623.7 L2079.9,624.4 L2082.8,625.1 L2085.8,625.8 L2088.7,626.5 L2091.7,627.2 L2094.6,628.0 L2097.5,628.7 L2100.4,629.5 L2103.3,630.3 L2106.2,631.1 L2109.1,631.9 L2112.0,632.7 L2114.9,633.5 L2117.8,634.4 L2120.7,635.3 L2123.6,636.1 L2126.4,637.1 L2129.3,638.0 L2132.1,639.0 L2134.9,640.0 L2137.8,641.0 L2140.6,642.0 L2143.4,643.1 L2146.2,644.2 L2148.9,645.3 L2151.7,646.5 L2154.5,647.7 L2157.2,648.9 L2159.9,650.2 L2162.7,651.4 L2165.4,652.7 L2168.1,654.1 L2170.7,655.4 L2173.4,656.8 L2176.1,658.2 L2178.7,659.6 L2181.3,661.1 L2183.9,662.6 L2186.5,664.1 L2189.1,665.7 L2191.7,667.3 L2194.2,668.9 L2196.7,670.5 L2199.2,672.2 L2201.7,673.9 L2204.1,675.7 L2206.6,677.4 L2209.0,679.2 L2211.3,681.1 L2213.7,682.9 L2216.0,684.8 L2218.3,686.7 L2220.6,688.7 L2222.9,690.7 L2225.1,692.7 L2227.3,694.7 L2229.5,696.8 L2231.7,698.9 L2233.8,701.0 L2235.9,703.1 L2238.0,705.3 L2240.0,707.5 L2242.1,709.7 L2244.1,711.9 L2246.1,714.2 L2248.0,716.5 L2250.0,718.8 L2251.9,721.1 L2253.8,723.4 L2255.6,725.8 L2257.5,728.2 L2259.3,730.6 L2261.1,733.0 L2262.8,735.5 L2264.5,737.9 L2266.3,740.4 L2267.9,742.9 L2269.6,745.4 L2271.2,747.9 L2272.8,750.4 L2274.4,753.0 L2276.0,755.6 L2277.5,758.1 L2279.0,760.7 L2280.5,763.4 L2282.0,766.0 L2283.4,768.6 L2284.8,771.3 L2286.2,773.9 L2287.6,776.6 L2288.9,779.3 L2290.2,782.0 L2291.5,784.7 L2292.8,787.5 L2294.0,790.2 L2295.3,793.0 L2296.5,795.7 L2297.6,798.5 L2298.8,801.3 L2299.9,804.1 L2301.1,806.9 L2302.2,809.7 L2303.2,812.5 L2304.3,815.3 L2305.3,818.2 L2306.3,821.0 L2307.3,823.8 L2308.3,826.7 L2309.2,829.6 L2310.2,832.4 L2311.1,835.3 L2312.0,838.2 L2312.8,841.1 L2313.7,844.0 L2314.5,846.9 L2315.4,849.8 L2316.2,852.7 L2316.9,855.6 L2317.7,858.5 L2318.5,861.4 L2319.2,864.3 L2319.9,867.3 L2320.6,870.2" fill="none" stroke="#9a32cd" stroke-width="1.33" stroke-dasharray="8,8"/>
<polygon points="1504.0,544.2 1518.0,542.3 1516.1,551.5" fill="#9a32cd" stroke="#9a32cd" stroke-width="1.33"/>
<path d="M1491.5,562.0 L1493.0,564.5 L1494.5,567.1 L1496.0,569.7 L1497.5,572.3 L1499.0,574.8 L1500.6,577.4 L1502.1,580.0 L1503.6,582.6 L1505.2,585.2 L1506.8,587.8 L1508.4,590.4 L1510.0,593.0 L1511.6,595.6 L1513.2,598.1 L1514.9,600.7 L1516.5,603.3 L1518.2,605.9 L1519.9,608.4 L1521.6,611.0 L1523.4,613.5 L1525.1,616.1 L1526.9,618.6 L1528.7,621.1 L1530.5,623.6 L1532.3,626.1 L1534.2,628.5 L1536.1,631.0 L1538.0,633.4 L1539.9,635.8 L1541.8,638.2 L1543.8,640.5 L1545.8,642.9 L1547.8,645.2 L1549.8,647.5 L1551.9,649.7 L1554.0,652.0 L1556.1,654.2 L1558.2,656.4 L1560.4,658.5 L1562.6,660.6 L1564.8,662.7 L1567.1,664.8 L1569.3,666.8 L1571.6,668.8 L1574.0,670.7 L1576.3,672.6 L1578.7,674.5 L1581.1,676.4 L1583.5,678.2 L1586.0,679.9 L1588.4,681.6 L1591.0,683.3 L1593.5,685.0 L1596.0,686.6 L1598.6,688.1 L1601.2,689.6 L1603.8,691.1 L1606.5,692.5 L1609.1,693.9 L1611.8,695.2 L1614.5,696.4 L1617.3,697.7 L1620.0,698.9 L1622.8,700.0 L1625.6,701.1 L1628.4,702.1 L1631.2,703.1 L1634.0,704.1 L1636.9,705.0 L1639.8,705.9 L1642.6,706.7 L1645.5,707.5 L1648.4,708.2 L1651.3,708.9 L1654.2,709.5 L1657.2,710.1 L1660.1,710.7 L1663.1,711.2 L1666.0,711.7 L1669.0,712.1 L1672.0,712.5 L1675.0,712.9 L1678.0,713.2 L1681.0,713.5 L1684.0,713.7 L1687.0,713.9 L1690.0,714.1 L1693.0,714.3 L1696.1,714.4 L1699.1,714.5 L1702.2,714.5 L1705.2,714.5 L1708.3,714.5 L1711.3,714.5 L1714.4,714.4 L1717.4,714.3 L1720.5,714.2 L1723.6,714.1 L1726.7,713.9 L1729.7,713.7 L1732.8,713.5 L1735.9,713.3 L1739.0,713.0 L1742.0,712.7 L1745.1,712.4 L1748.2,712.1 L1751.3,711.8 L1754.3,711.4 L1757.4,711.0 L1760.5,710.6 L1763.6,710.2 L1766.6,709.8 L1769.7,709.4 L1772.8,708.9 L1775.8,708.5 L1778.9,708.0 L1781.9,707.5 L1784.9,707.0 L1788.0,706.5 L1791.0,706.0 L1794.0,705.5 L1797.1,705.0 L1800.1,704.5 L1803.1,703.9 L1806.1,703.4 L1809.1,702.8 L1812.0,702.3 L1815.0,701.7 L1818.0,701.2 L1820.9,700.6 L1823.9,700.1 L1826.8,699.5 L1829.7,699.0 L1832.7,698.4 L1835.6,697.9 L1838.5,697.4 L1841.3,696.8 L1844.2,696.3" fill="none" stroke="#9a32cd" stroke-width="1.33" stroke-dasharray="8,8"/>
<polygon points="1485.4,550.2 1495.7,559.8 1487.4,564.2" fill="#9a32cd" stroke="#9a32cd" stroke-width="1.33"/>
<path d="M1968.6,694.5 L1971.6,695.2 L1974.5,695.9 L1977.5,696.5 L1980.4,697.2 L1983.4,697.9 L1986.4,698.5 L1989.3,699.1 L1992.3,699.8 L1995.3,700.4 L1998.2,701.0 L2001.2,701.6 L2004.2,702.2 L2007.1,702.9 L2010.1,703.5 L2013.1,704.1 L2016.0,704.7 L2019.0,705.3 L2021.9,705.9 L2024.9,706.6 L2027.9,707.2 L2030.8,707.8 L2033.8,708.5 L2036.7,709.1 L2039.7,709.8 L2042.6,710.4 L2045.6,711.1 L2048.5,711.8 L2051.5,712.5 L2054.4,713.2 L2057.3,713.9 L2060.3,714.6 L2063.2,715.3 L2066.1,716.1 L2069.0,716.8 L2072.0,717.6 L2074.9,718.4 L2077.8,719.2 L2080.7,720.1 L2083.6,720.9 L2086.5,721.8 L2089.4,722.7 L2092.3,723.6 L2095.2,724.5 L2098.0,725.4 L2100.9,726.4 L2103.8,727.4 L2106.7,728.3 L2109.5,729.3 L2112.4,730.4 L2115.2,731.4 L2118.1,732.5 L2120.9,733.5 L2123.8,734.6 L2126.6,735.7 L2129.4,736.8 L2132.2,738.0 L2135.0,739.1 L2137.8,740.3 L2140.6,741.4 L2143.4,742.6 L2146.2,743.8 L2149.0,745.0 L2151.8,746.2 L2154.5,747.4 L2157.3,748.7 L2160.1,749.9 L2162.8,751.2 L2165.5,752.4 L2168.3,753.7 L2171.0,755.0 L2173.7,756.3 L2176.4,757.6 L2179.1,758.9 L2181.8,760.2 L2184.5,761.6 L2187.2,762.9 L2189.9,764.3 L2192.5,765.7 L2195.2,767.2 L2197.8,768.6 L2200.4,770.1 L2203.0,771.6 L2205.7,773.1 L2208.3,774.7 L2210.9,776.2 L2213.4,777.8 L2216.0,779.4 L2218.6,781.0 L2221.2,782.6 L2223.8,784.3 L2226.3,785.9 L2228.9,787.6 L2231.4,789.3 L2233.9,791.0 L2236.4,792.7 L2238.9,794.5 L2241.3,796.3 L2243.8,798.1 L2246.2,799.9 L2248.6,801.8 L2251.0,803.6 L2253.3,805.5 L2255.6,807.4 L2257.9,809.4 L2260.2,811.4 L2262.4,813.4 L2264.6,815.4 L2266.8,817.4 L2268.9,819.5 L2271.1,821.6 L2273.2,823.8 L2275.2,825.9 L2277.3,828.1 L2279.3,830.3 L2281.3,832.6 L2283.3,834.9 L2285.2,837.2 L2287.2,839.5 L2289.1,841.9 L2291.0,844.2 L2292.8,846.6 L2294.7,849.0 L2296.6,851.4 L2298.5,853.8 L2300.4,856.2 L2302.3,858.6 L2304.2,860.9 L2306.1,863.3 L2308.0,865.6 L2310.0,867.9 L2312.0,870.2" fill="none" stroke="#9a32cd" stroke-width="1.33" stroke-dasharray="8,8"/>
<polygon points="1955.6,691.7 1969.6,689.9 1967.6,699.1" fill="#9a32cd" stroke="#9a32cd" stroke-width="1.33"/>
<path d="M1524.1,748.6 L1527.0,749.1 L1530.0,749.5 L1533.0,750.0 L1535.9,750.5 L1538.9,751.0 L1541.9,751.4 L1544.9,751.9 L1547.9,752.3 L1550.9,752.7 L1553.9,753.1 L1557.0,753.5 L1560.0,753.9 L1563.0,754.3 L1566.0,754.6 L1569.1,755.0 L1572.1,755.3 L1575.1,755.6 L1578.2,755.9 L1581.2,756.2 L1584.2,756.5 L1587.3,756.8 L1590.3,757.0 L1593.4,757.3 L1596.4,757.5 L1599.5,757.7 L1602.5,757.9 L1605.6,758.0 L1608.6,758.2 L1611.7,758.3 L1614.7,758.4 L1617.8,758.5 L1620.8,758.6 L1623.9,758.6 L1626.9,758.7 L1630.0,758.7 L1633.0,758.7 L1636.1,758.7 L1639.1,758.6 L1642.1,758.6 L1645.2,758.5 L1648.2,758.4 L1651.2,758.2 L1654.3,758.1 L1657.3,757.9 L1660.3,757.7 L1663.3,757.5 L1666.4,757.2 L1669.4,756.9 L1672.4,756.6 L1675.4,756.3 L1678.4,756.0 L1681.4,755.6 L1684.4,755.2 L1687.4,754.7 L1690.3,754.3 L1693.3,753.8 L1696.3,753.3 L1699.3,752.8 L1702.2,752.2 L1705.2,751.7 L1708.2,751.1 L1711.2,750.5 L1714.2,749.9 L1717.2,749.4 L1720.2,748.8 L1723.2,748.2 L1726.2,747.6 L1729.2,747.0 L1732.3,746.4 L1735.3,745.8 L1738.4,745.3 L1741.5,744.7 L1744.5,744.1 L1747.6,743.5 L1750.6,742.8 L1753.5,742.0 L1756.4,741.2 L1759.3,740.2 L1762.0,739.2 L1764.7,737.9 L1767.2,736.6 L1769.7,735.0 L1771.9,733.3 L1774.1,731.3 L1776.2,729.3 L1778.2,727.1 L1780.2,724.9 L1782.1,722.6 L1784.1,720.4 L1786.2,718.2 L1788.3,716.1 L1790.6,714.1 L1792.9,712.2 L1795.4,710.5 L1797.9,708.8 L1800.5,707.3 L1803.2,706.0 L1806.0,704.7 L1808.9,703.6 L1811.8,702.7 L1814.8,701.8 L1817.8,701.1 L1820.8,700.4 L1823.9,699.8 L1827.0,699.2 L1830.0,698.5 L1833.0,697.9 L1835.9,697.2 L1838.8,696.4 L1841.6,695.5" fill="none" stroke="#9a32cd" stroke-width="1.33" stroke-dasharray="8,8"/>
<polygon points="1511.0,746.0 1525.0,744.0 1523.1,753.2" fill="#9a32cd" stroke="#9a32cd" stroke-width="1.33"/>
<path d="M1523.7,750.0 L1526.7,750.6 L1529.6,751.3 L1532.6,751.9 L1535.5,752.6 L1538.5,753.2 L1541.4,753.9 L1544.4,754.5 L1547.3,755.1 L1550.2,755.8 L1553.2,756.4 L1556.2,757.0 L1559.1,757.6 L1562.1,758.2 L1565.0,758.9 L1568.0,759.5 L1570.9,760.1 L1573.9,760.7 L1576.9,761.3 L1579.8,761.8 L1582.8,762.4 L1585.8,763.0 L1588.7,763.6 L1591.7,764.2 L1594.7,764.7 L1597.6,765.3 L1600.6,765.8 L1603.6,766.4 L1606.5,766.9 L1609.5,767.5 L1612.5,768.0 L1615.5,768.5 L1618.4,769.1 L1621.4,769.6 L1624.4,770.1 L1627.4,770.6 L1630.4,771.1 L1633.3,771.6 L1636.3,772.1 L1639.3,772.6 L1642.3,773.0 L1645.3,773.5 L1648.3,774.0 L1651.2,774.4 L1654.2,774.9 L1657.2,775.3 L1660.2,775.8 L1663.2,776.2 L1666.2,776.6 L1669.2,777.1 L1672.2,777.5 L1675.2,777.9 L1678.2,778.3 L1681.2,778.7 L1684.2,779.1 L1687.2,779.5 L1690.2,779.8 L1693.2,780.2 L1696.2,780.5 L1699.2,780.9 L1702.2,781.2 L1705.2,781.6 L1708.2,781.9 L1711.2,782.2 L1714.2,782.5 L1717.2,782.9 L1720.2,783.2 L1723.2,783.4 L1726.2,783.7 L1729.2,784.0 L1732.2,784.3 L1735.2,784.5 L1738.2,784.8 L1741.2,785.0 L1744.2,785.3 L1747.2,785.5 L1750.3,785.7 L1753.3,785.9 L1756.3,786.1 L1759.3,786.3 L1762.3,786.5 L1765.3,786.7 L1768.3,786.9 L1771.3,787.1 L1774.4,787.2 L1777.4,787.4 L1780.4,787.5 L1783.4,787.7 L1786.4,787.8 L1789.4,788.0 L1792.5,788.1 L1795.5,788.2 L1798.5,788.4 L1801.5,788.5 L1804.5,788.6 L1807.5,788.7 L1810.6,788.8 L1813.6,788.9 L1816.6,789.0 L1819.6,789.1 L1822.6,789.2 L1825.7,789.3 L1828.7,789.4 L1831.7,789.5 L1834.7,789.6 L1837.7,789.7 L1840.8,789.8 L1843.8,789.8 L1846.8,789.9 L1849.8,790.0 L1852.8,790.1 L1855.9,790.1 L1858.9,790.2 L1861.9,790.3 L1864.9,790.4 L1867.9,790.4 L1871.0,790.5 L1874.0,790.6 L1877.0,790.6 L1880.0,790.7 L1883.0,790.8 L1886.1,790.8 L1889.1,790.9 L1892.1,791.0 L1895.1,791.1 L1898.1,791.1 L1901.2,791.2 L1904.2,791.3 L1907.2,791.4 L1910.2,791.4 L1913.2,791.5 L1916.3,791.6 L1919.3,791.7 L1922.3,791.8 L1925.3,791.9 L1928.3,792.0 L1931.3,792.1 L1934.4,792.2 L1937.4,792.3 L1940.4,792.4 L1943.4,792.5 L1946.4,792.6 L1949.4,792.7 L1952.5,792.8 L1955.5,793.0 L1958.5,793.1 L1961.5,793.3 L1964.5,793.4 L1967.5,793.6 L1970.5,793.7 L1973.5,793.9 L1976.6,794.1 L1979.6,794.2 L1982.6,794.4 L1985.6,794.6 L1988.6,794.8 L1991.6,795.0 L1994.6,795.2 L1997.6,795.5 L2000.6,795.7 L2003.6,795.9 L2006.6,796.2 L2009.6,796.5 L2012.6,796.7 L2015.6,797.0 L2018.6,797.3 L2021.6,797.6 L2024.6,797.9 L2027.6,798.2 L2030.6,798.5 L2033.6,798.9 L2036.6,799.2 L2039.6,799.6 L2042.6,799.9 L2045.6,800.3 L2048.6,800.7 L2051.6,801.1 L2054.6,801.5 L2057.6,801.9 L2060.5,802.3 L2063.5,802.8 L2066.5,803.2 L2069.5,803.6 L2072.5,804.1 L2075.5,804.6 L2078.4,805.0 L2081.4,805.5 L2084.4,806.0 L2087.4,806.5 L2090.4,807.0 L2093.3,807.5 L2096.3,808.1 L2099.3,808.6 L2102.2,809.1 L2105.2,809.7 L2108.2,810.2 L2111.2,810.8 L2114.1,811.4 L2117.1,812.0 L2120.0,812.6 L2123.0,813.2 L2126.0,813.8 L2128.9,814.4 L2131.9,815.0 L2134.8,815.6 L2137.8,816.3 L2140.8,816.9 L2143.7,817.6 L2146.7,818.3 L2149.6,818.9 L2152.6,819.6 L2155.5,820.3 L2158.4,821.0 L2161.4,821.7 L2164.3,822.5 L2167.2,823.2 L2170.2,824.0 L2173.1,824.7 L2176.0,825.5 L2178.9,826.2 L2181.9,827.0 L2184.8,827.8 L2187.7,828.6 L2190.6,829.4 L2193.5,830.3 L2196.4,831.1 L2199.3,832.0 L2202.2,832.8 L2205.1,833.7 L2208.0,834.6 L2210.9,835.4 L2213.8,836.3 L2216.6,837.3 L2219.5,838.2 L2222.4,839.1 L2225.2,840.1 L2228.1,841.0 L2231.0,842.0 L2233.8,843.0 L2236.7,844.0 L2239.5,845.0 L2242.4,846.0 L2245.2,847.0 L2248.0,848.0 L2250.8,849.1 L2253.7,850.2 L2256.5,851.2 L2259.3,852.3 L2262.1,853.4 L2264.9,854.5 L2267.7,855.7 L2270.5,856.8 L2273.3,858.0 L2276.0,859.1 L2278.8,860.3 L2281.6,861.5 L2284.4,862.7 L2287.1,863.9 L2289.9,865.1 L2292.6,866.4 L2295.3,867.6 L2298.1,868.9 L2300.8,870.2" fill="none" stroke="#9a32cd" stroke-width="1.33" stroke-dasharray="8,8"/>
<polygon points="1510.9,746.5 1525.0,745.4 1522.5,754.5" fill="#9a32cd" stroke="#9a32cd" stroke-width="1.33"/>
<path d="M940.0,949.1 L942.9,948.6 L945.9,948.2 L948.9,947.7 L951.8,947.3 L954.8,946.8 L957.8,946.4 L960.8,945.9 L963.7,945.5 L966.7,945.0 L969.7,944.6 L972.6,944.1 L975.6,943.7 L978.6,943.2 L981.6,942.8 L984.5,942.3 L987.5,941.9 L990.5,941.4 L993.5,941.0 L996.4,940.5 L999.4,940.1 L1002.4,939.6 L1005.3,939.2 L1008.3,938.7 L1011.3,938.3 L1014.3,937.8 L1017.2,937.4 L1020.2,936.9 L1023.2,936.5 L1026.2,936.0 L1029.1,935.6 L1032.1,935.2 L1035.1,934.7 L1038.1,934.3 L1041.0,933.8 L1044.0,933.4 L1047.0,933.0 L1050.0,932.5 L1052.9,932.1 L1055.9,931.6 L1058.9,931.2 L1061.9,930.8 L1064.8,930.3 L1067.8,929.9 L1070.8,929.5 L1073.8,929.0 L1076.7,928.6 L1079.7,928.2 L1082.7,927.7 L1085.7,927.3 L1088.7,926.9 L1091.6,926.5 L1094.6,926.0 L1097.6,925.6 L1100.6,925.2 L1103.5,924.7 L1106.5,924.3 L1109.5,923.9 L1112.5,923.5 L1115.5,923.1 L1118.4,922.6 L1121.4,922.2 L1124.4,921.8 L1127.4,921.4 L1130.4,921.0 L1133.3,920.5 L1136.3,920.1 L1139.3,919.7 L1142.3,919.3 L1145.3,918.9 L1148.2,918.5 L1151.2,918.1 L1154.2,917.7 L1157.2,917.3 L1160.2,916.9 L1163.1,916.4 L1166.1,916.0 L1169.1,915.6 L1172.1,915.2 L1175.1,914.8 L1178.0,914.4 L1181.0,914.0 L1184.0,913.6 L1187.0,913.2 L1190.0,912.8 L1193.0,912.5 L1195.9,912.1 L1198.9,911.7 L1201.9,911.3 L1204.9,910.9 L1207.9,910.5 L1210.9,910.1 L1213.8,909.7 L1216.8,909.3 L1219.8,909.0 L1222.8,908.6 L1225.8,908.2 L1228.8,907.8 L1231.7,907.4 L1234.7,907.1 L1237.7,906.7 L1240.7,906.3 L1243.7,905.9 L1246.7,905.6 L1249.7,905.2 L1252.6,904.8 L1255.6,904.5 L1258.6,904.1 L1261.6,903.7 L1264.6,903.4 L1267.6,903.0 L1270.6,902.6 L1273.5,902.3 L1276.5,901.9 L1279.5,901.6 L1282.5,901.2 L1285.5,900.9 L1288.5,900.5 L1291.5,900.2 L1294.4,899.8 L1297.4,899.5 L1300.4,899.1 L1303.4,898.8 L1306.4,898.4 L1309.4,898.1 L1312.4,897.8 L1315.4,897.4 L1318.4,897.1 L1321.3,896.8 L1324.3,896.4 L1327.3,896.1 L1330.3,895.8 L1333.3,895.4 L1336.3,895.1 L1339.3,894.8 L1342.3,894.5 L1345.3,894.2 L1348.2,893.8 L1351.2,893.5 L1354.2,893.2 L1357.2,892.9 L1360.2,892.6 L1363.2,892.3 L1366.2,892.0 L1369.2,891.7 L1372.2,891.4 L1375.2,891.1 L1378.2,890.8 L1381.1,890.5 L1384.1,890.2 L1387.1,889.9 L1390.1,889.6 L1393.1,889.3 L1396.1,889.0 L1399.1,888.7 L1402.1,888.4 L1405.1,888.1 L1408.1,887.9 L1411.1,887.6 L1414.1,887.3 L1417.1,887.0 L1420.1,886.8 L1423.0,886.5 L1426.0,886.2 L1429.0,885.9 L1432.0,885.7 L1435.0,885.4 L1438.0,885.2 L1441.0,884.9 L1444.0,884.6 L1447.0,884.4 L1450.0,884.1 L1453.0,883.9 L1456.0,883.6 L1459.0,883.4 L1462.0,883.1 L1465.0,882.9 L1468.0,882.7 L1471.0,882.4 L1474.0,882.2 L1477.0,882.0 L1480.0,881.7 L1483.0,881.5 L1485.9,881.3 L1488.9,881.0 L1491.9,880.8 L1494.9,880.6 L1497.9,880.4 L1500.9,880.2 L1503.9,880.0 L1506.9,879.7 L1509.9,879.5 L1512.9,879.3 L1515.9,879.1 L1518.9,878.9 L1521.9,878.7 L1524.9,878.5 L1527.9,878.3 L1530.9,878.2 L1533.9,878.0 L1536.9,877.8 L1539.9,877.6 L1542.9,877.4 L1545.9,877.2 L1548.9,877.1 L1551.9,876.9 L1554.9,876.7 L1557.9,876.5 L1560.9,876.4 L1563.9,876.2 L1566.9,876.0 L1569.9,875.9 L1572.9,875.7 L1575.9,875.6 L1578.9,875.4 L1581.9,875.3 L1584.9,875.1 L1587.9,875.0 L1590.9,874.8 L1593.9,874.7 L1596.9,874.6 L1599.9,874.4 L1602.9,874.3 L1605.9,874.2 L1608.9,874.1 L1611.9,873.9 L1614.9,873.8 L1618.0,873.7 L1621.0,873.6 L1624.0,873.5 L1627.0,873.4 L1630.0,873.2 L1633.0,873.1 L1636.0,873.0 L1639.0,872.9 L1642.0,872.8 L1645.0,872.7 L1648.0,872.7 L1651.0,872.6 L1654.0,872.5 L1657.0,872.4 L1660.0,872.3 L1663.0,872.2 L1666.0,872.1 L1669.0,872.1 L1672.0,872.0 L1675.0,871.9 L1678.0,871.8 L1681.1,871.8 L1684.1,871.7 L1687.1,871.6 L1690.1,871.6 L1693.1,871.5 L1696.1,871.5 L1699.1,871.4 L1702.1,871.3 L1705.1,871.3 L1708.1,871.2 L1711.1,871.2 L1714.1,871.1 L1717.1,871.1 L1720.1,871.0 L1723.1,871.0 L1726.1,871.0 L1729.2,870.9 L1732.2,870.9 L1735.2,870.9 L1738.2,870.8 L1741.2,870.8 L1744.2,870.8 L1747.2,870.7 L1750.2,870.7 L1753.2,870.7 L1756.2,870.6 L1759.2,870.6 L1762.2,870.6 L1765.2,870.6 L1768.3,870.6 L1771.3,870.5 L1774.3,870.5 L1777.3,870.5 L1780.3,870.5 L1783.3,870.5 L1786.3,870.5 L1789.3,870.5 L1792.3,870.5 L1795.3,870.4 L1798.3,870.4 L1801.3,870.4 L1804.4,870.4 L1807.4,870.4 L1810.4,870.4 L1813.4,870.4 L1816.4,870.4 L1819.4,870.4 L1822.4,870.4 L1825.4,870.4 L1828.4,870.4 L1831.4,870.4 L1834.4,870.4 L1837.5,870.4 L1840.5,870.5 L1843.5,870.5 L1846.5,870.5 L1849.5,870.5 L1852.5,870.5 L1855.5,870.5 L1858.5,870.5 L1861.5,870.5 L1864.5,870.5 L1867.5,870.5 L1870.5,870.6 L1873.6,870.6 L1876.6,870.6 L1879.6,870.6 L1882.6,870.6 L1885.6,870.6 L1888.6,870.7 L1891.6,870.7 L1894.6,870.7 L1897.6,870.7 L1900.6,870.7 L1903.6,870.8 L1906.7,870.8 L1909.7,870.8 L1912.7,870.8 L1915.7,870.8 L1918.7,870.9 L1921.7,870.9 L1924.7,870.9 L1927.7,870.9 L1930.7,870.9 L1933.7,871.0 L1936.7,871.0 L1939.8,871.0 L1942.8,871.0 L1945.8,871.0 L1948.8,871.1 L1951.8,871.1 L1954.8,871.1 L1957.8,871.1 L1960.8,871.2 L1963.8,871.2 L1966.8,871.2 L1969.8,871.2 L1972.8,871.2 L1975.8,871.3 L1978.9,871.3 L1981.9,871.3 L1984.9,871.3 L1987.9,871.4 L1990.9,871.4 L1993.9,871.4 L1996.9,871.5 L1999.9,871.5 L2002.9,871.5 L2005.9,871.5 L2008.9,871.6 L2011.9,871.6 L2014.9,871.6 L2018.0,871.7 L2021.0,871.7 L2024.0,871.7 L2027.0,871.7 L2030.0,871.8 L2033.0,871.8 L2036.0,871.8 L2039.0,871.9 L2042.0,871.9 L2045.0,871.9 L2048.0,872.0 L2051.0,872.0 L2054.0,872.1 L2057.0,872.1 L2060.1,872.1 L2063.1,872.2 L2066.1,872.2 L2069.1,872.2 L2072.1,872.3 L2075.1,872.3 L2078.1,872.4 L2081.1,872.4 L2084.1,872.5 L2087.1,872.5 L2090.1,872.5 L2093.1,872.6 L2096.1,872.6 L2099.1,872.7 L2102.1,872.7 L2105.1,872.8 L2108.2,872.8 L2111.2,872.9 L2114.2,872.9 L2117.2,873.0 L2120.2,873.0 L2123.2,873.1 L2126.2,873.1 L2129.2,873.2 L2132.2,873.3 L2135.2,873.3 L2138.2,873.4 L2141.2,873.4 L2144.2,873.5 L2147.2,873.6 L2150.2,873.6 L2153.2,873.7 L2156.2,873.7 L2159.2,873.8 L2162.3,873.9 L2165.3,874.0 L2168.3,874.0 L2171.3,874.1 L2174.3,874.2 L2177.3,874.2 L2180.3,874.3 L2183.3,874.4 L2186.3,874.5 L2189.3,874.5 L2192.3,874.6 L2195.3,874.7 L2198.3,874.8 L2201.3,874.9 L2204.3,874.9 L2207.3,875.0 L2210.3,875.1 L2213.3,875.2 L2216.3,875.3 L2219.3,875.4 L2222.3,875.5 L2225.3,875.6 L2228.3,875.7 L2231.3,875.8 L2234.4,875.9 L2237.4,876.0 L2240.4,876.1 L2243.4,876.2 L2246.4,876.3 L2249.4,876.4 L2252.4,876.5 L2255.4,876.6 L2258.4,876.7 L2261.4,876.8 L2264.4,876.9 L2267.4,877.0 L2270.4,877.1 L2273.4,877.2 L2276.4,877.4 L2279.4,877.5" fill="none" stroke="#9a32cd" stroke-width="1.33" stroke-dasharray="8,8"/>
<polygon points="926.8,951.0 939.3,944.4 940.6,953.7" fill="#9a32cd" stroke="#9a32cd" stroke-width="1.33"/>
<path d="M1984.0,917.2 L1987.0,917.2 L1990.1,917.1 L1993.2,917.0 L1996.2,917.0 L1999.3,916.9 L2002.3,916.8 L2005.4,916.7 L2008.4,916.6 L2011.5,916.5 L2014.6,916.4 L2017.6,916.3 L2020.7,916.2 L2023.7,916.1 L2026.8,915.9 L2029.8,915.8 L2032.9,915.7 L2035.9,915.5 L2039.0,915.4 L2042.0,915.3 L2045.1,915.1 L2048.1,915.0 L2051.2,914.8 L2054.2,914.6 L2057.3,914.5 L2060.3,914.3 L2063.4,914.1 L2066.5,914.0 L2069.5,913.8 L2072.6,913.6 L2075.6,913.4 L2078.7,913.2 L2081.7,913.0 L2084.7,912.8 L2087.8,912.6 L2090.8,912.4 L2093.9,912.2 L2096.9,912.0 L2100.0,911.8 L2103.0,911.5 L2106.1,911.3 L2109.1,911.1 L2112.2,910.9 L2115.2,910.6 L2118.3,910.4 L2121.3,910.1 L2124.4,909.9 L2127.4,909.7 L2130.5,909.4 L2133.5,909.1 L2136.5,908.9 L2139.6,908.6 L2142.6,908.4 L2145.7,908.1 L2148.7,907.8 L2151.8,907.6 L2154.8,907.3 L2157.9,907.0 L2160.9,906.7 L2163.9,906.4 L2167.0,906.1 L2170.0,905.8 L2173.1,905.6 L2176.1,905.3 L2179.2,905.0 L2182.2,904.7 L2185.2,904.4 L2188.3,904.0 L2191.3,903.7 L2194.4,903.4 L2197.4,903.1 L2200.4,902.8 L2203.5,902.5 L2206.5,902.2 L2209.6,901.8 L2212.6,901.5 L2215.6,901.2 L2218.7,900.8 L2221.7,900.5 L2224.8,900.2 L2227.8,899.8 L2230.8,899.5 L2233.9,899.2 L2236.9,898.8 L2239.9,898.5 L2243.0,898.1 L2246.0,897.8 L2249.0,897.4 L2252.1,897.1 L2255.1,896.7 L2258.2,896.3 L2261.2,896.0 L2264.2,895.6 L2267.3,895.3 L2270.3,894.9 L2273.3,894.5 L2276.4,894.2 L2279.4,893.8" fill="none" stroke="#9a32cd" stroke-width="1.33" stroke-dasharray="8,8"/>
<polygon points="1970.7,917.7 1983.8,912.5 1984.2,921.9" fill="#9a32cd" stroke="#9a32cd" stroke-width="1.33"/>
<path d="M2000.0,985.8 L2003.0,985.4 L2006.0,985.0 L2009.0,984.6 L2012.0,984.2 L2015.0,983.8 L2018.0,983.4 L2021.0,983.0 L2024.0,982.6 L2027.0,982.2 L2030.0,981.7 L2033.0,981.3 L2036.0,980.9 L2039.0,980.4 L2042.0,979.9 L2045.0,979.5 L2048.0,979.0 L2050.9,978.5 L2053.9,978.0 L2056.9,977.5 L2059.9,977.0 L2062.9,976.5 L2065.9,976.0 L2068.9,975.5 L2071.9,975.0 L2074.9,974.4 L2077.9,973.9 L2080.9,973.3 L2083.8,972.7 L2086.8,972.2 L2089.8,971.6 L2092.8,971.0 L2095.8,970.4 L2098.7,969.8 L2101.7,969.2 L2104.7,968.5 L2107.7,967.9 L2110.6,967.3 L2113.6,966.6 L2116.6,966.0 L2119.5,965.3 L2122.5,964.6 L2125.4,963.9 L2128.4,963.2 L2131.3,962.5 L2134.3,961.8 L2137.2,961.0 L2140.2,960.3 L2143.1,959.5 L2146.0,958.8 L2149.0,958.0 L2151.9,957.2 L2154.8,956.4 L2157.8,955.6 L2160.7,954.8 L2163.6,954.0 L2166.5,953.1 L2169.4,952.3 L2172.3,951.4 L2175.2,950.5 L2178.1,949.7 L2181.0,948.8 L2183.9,947.9 L2186.8,946.9 L2189.7,946.0 L2192.6,945.1 L2195.4,944.1 L2198.3,943.1 L2201.2,942.1 L2204.0,941.1 L2206.9,940.1 L2209.7,939.1 L2212.6,938.1 L2215.4,937.0 L2218.2,936.0 L2221.1,934.9 L2223.9,933.8 L2226.7,932.7 L2229.5,931.6 L2232.3,930.5 L2235.1,929.3 L2237.9,928.2 L2240.7,927.0 L2243.5,925.8 L2246.3,924.6 L2249.1,923.4 L2251.8,922.2 L2254.6,921.0 L2257.4,919.7 L2260.1,918.4 L2262.8,917.2 L2265.6,915.9 L2268.3,914.6 L2271.0,913.2 L2273.8,911.9 L2276.5,910.5 L2279.2,909.2 L2281.9,907.8 L2284.6,906.4 L2287.2,904.9 L2289.9,903.5 L2292.6,902.1 L2295.2,900.6 L2297.9,899.1" fill="none" stroke="#9a32cd" stroke-width="1.33" stroke-dasharray="8,8"/>
<polygon points="1986.8,987.3 1999.5,981.1 2000.6,990.4" fill="#9a32cd" stroke="#9a32cd" stroke-width="1.33"/>
<path d="M1999.6,1094.6 L2002.5,1094.9 L2005.4,1095.1 L2008.3,1095.3 L2011.3,1095.5 L2014.2,1095.7 L2017.2,1095.9 L2020.2,1096.1 L2023.2,1096.2 L2026.2,1096.4 L2029.2,1096.6 L2032.2,1096.7 L2035.3,1096.8 L2038.3,1096.9 L2041.4,1097.1 L2044.4,1097.1 L2047.5,1097.2 L2050.5,1097.3 L2053.6,1097.3 L2056.7,1097.4 L2059.8,1097.4 L2062.9,1097.4 L2065.9,1097.4 L2069.0,1097.3 L2072.1,1097.3 L2075.2,1097.2 L2078.3,1097.1 L2081.4,1097.0 L2084.5,1096.9 L2087.6,1096.8 L2090.7,1096.6 L2093.8,1096.4 L2096.9,1096.2 L2100.0,1096.0 L2103.0,1095.7 L2106.1,1095.4 L2109.2,1095.1 L2112.3,1094.8 L2115.3,1094.4 L2118.4,1094.1 L2121.4,1093.7 L2124.5,1093.2 L2127.5,1092.8 L2130.6,1092.3 L2133.6,1091.8 L2136.6,1091.2 L2139.6,1090.6 L2142.6,1090.0 L2145.6,1089.4 L2148.5,1088.7 L2151.5,1088.0 L2154.5,1087.3 L2157.4,1086.6 L2160.3,1085.8 L2163.2,1084.9 L2166.1,1084.1 L2169.0,1083.2 L2171.9,1082.2 L2174.7,1081.3 L2177.5,1080.3 L2180.4,1079.2 L2183.2,1078.1 L2185.9,1077.0 L2188.7,1075.9 L2191.4,1074.7 L2194.2,1073.4 L2196.9,1072.2 L2199.6,1070.8 L2202.2,1069.5 L2204.9,1068.1 L2207.5,1066.7 L2210.1,1065.2 L2212.6,1063.6 L2215.2,1062.1 L2217.7,1060.5 L2220.2,1058.8 L2222.7,1057.1 L2225.2,1055.4 L2227.6,1053.6 L2230.0,1051.8 L2232.4,1050.0 L2234.7,1048.1 L2237.0,1046.2 L2239.3,1044.3 L2241.6,1042.3 L2243.9,1040.3 L2246.1,1038.2 L2248.3,1036.1 L2250.4,1034.0 L2252.6,1031.9 L2254.7,1029.7 L2256.8,1027.5 L2258.8,1025.2 L2260.8,1023.0 L2262.8,1020.7 L2264.8,1018.3 L2266.7,1016.0 L2268.6,1013.6 L2270.5,1011.2 L2272.3,1008.7 L2274.1,1006.3 L2275.9,1003.8 L2277.6,1001.3 L2279.3,998.7 L2281.0,996.2 L2282.6,993.6 L2284.2,991.0 L2285.8,988.3 L2287.3,985.7 L2288.8,983.0 L2290.3,980.3 L2291.8,977.6 L2293.2,974.9 L2294.5,972.2 L2295.9,969.4 L2297.2,966.6 L2298.5,963.9 L2299.8,961.1 L2301.0,958.2 L2302.2,955.4 L2303.4,952.6 L2304.6,949.7 L2305.7,946.9 L2306.8,944.0 L2307.9,941.2 L2308.9,938.3 L2309.9,935.4 L2310.9,932.5 L2311.9,929.6 L2312.9,926.7 L2313.8,923.8 L2314.7,920.9 L2315.6,918.0 L2316.5,915.1 L2317.3,912.3 L2318.2,909.4 L2319.0,906.5 L2319.8,903.6 L2320.5,900.7 L2321.3,897.8" fill="none" stroke="#9a32cd" stroke-width="1.33" stroke-dasharray="8,8"/>
<polygon points="1986.3,1093.5 2000.0,1090.0 1999.1,1099.3" fill="#9a32cd" stroke="#9a32cd" stroke-width="1.33"/>
<path d="M2000.0,1189.1 L2003.0,1188.8 L2005.9,1188.5 L2008.9,1188.1 L2011.9,1187.8 L2014.8,1187.4 L2017.8,1187.0 L2020.8,1186.6 L2023.8,1186.2 L2026.8,1185.8 L2029.7,1185.3 L2032.7,1184.9 L2035.7,1184.4 L2038.7,1183.9 L2041.7,1183.4 L2044.7,1182.9 L2047.6,1182.3 L2050.6,1181.8 L2053.6,1181.2 L2056.6,1180.6 L2059.6,1180.0 L2062.6,1179.4 L2065.5,1178.8 L2068.5,1178.1 L2071.5,1177.5 L2074.5,1176.8 L2077.4,1176.0 L2080.4,1175.3 L2083.4,1174.6 L2086.3,1173.8 L2089.3,1173.0 L2092.2,1172.2 L2095.2,1171.4 L2098.1,1170.5 L2101.0,1169.6 L2104.0,1168.8 L2106.9,1167.8 L2109.8,1166.9 L2112.7,1166.0 L2115.6,1165.0 L2118.5,1164.0 L2121.4,1163.0 L2124.3,1161.9 L2127.1,1160.8 L2130.0,1159.7 L2132.8,1158.6 L2135.7,1157.5 L2138.5,1156.3 L2141.3,1155.1 L2144.1,1153.9 L2146.9,1152.7 L2149.7,1151.4 L2152.5,1150.2 L2155.2,1148.9 L2158.0,1147.5 L2160.7,1146.2 L2163.4,1144.8 L2166.1,1143.4 L2168.8,1142.0 L2171.5,1140.5 L2174.1,1139.0 L2176.8,1137.5 L2179.4,1136.0 L2182.0,1134.5 L2184.5,1132.9 L2187.1,1131.3 L2189.6,1129.7 L2192.2,1128.0 L2194.7,1126.3 L2197.1,1124.6 L2199.6,1122.9 L2202.0,1121.1 L2204.4,1119.4 L2206.8,1117.5 L2209.2,1115.7 L2211.6,1113.8 L2213.9,1111.9 L2216.2,1110.0 L2218.4,1108.1 L2220.7,1106.1 L2222.9,1104.1 L2225.1,1102.1 L2227.3,1100.0 L2229.4,1097.9 L2231.5,1095.8 L2233.6,1093.7 L2235.7,1091.5 L2237.7,1089.3 L2239.7,1087.1 L2241.7,1084.9 L2243.6,1082.6 L2245.6,1080.3 L2247.5,1078.0 L2249.3,1075.7 L2251.2,1073.3 L2253.0,1071.0 L2254.8,1068.6 L2256.6,1066.1 L2258.3,1063.7 L2260.1,1061.2 L2261.8,1058.7 L2263.4,1056.2 L2265.1,1053.7 L2266.7,1051.2 L2268.3,1048.6 L2269.9,1046.0 L2271.4,1043.4 L2273.0,1040.8 L2274.5,1038.2 L2276.0,1035.5 L2277.4,1032.9 L2278.9,1030.2 L2280.3,1027.5 L2281.7,1024.8 L2283.0,1022.1 L2284.4,1019.3 L2285.7,1016.6 L2287.0,1013.8 L2288.3,1011.1 L2289.6,1008.3 L2290.8,1005.5 L2292.0,1002.7 L2293.2,999.9 L2294.4,997.0 L2295.5,994.2 L2296.7,991.3 L2297.8,988.5 L2298.9,985.6 L2299.9,982.7 L2301.0,979.9 L2302.0,977.0 L2303.0,974.1 L2304.0,971.2 L2305.0,968.3 L2305.9,965.3 L2306.8,962.4 L2307.8,959.5 L2308.6,956.6 L2309.5,953.6 L2310.4,950.7 L2311.2,947.8 L2312.0,944.8 L2312.8,941.9 L2313.6,938.9 L2314.3,936.0 L2315.1,933.1 L2315.8,930.1 L2316.5,927.2 L2317.2,924.2 L2317.9,921.3 L2318.5,918.3 L2319.1,915.4 L2319.8,912.4 L2320.4,909.5 L2320.9,906.6 L2321.5,903.6 L2322.1,900.7 L2322.6,897.8" fill="none" stroke="#9a32cd" stroke-width="1.33" stroke-dasharray="8,8"/>
<polygon points="1986.8,1190.5 1999.5,1184.5 2000.5,1193.8" fill="#9a32cd" stroke="#9a32cd" stroke-width="1.33"/>
<path d="M244.3,1250.5 L246.5,1248.4 L248.7,1246.3 L251.0,1244.2 L253.2,1242.1 L255.4,1240.1 L257.7,1238.0 L259.9,1236.0 L262.2,1233.9 L264.5,1231.9 L266.8,1229.9 L269.1,1227.9 L271.4,1226.0 L273.7,1224.0 L276.0,1222.1 L278.3,1220.1 L280.7,1218.2 L283.0,1216.3 L285.4,1214.4 L287.8,1212.5 L290.1,1210.6 L292.5,1208.8 L294.9,1206.9 L297.3,1205.1 L299.7,1203.3 L302.1,1201.5 L304.5,1199.6 L306.9,1197.9 L309.4,1196.1 L311.8,1194.3 L314.3,1192.6 L316.7,1190.8 L319.2,1189.1 L321.7,1187.4 L324.1,1185.7 L326.6,1184.0 L329.1,1182.3 L331.6,1180.6 L334.1,1178.9 L336.6,1177.3 L339.1,1175.6 L341.7,1174.0 L344.2,1172.4 L346.7,1170.7 L349.3,1169.1 L351.8,1167.5 L354.4,1166.0 L357.0,1164.4 L359.5,1162.8 L362.1,1161.3 L364.7,1159.7 L367.3,1158.2 L369.9,1156.6 L372.5,1155.1 L375.1,1153.6 L377.7,1152.1 L380.3,1150.6 L382.9,1149.1 L385.5,1147.7 L388.2,1146.2 L390.8,1144.7 L393.5,1143.3 L396.1,1141.9 L398.8,1140.4 L401.4,1139.0 L404.1,1137.6 L406.7,1136.2 L409.4,1134.8 L412.1,1133.4 L414.8,1132.0 L417.5,1130.6 L420.1,1129.3 L422.8,1127.9 L425.5,1126.5 L428.2,1125.2 L431.0,1123.9 L433.7,1122.5 L436.4,1121.2 L439.1,1119.9 L441.8,1118.6 L444.6,1117.3 L447.3,1116.0 L450.0,1114.7 L452.8,1113.4 L455.5,1112.1 L458.2,1110.8 L461.0,1109.6 L463.7,1108.3 L466.5,1107.0 L469.3,1105.8 L472.0,1104.6 L474.8,1103.3 L477.6,1102.1 L480.3,1100.9 L483.1,1099.6 L485.9,1098.4 L488.7,1097.2 L491.4,1096.0 L494.2,1094.8 L497.0,1093.6 L499.8,1092.4 L502.6,1091.2 L505.4,1090.0 L508.2,1088.9 L511.0,1087.7 L513.8,1086.5 L516.6,1085.4 L519.4,1084.2 L522.2,1083.0 L525.0,1081.9 L527.8,1080.7 L530.6,1079.6 L533.4,1078.5 L536.3,1077.3 L539.1,1076.2 L541.9,1075.1 L544.7,1073.9 L547.5,1072.8 L550.4,1071.7 L553.2,1070.6 L556.0,1069.5 L558.8,1068.4 L561.7,1067.3 L564.5,1066.2 L567.3,1065.1 L570.1,1064.0 L573.0,1062.9 L575.8,1061.8 L578.7,1060.7 L581.5,1059.6 L584.3,1058.5 L587.2,1057.4 L590.0,1056.4 L592.8,1055.3 L595.7,1054.2 L598.5,1053.1 L601.4,1052.1 L604.2,1051.0 L607.1,1049.9 L609.9,1048.9 L612.8,1047.8 L615.6,1046.7 L618.4,1045.7 L621.3,1044.6 L624.1,1043.6 L627.0,1042.5 L629.8,1041.5 L632.7,1040.4 L635.5,1039.4 L638.4,1038.3 L641.2,1037.3 L644.1,1036.2 L646.9,1035.2 L649.8,1034.1 L652.6,1033.1 L655.5,1032.0 L658.3,1031.0 L661.2,1030.0 L664.0,1028.9 L666.9,1027.9 L669.7,1026.8 L672.6,1025.8 L675.4,1024.8 L678.3,1023.7 L681.1,1022.7 L684.0,1021.7 L686.8,1020.6 L689.7,1019.6 L692.5,1018.5 L695.4,1017.5 L698.2,1016.5 L701.1,1015.4 L703.9,1014.4 L706.8,1013.3 L709.6,1012.3 L712.5,1011.3 L715.3,1010.2 L718.2,1009.2 L721.0,1008.1 L723.8,1007.1 L726.7,1006.0 L729.5,1005.0 L732.4,1003.9 L735.2,1002.9 L738.0,1001.8 L740.9,1000.8 L743.7,999.7 L746.5,998.7 L749.4,997.6 L752.2,996.6 L755.0,995.5 L757.9,994.5 L760.7,993.4 L763.5,992.3 L766.3,991.3 L769.2,990.2 L772.0,989.1 L774.8,988.1 L777.6,987.0 L780.4,985.9 L783.2,984.8 L786.1,983.7 L788.9,982.7 L791.7,981.6 L794.5,980.5 L797.3,979.4 L800.1,978.3 L802.9,977.2" fill="none" stroke="#ffa500" stroke-width="1.33" stroke-dasharray="8,8"/>
<polygon points="234.5,1259.5 241.2,1247.1 247.5,1254.0" fill="#ffa500" stroke="#ffa500" stroke-width="1.33"/>
<path d="M289.1,1258.0 C326.7,1250.6 364.4,1243.5 402.0,1236.0 C440.0,1228.4 478.0,1220.5 516.0,1212.7" fill="none" stroke="#ffa500" stroke-width="1.33" stroke-dasharray="8,8"/>
<polygon points="276.0,1260.5 288.2,1253.3 290.0,1262.6" fill="#ffa500" stroke="#ffa500" stroke-width="1.33"/>
<path d="M289.3,1274.0 L292.3,1274.1 L295.3,1274.1 L298.3,1274.2 L301.3,1274.3 L304.3,1274.4 L307.3,1274.5 L310.3,1274.6 L313.3,1274.7 L316.3,1274.8 L319.4,1274.9 L322.4,1275.0 L325.4,1275.1 L328.4,1275.1 L331.4,1275.2 L334.4,1275.3 L337.4,1275.4 L340.4,1275.5 L343.4,1275.6 L346.4,1275.7 L349.4,1275.8 L352.4,1275.9 L355.4,1275.9 L358.4,1276.0 L361.4,1276.1 L364.4,1276.2 L367.4,1276.3 L370.4,1276.4 L373.5,1276.5 L376.5,1276.6 L379.5,1276.7 L382.5,1276.7 L385.5,1276.8 L388.5,1276.9 L391.5,1277.0 L394.5,1277.1 L397.5,1277.2 L400.5,1277.3 L403.5,1277.4 L406.5,1277.4 L409.5,1277.5 L412.5,1277.6 L415.5,1277.7 L418.5,1277.8 L421.5,1277.9 L424.6,1278.0 L427.6,1278.1 L430.6,1278.1 L433.6,1278.2 L436.6,1278.3 L439.6,1278.4 L442.6,1278.5 L445.6,1278.6 L448.6,1278.7 L451.6,1278.7 L454.6,1278.8 L457.6,1278.9 L460.6,1279.0 L463.6,1279.1 L466.6,1279.2 L469.6,1279.3 L472.6,1279.3 L475.6,1279.4 L478.7,1279.5 L481.7,1279.6 L484.7,1279.7 L487.7,1279.8 L490.7,1279.8 L493.7,1279.9 L496.7,1280.0 L499.7,1280.1 L502.7,1280.2 L505.7,1280.3 L508.7,1280.4 L511.7,1280.4 L514.7,1280.5 L517.7,1280.6 L520.7,1280.7 L523.7,1280.8 L526.7,1280.9 L529.8,1280.9 L532.8,1281.0 L535.8,1281.1 L538.8,1281.2 L541.8,1281.3 L544.8,1281.4 L547.8,1281.4 L550.8,1281.5 L553.8,1281.6 L556.8,1281.7 L559.8,1281.8 L562.8,1281.9 L565.8,1281.9 L568.8,1282.0 L571.8,1282.1 L574.8,1282.2 L577.8,1282.3 L580.9,1282.4 L583.9,1282.4 L586.9,1282.5 L589.9,1282.6 L592.9,1282.7 L595.9,1282.8 L598.9,1282.8 L601.9,1282.9 L604.9,1283.0 L607.9,1283.1 L610.9,1283.2 L613.9,1283.3 L616.9,1283.3 L619.9,1283.4 L622.9,1283.5 L625.9,1283.6 L628.9,1283.7 L632.0,1283.7 L635.0,1283.8 L638.0,1283.9 L641.0,1284.0 L644.0,1284.1 L647.0,1284.2 L650.0,1284.2 L653.0,1284.3 L656.0,1284.4 L659.0,1284.5 L662.0,1284.6 L665.0,1284.6 L668.0,1284.7 L671.0,1284.8 L674.0,1284.9 L677.0,1285.0 L680.0,1285.0 L683.1,1285.1 L686.1,1285.2 L689.1,1285.3 L692.1,1285.4 L695.1,1285.4 L698.1,1285.5 L701.1,1285.6 L704.1,1285.7 L707.1,1285.8 L710.1,1285.9 L713.1,1285.9 L716.1,1286.0 L719.1,1286.1 L722.1,1286.2 L725.1,1286.3 L728.1,1286.3 L731.1,1286.4 L734.2,1286.5 L737.2,1286.6 L740.2,1286.7 L743.2,1286.7 L746.2,1286.8 L749.2,1286.9 L752.2,1287.0 L755.2,1287.1 L758.2,1287.1 L761.2,1287.2 L764.2,1287.3 L767.2,1287.4 L770.2,1287.5 L773.2,1287.5 L776.2,1287.6 L779.2,1287.7 L782.2,1287.8 L785.3,1287.9 L788.3,1287.9 L791.3,1288.0 L794.3,1288.1 L797.3,1288.2 L800.3,1288.3 L803.3,1288.3 L806.3,1288.4 L809.3,1288.5 L812.3,1288.6 L815.3,1288.6 L818.3,1288.7 L821.3,1288.8 L824.3,1288.9 L827.3,1289.0 L830.3,1289.0 L833.4,1289.1 L836.4,1289.2 L839.4,1289.3 L842.4,1289.4 L845.4,1289.4 L848.4,1289.5 L851.4,1289.6 L854.4,1289.7 L857.4,1289.8 L860.4,1289.8 L863.4,1289.9 L866.4,1290.0 L869.4,1290.1 L872.4,1290.2 L875.4,1290.2 L878.4,1290.3 L881.4,1290.4 L884.5,1290.5 L887.5,1290.6 L890.5,1290.6 L893.5,1290.7 L896.5,1290.8 L899.5,1290.9 L902.5,1291.0 L905.5,1291.0 L908.5,1291.1 L911.5,1291.2 L914.5,1291.3 L917.5,1291.4 L920.5,1291.4 L923.5,1291.5 L926.5,1291.6 L929.5,1291.7 L932.5,1291.8 L935.6,1291.8 L938.6,1291.9 L941.6,1292.0 L944.6,1292.1 L947.6,1292.2 L950.6,1292.2 L953.6,1292.3 L956.6,1292.4 L959.6,1292.5 L962.6,1292.6 L965.6,1292.6 L968.6,1292.7 L971.6,1292.8 L974.6,1292.9 L977.6,1293.0 L980.6,1293.0 L983.6,1293.1 L986.7,1293.2 L989.7,1293.3 L992.7,1293.4 L995.7,1293.4 L998.7,1293.5 L1001.7,1293.6 L1004.7,1293.7 L1007.7,1293.8 L1010.7,1293.8 L1013.7,1293.9 L1016.7,1294.0 L1019.7,1294.1 L1022.7,1294.2 L1025.7,1294.2 L1028.7,1294.3 L1031.7,1294.4 L1034.7,1294.5 L1037.8,1294.6 L1040.8,1294.6 L1043.8,1294.7 L1046.8,1294.8 L1049.8,1294.9 L1052.8,1295.0 L1055.8,1295.0 L1058.8,1295.1 L1061.8,1295.2 L1064.8,1295.3 L1067.8,1295.4 L1070.8,1295.4 L1073.8,1295.5 L1076.8,1295.6 L1079.8,1295.7 L1082.8,1295.8 L1085.8,1295.9 L1088.9,1295.9 L1091.9,1296.0 L1094.9,1296.1 L1097.9,1296.2 L1100.9,1296.3 L1103.9,1296.3 L1106.9,1296.4 L1109.9,1296.5 L1112.9,1296.6 L1115.9,1296.7 L1118.9,1296.8 L1121.9,1296.8 L1124.9,1296.9 L1127.9,1297.0 L1130.9,1297.1 L1133.9,1297.2 L1136.9,1297.2 L1140.0,1297.3 L1143.0,1297.4 L1146.0,1297.5 L1149.0,1297.6 L1152.0,1297.7 L1155.0,1297.7 L1158.0,1297.8 L1161.0,1297.9 L1164.0,1298.0 L1167.0,1298.1 L1170.0,1298.2 L1173.0,1298.2 L1176.0,1298.3 L1179.0,1298.4 L1182.0,1298.5 L1185.0,1298.6 L1188.0,1298.6 L1191.1,1298.7 L1194.1,1298.8 L1197.1,1298.9 L1200.1,1299.0 L1203.1,1299.1 L1206.1,1299.2 L1209.1,1299.2 L1212.1,1299.3 L1215.1,1299.4 L1218.1,1299.5 L1221.1,1299.6 L1224.1,1299.7 L1227.1,1299.7 L1230.1,1299.8 L1233.1,1299.9 L1236.1,1300.0 L1239.1,1300.1 L1242.1,1300.2 L1245.2,1300.2 L1248.2,1300.3 L1251.2,1300.4 L1254.2,1300.5 L1257.2,1300.6 L1260.2,1300.7 L1263.2,1300.8 L1266.2,1300.8 L1269.2,1300.9 L1272.2,1301.0 L1275.2,1301.1 L1278.2,1301.2 L1281.2,1301.3 L1284.2,1301.4 L1287.2,1301.4 L1290.2,1301.5 L1293.2,1301.6 L1296.3,1301.7 L1299.3,1301.8 L1302.3,1301.9 L1305.3,1302.0 L1308.3,1302.0 L1311.3,1302.1 L1314.3,1302.2 L1317.3,1302.3 L1320.3,1302.4 L1323.3,1302.5 L1326.3,1302.6 L1329.3,1302.7 L1332.3,1302.7 L1335.3,1302.8 L1338.3,1302.9 L1341.3,1303.0 L1344.3,1303.1 L1347.3,1303.2 L1350.4,1303.3 L1353.4,1303.4 L1356.4,1303.4 L1359.4,1303.5 L1362.4,1303.6 L1365.4,1303.7 L1368.4,1303.8 L1371.4,1303.9 L1374.4,1304.0 L1377.4,1304.1 L1380.4,1304.2 L1383.4,1304.2 L1386.4,1304.3 L1389.4,1304.4 L1392.4,1304.5 L1395.4,1304.6 L1398.4,1304.7 L1401.4,1304.8 L1404.5,1304.9 L1407.5,1305.0 L1410.5,1305.1 L1413.5,1305.1 L1416.5,1305.2 L1419.5,1305.3 L1422.5,1305.4 L1425.5,1305.5 L1428.5,1305.6 L1431.5,1305.7 L1434.5,1305.8 L1437.5,1305.9 L1440.5,1306.0 L1443.5,1306.1 L1446.5,1306.1 L1449.5,1306.2 L1452.5,1306.3 L1455.5,1306.4 L1458.6,1306.5 L1461.6,1306.6 L1464.6,1306.7 L1467.6,1306.8 L1470.6,1306.9 L1473.6,1307.0 L1476.6,1307.1 L1479.6,1307.2 L1482.6,1307.3 L1485.6,1307.3 L1488.6,1307.4 L1491.6,1307.5 L1494.6,1307.6 L1497.6,1307.7 L1500.6,1307.8 L1503.6,1307.9 L1506.6,1308.0 L1509.6,1308.1 L1512.6,1308.2 L1515.7,1308.3 L1518.7,1308.4 L1521.7,1308.5 L1524.7,1308.6 L1527.7,1308.7 L1530.7,1308.8 L1533.7,1308.9 L1536.7,1309.0 L1539.7,1309.1 L1542.7,1309.1 L1545.7,1309.2 L1548.7,1309.3 L1551.7,1309.4 L1554.7,1309.5 L1557.7,1309.6 L1560.7,1309.7 L1563.7,1309.8 L1566.7,1309.9 L1569.7,1310.0 L1572.8,1310.1 L1575.8,1310.2 L1578.8,1310.3 L1581.8,1310.4 L1584.8,1310.5 L1587.8,1310.6 L1590.8,1310.7 L1593.8,1310.8 L1596.8,1310.9 L1599.8,1311.0" fill="none" stroke="#ffa500" stroke-width="1.33" stroke-dasharray="8,8"/>
<polygon points="276.0,1273.6 289.4,1269.3 289.2,1278.7" fill="#ffa500" stroke="#ffa500" stroke-width="1.33"/>
<path d="M731.7,1172.1 L988.5,1128.6" fill="none" stroke="#9a32cd" stroke-width="1.33" stroke-dasharray="8,8"/>
<polygon points="718.6,1174.3 730.9,1167.4 732.5,1176.7" fill="#9a32cd" stroke="#9a32cd" stroke-width="1.33"/>
<path d="M1084.9,1096.3 L1087.3,1094.3 L1089.6,1092.4 L1091.9,1090.5 L1094.3,1088.6 L1096.6,1086.7 L1099.0,1084.9 L1101.4,1083.0 L1103.8,1081.2 L1106.2,1079.4 L1108.6,1077.6 L1111.0,1075.8 L1113.4,1074.0 L1115.9,1072.3 L1118.3,1070.5 L1120.8,1068.8 L1123.2,1067.1 L1125.7,1065.4 L1128.2,1063.7 L1130.7,1062.0 L1133.2,1060.3 L1135.7,1058.7 L1138.2,1057.0 L1140.8,1055.4 L1143.3,1053.8 L1145.9,1052.2 L1148.4,1050.6 L1151.0,1049.0 L1153.5,1047.4 L1156.1,1045.9 L1158.7,1044.3 L1161.3,1042.8 L1163.9,1041.2 L1166.5,1039.7 L1169.1,1038.2 L1171.7,1036.7 L1174.3,1035.2 L1176.9,1033.7 L1179.6,1032.2 L1182.2,1030.8 L1184.9,1029.3 L1187.5,1027.8 L1190.2,1026.4 L1192.8,1025.0 L1195.5,1023.5 L1198.1,1022.1 L1200.8,1020.7 L1203.5,1019.3 L1206.2,1017.9 L1208.8,1016.5 L1211.5,1015.2 L1214.2,1013.8 L1216.9,1012.4 L1219.6,1011.1 L1222.3,1009.7 L1225.0,1008.4 L1227.7,1007.0 L1230.4,1005.7 L1233.2,1004.4 L1235.9,1003.0 L1238.6,1001.7 L1241.3,1000.4 L1244.0,999.1 L1246.8,997.8 L1249.5,996.5 L1252.2,995.2 L1254.9,993.9 L1257.7,992.7 L1260.4,991.4 L1263.1,990.1 L1265.9,988.9 L1268.6,987.6 L1271.4,986.4 L1274.1,985.1 L1276.9,983.9 L1279.6,982.7 L1282.4,981.5 L1285.1,980.2 L1287.9,979.0 L1290.6,977.8 L1293.4,976.6 L1296.2,975.5 L1298.9,974.3 L1301.7,973.1 L1304.5,971.9 L1307.3,970.8 L1310.0,969.6 L1312.8,968.5 L1315.6,967.3 L1318.4,966.2 L1321.2,965.1 L1324.0,964.0 L1326.8,962.9 L1329.6,961.8 L1332.4,960.7 L1335.2,959.6 L1338.0,958.5 L1340.8,957.5 L1343.6,956.4 L1346.5,955.4 L1349.3,954.3 L1352.1,953.3 L1354.9,952.3 L1357.8,951.3 L1360.6,950.3 L1363.4,949.3 L1366.3,948.3 L1369.1,947.3 L1372.0,946.4 L1374.8,945.4 L1377.7,944.5 L1380.5,943.5 L1383.4,942.6 L1386.2,941.7 L1389.1,940.8 L1392.0,939.9 L1394.9,939.0 L1397.7,938.1 L1400.6,937.2 L1403.5,936.4 L1406.4,935.5 L1409.3,934.7 L1412.2,933.8 L1415.1,933.0 L1418.0,932.2 L1420.9,931.4 L1423.8,930.6 L1426.7,929.8 L1429.6,929.1 L1432.5,928.3 L1435.5,927.5 L1438.4,926.8 L1441.3,926.1 L1444.2,925.3 L1447.2,924.6 L1450.1,923.9 L1453.0,923.2 L1456.0,922.5 L1458.9,921.8 L1461.9,921.2 L1464.8,920.5 L1467.8,919.8 L1470.7,919.2 L1473.7,918.5 L1476.6,917.9 L1479.6,917.3 L1482.5,916.7 L1485.5,916.0 L1488.4,915.4 L1491.4,914.8 L1494.4,914.3 L1497.3,913.7 L1500.3,913.1 L1503.3,912.5 L1506.2,912.0 L1509.2,911.4 L1512.2,910.9 L1515.2,910.3 L1518.1,909.8 L1521.1,909.3 L1524.1,908.8 L1527.1,908.2 L1530.1,907.7 L1533.0,907.2 L1536.0,906.7 L1539.0,906.2 L1542.0,905.8 L1545.0,905.3 L1548.0,904.8 L1550.9,904.4 L1553.9,903.9 L1556.9,903.4 L1559.9,903.0 L1562.9,902.5 L1565.9,902.1 L1568.9,901.7 L1571.8,901.3 L1574.8,900.8 L1577.8,900.4 L1580.8,900.0 L1583.8,899.6 L1586.8,899.2 L1589.8,898.8 L1592.8,898.4 L1595.7,898.0 L1598.7,897.6 L1601.7,897.3 L1604.7,896.9 L1607.7,896.5 L1610.7,896.2 L1613.6,895.8 L1616.6,895.5 L1619.6,895.2 L1622.6,894.9 L1625.6,894.6 L1628.6,894.3 L1631.6,894.0 L1634.5,893.7 L1637.5,893.5 L1640.5,893.2 L1643.5,893.0 L1646.5,892.8 L1649.5,892.6 L1652.5,892.4 L1655.5,892.2 L1658.5,892.1 L1661.4,891.9 L1664.4,891.8 L1667.4,891.7 L1670.4,891.6 L1673.4,891.5 L1676.4,891.5 L1679.4,891.4 L1682.4,891.4 L1685.4,891.4 L1688.4,891.4 L1691.4,891.4 L1694.4,891.5 L1697.4,891.6 L1700.4,891.7 L1703.4,891.8 L1706.4,891.9 L1709.4,892.1 L1712.4,892.3 L1715.4,892.5 L1718.4,892.7 L1721.4,893.0 L1724.4,893.2 L1727.4,893.5 L1730.5,893.8 L1733.5,894.2 L1736.5,894.5 L1739.5,894.9 L1742.5,895.2 L1745.5,895.6 L1748.5,896.0 L1751.5,896.3 L1754.6,896.7 L1757.6,897.1 L1760.6,897.5 L1763.6,897.9 L1766.6,898.3 L1769.6,898.6 L1772.6,899.0 L1775.6,899.4 L1778.6,899.7 L1781.6,900.1 L1784.6,900.4 L1787.6,900.7 L1790.6,901.1 L1793.6,901.3 L1796.6,901.6 L1799.6,901.9 L1802.6,902.1 L1805.6,902.3" fill="none" stroke="#191970" stroke-width="1.33"/>
<polygon points="1074.2,1104.1 1082.2,1092.5 1087.7,1100.0" fill="#191970" stroke="#191970" stroke-width="1.33"/>
<path d="M1104.2,1099.7 L1107.0,1098.7 L1109.8,1097.7 L1112.7,1096.6 L1115.5,1095.6 L1118.3,1094.6 L1121.2,1093.6 L1124.0,1092.6 L1126.8,1091.6 L1129.7,1090.6 L1132.5,1089.6 L1135.4,1088.6 L1138.2,1087.6 L1141.1,1086.6 L1143.9,1085.6 L1146.8,1084.6 L1149.6,1083.6 L1152.5,1082.7 L1155.3,1081.7 L1158.2,1080.7 L1161.1,1079.8 L1163.9,1078.8 L1166.8,1077.8 L1169.7,1076.9 L1172.5,1075.9 L1175.4,1075.0 L1178.3,1074.1 L1181.1,1073.1 L1184.0,1072.2 L1186.9,1071.3 L1189.7,1070.3 L1192.6,1069.4 L1195.5,1068.5 L1198.4,1067.6 L1201.3,1066.7 L1204.1,1065.8 L1207.0,1064.9 L1209.9,1064.0 L1212.8,1063.1 L1215.7,1062.2 L1218.6,1061.3 L1221.5,1060.4 L1224.4,1059.5 L1227.3,1058.7 L1230.2,1057.8 L1233.0,1056.9 L1235.9,1056.1 L1238.8,1055.2 L1241.7,1054.4 L1244.6,1053.5 L1247.5,1052.7 L1250.5,1051.8 L1253.4,1051.0 L1256.3,1050.1 L1259.2,1049.3 L1262.1,1048.5 L1265.0,1047.7 L1267.9,1046.9 L1270.8,1046.0 L1273.7,1045.2 L1276.7,1044.4 L1279.6,1043.6 L1282.5,1042.8 L1285.4,1042.0 L1288.3,1041.3 L1291.2,1040.5 L1294.2,1039.7 L1297.1,1038.9 L1300.0,1038.1 L1302.9,1037.4 L1305.9,1036.6 L1308.8,1035.9 L1311.7,1035.1 L1314.7,1034.4 L1317.6,1033.6 L1320.5,1032.9 L1323.5,1032.1 L1326.4,1031.4 L1329.3,1030.7 L1332.3,1030.0 L1335.2,1029.2 L1338.2,1028.5 L1341.1,1027.8 L1344.0,1027.1 L1347.0,1026.4 L1349.9,1025.7 L1352.9,1025.0 L1355.8,1024.3 L1358.8,1023.7 L1361.7,1023.0 L1364.7,1022.3 L1367.6,1021.6 L1370.6,1021.0 L1373.5,1020.3 L1376.5,1019.7 L1379.4,1019.0 L1382.4,1018.4 L1385.4,1017.7 L1388.3,1017.1 L1391.3,1016.5 L1394.2,1015.8 L1397.2,1015.2 L1400.2,1014.6 L1403.1,1014.0 L1406.1,1013.4 L1409.0,1012.8 L1412.0,1012.2 L1415.0,1011.6 L1417.9,1011.0 L1420.9,1010.4 L1423.9,1009.8 L1426.9,1009.3 L1429.8,1008.7 L1432.8,1008.1 L1435.8,1007.6 L1438.7,1007.0 L1441.7,1006.5 L1444.7,1005.9 L1447.7,1005.4 L1450.6,1004.8 L1453.6,1004.3 L1456.6,1003.8 L1459.6,1003.2 L1462.6,1002.7 L1465.5,1002.2 L1468.5,1001.7 L1471.5,1001.2 L1474.5,1000.7 L1477.5,1000.2 L1480.5,999.7 L1483.4,999.3 L1486.4,998.8 L1489.4,998.3 L1492.4,997.9 L1495.4,997.4 L1498.4,997.0 L1501.4,996.5 L1504.4,996.1 L1507.4,995.6 L1510.3,995.2 L1513.3,994.8 L1516.3,994.4 L1519.3,994.0 L1522.3,993.6 L1525.3,993.2 L1528.3,992.8 L1531.3,992.4 L1534.3,992.0 L1537.3,991.6 L1540.3,991.3 L1543.3,990.9 L1546.3,990.5 L1549.3,990.2 L1552.3,989.8 L1555.3,989.5 L1558.3,989.2 L1561.3,988.9 L1564.3,988.5 L1567.3,988.2 L1570.3,987.9 L1573.3,987.6 L1576.3,987.3 L1579.3,987.1 L1582.3,986.8 L1585.3,986.5 L1588.3,986.3 L1591.3,986.0 L1594.4,985.7 L1597.4,985.5 L1600.4,985.3 L1603.4,985.0 L1606.4,984.8 L1609.4,984.6 L1612.4,984.4 L1615.4,984.2 L1618.4,984.0 L1621.4,983.8 L1624.4,983.7 L1627.5,983.5 L1630.5,983.3 L1633.5,983.2 L1636.5,983.1 L1639.5,982.9 L1642.5,982.8 L1645.5,982.7 L1648.5,982.6 L1651.6,982.4 L1654.6,982.4 L1657.6,982.3 L1660.6,982.2 L1663.6,982.1 L1666.6,982.0 L1669.7,982.0 L1672.7,981.9 L1675.7,981.9 L1678.7,981.9 L1681.7,981.8 L1684.7,981.8 L1687.8,981.8 L1690.8,981.8 L1693.8,981.8 L1696.8,981.9 L1699.8,981.9 L1702.8,981.9 L1705.9,982.0 L1708.9,982.0 L1711.9,982.1 L1714.9,982.2 L1717.9,982.2 L1721.0,982.3 L1724.0,982.4 L1727.0,982.5 L1730.0,982.7 L1733.0,982.8 L1736.0,982.9 L1739.1,983.1 L1742.1,983.2 L1745.1,983.4 L1748.1,983.6 L1751.1,983.7 L1754.2,983.9 L1757.2,984.1 L1760.2,984.3 L1763.2,984.6 L1766.2,984.8 L1769.3,985.0 L1772.3,985.3 L1775.3,985.6 L1778.3,985.8 L1781.3,986.1 L1784.4,986.4 L1787.4,986.7 L1790.4,987.0" fill="none" stroke="#191970" stroke-width="1.33"/>
<polygon points="1091.6,1104.1 1102.6,1095.3 1105.7,1104.2" fill="#191970" stroke="#191970" stroke-width="1.33"/>
<path d="M1142.9,1102.7 L1145.9,1102.4 L1148.9,1102.0 L1151.9,1101.7 L1154.9,1101.3 L1157.9,1101.0 L1160.9,1100.7 L1163.9,1100.3 L1166.9,1100.0 L1169.9,1099.7 L1172.9,1099.3 L1175.9,1099.0 L1178.9,1098.7 L1181.9,1098.4 L1184.9,1098.1 L1187.9,1097.8 L1191.0,1097.5 L1194.0,1097.2 L1197.0,1096.9 L1200.0,1096.6 L1203.0,1096.3 L1206.0,1096.0 L1209.0,1095.7 L1212.0,1095.4 L1215.0,1095.1 L1218.0,1094.8 L1221.0,1094.5 L1224.0,1094.2 L1227.0,1094.0 L1230.0,1093.7 L1233.0,1093.4 L1236.0,1093.2 L1239.0,1092.9 L1242.0,1092.6 L1245.1,1092.4 L1248.1,1092.1 L1251.1,1091.8 L1254.1,1091.6 L1257.1,1091.3 L1260.1,1091.1 L1263.1,1090.8 L1266.1,1090.6 L1269.1,1090.3 L1272.1,1090.1 L1275.1,1089.9 L1278.2,1089.6 L1281.2,1089.4 L1284.2,1089.1 L1287.2,1088.9 L1290.2,1088.7 L1293.2,1088.5 L1296.2,1088.2 L1299.2,1088.0 L1302.2,1087.8 L1305.3,1087.6 L1308.3,1087.4 L1311.3,1087.1 L1314.3,1086.9 L1317.3,1086.7 L1320.3,1086.5 L1323.3,1086.3 L1326.3,1086.1 L1329.3,1085.9 L1332.4,1085.7 L1335.4,1085.5 L1338.4,1085.3 L1341.4,1085.1 L1344.4,1084.9 L1347.4,1084.7 L1350.4,1084.6 L1353.5,1084.4 L1356.5,1084.2 L1359.5,1084.0 L1362.5,1083.8 L1365.5,1083.7 L1368.5,1083.5 L1371.5,1083.3 L1374.6,1083.1 L1377.6,1083.0 L1380.6,1082.8 L1383.6,1082.6 L1386.6,1082.5 L1389.6,1082.3 L1392.7,1082.1 L1395.7,1082.0 L1398.7,1081.8 L1401.7,1081.7 L1404.7,1081.5 L1407.7,1081.4 L1410.8,1081.2 L1413.8,1081.1 L1416.8,1080.9 L1419.8,1080.8 L1422.8,1080.6 L1425.8,1080.5 L1428.9,1080.4 L1431.9,1080.2 L1434.9,1080.1 L1437.9,1079.9 L1440.9,1079.8 L1443.9,1079.7 L1447.0,1079.5 L1450.0,1079.4 L1453.0,1079.3 L1456.0,1079.2 L1459.0,1079.0 L1462.1,1078.9 L1465.1,1078.8 L1468.1,1078.7 L1471.1,1078.6 L1474.1,1078.5 L1477.1,1078.3 L1480.2,1078.2 L1483.2,1078.1 L1486.2,1078.0 L1489.2,1077.9 L1492.2,1077.8 L1495.3,1077.7 L1498.3,1077.6 L1501.3,1077.5 L1504.3,1077.4 L1507.3,1077.3 L1510.4,1077.2 L1513.4,1077.1 L1516.4,1077.0 L1519.4,1076.9 L1522.4,1076.8 L1525.5,1076.7 L1528.5,1076.6 L1531.5,1076.5 L1534.5,1076.4 L1537.5,1076.4 L1540.6,1076.3 L1543.6,1076.2 L1546.6,1076.1 L1549.6,1076.0 L1552.6,1075.9 L1555.7,1075.9 L1558.7,1075.8 L1561.7,1075.7 L1564.7,1075.6 L1567.7,1075.6 L1570.8,1075.5 L1573.8,1075.4 L1576.8,1075.3 L1579.8,1075.3 L1582.8,1075.2 L1585.9,1075.1 L1588.9,1075.1 L1591.9,1075.0 L1594.9,1074.9 L1597.9,1074.9 L1601.0,1074.8 L1604.0,1074.8 L1607.0,1074.7 L1610.0,1074.6 L1613.0,1074.6 L1616.1,1074.5 L1619.1,1074.5 L1622.1,1074.4 L1625.1,1074.3 L1628.1,1074.3 L1631.2,1074.2 L1634.2,1074.2 L1637.2,1074.1 L1640.2,1074.1 L1643.3,1074.0 L1646.3,1074.0 L1649.3,1073.9 L1652.3,1073.9 L1655.3,1073.9 L1658.4,1073.8 L1661.4,1073.8 L1664.4,1073.7 L1667.4,1073.7 L1670.4,1073.6 L1673.5,1073.6 L1676.5,1073.6 L1679.5,1073.5 L1682.5,1073.5 L1685.5,1073.4 L1688.6,1073.4 L1691.6,1073.4 L1694.6,1073.3 L1697.6,1073.3 L1700.6,1073.3 L1703.7,1073.2 L1706.7,1073.2 L1709.7,1073.2 L1712.7,1073.1 L1715.7,1073.1 L1718.8,1073.1 L1721.8,1073.0 L1724.8,1073.0 L1727.8,1073.0 L1730.8,1073.0 L1733.8,1072.9 L1736.9,1072.9 L1739.9,1072.9 L1742.9,1072.9 L1745.9,1072.8 L1748.9,1072.8 L1752.0,1072.8 L1755.0,1072.8 L1758.0,1072.7 L1761.0,1072.7 L1764.0,1072.7 L1767.1,1072.7 L1770.1,1072.6 L1773.1,1072.6 L1776.1,1072.6 L1779.1,1072.6 L1782.1,1072.6 L1785.2,1072.5 L1788.2,1072.5 L1791.2,1072.5" fill="none" stroke="#191970" stroke-width="1.33"/>
<polygon points="1129.7,1104.1 1142.4,1098.0 1143.4,1107.4" fill="#191970" stroke="#191970" stroke-width="1.33"/>
<path d="M1142.8,1117.1 L1381.1,1117.1" fill="none" stroke="#191970" stroke-width="1.33"/>
<polygon points="1129.5,1117.1 1142.8,1112.4 1142.8,1121.8" fill="#191970" stroke="#191970" stroke-width="1.33"/>
<path d="M1136.4,1132.8 L1139.4,1133.4 L1142.3,1134.0 L1145.3,1134.6 L1148.2,1135.2 L1151.2,1135.8 L1154.1,1136.4 L1157.1,1137.1 L1160.1,1137.7 L1163.0,1138.3 L1166.0,1138.9 L1169.0,1139.4 L1171.9,1140.0 L1174.9,1140.6 L1177.8,1141.2 L1180.8,1141.8 L1183.8,1142.4 L1186.7,1143.0 L1189.7,1143.6 L1192.7,1144.1 L1195.6,1144.7 L1198.6,1145.3 L1201.6,1145.9 L1204.5,1146.4 L1207.5,1147.0 L1210.5,1147.6 L1213.4,1148.1 L1216.4,1148.7 L1219.4,1149.2 L1222.4,1149.8 L1225.3,1150.4 L1228.3,1150.9 L1231.3,1151.5 L1234.2,1152.0 L1237.2,1152.5 L1240.2,1153.1 L1243.2,1153.6 L1246.1,1154.2 L1249.1,1154.7 L1252.1,1155.2 L1255.1,1155.8 L1258.1,1156.3 L1261.0,1156.8 L1264.0,1157.4 L1267.0,1157.9 L1270.0,1158.4 L1273.0,1158.9 L1275.9,1159.4 L1278.9,1159.9 L1281.9,1160.5 L1284.9,1161.0 L1287.9,1161.5 L1290.8,1162.0 L1293.8,1162.5 L1296.8,1163.0 L1299.8,1163.5 L1302.8,1164.0 L1305.8,1164.5 L1308.8,1164.9 L1311.7,1165.4 L1314.7,1165.9 L1317.7,1166.4 L1320.7,1166.9 L1323.7,1167.4 L1326.7,1167.8 L1329.7,1168.3 L1332.7,1168.8 L1335.6,1169.2 L1338.6,1169.7 L1341.6,1170.2 L1344.6,1170.6 L1347.6,1171.1 L1350.6,1171.5 L1353.6,1172.0 L1356.6,1172.5 L1359.6,1172.9 L1362.6,1173.3 L1365.6,1173.8 L1368.6,1174.2 L1371.5,1174.7 L1374.5,1175.1 L1377.5,1175.5 L1380.5,1176.0 L1383.5,1176.4 L1386.5,1176.8 L1389.5,1177.2 L1392.5,1177.7 L1395.5,1178.1 L1398.5,1178.5 L1401.5,1178.9 L1404.5,1179.3 L1407.5,1179.7 L1410.5,1180.1 L1413.5,1180.5 L1416.5,1180.9 L1419.5,1181.3 L1422.5,1181.7 L1425.5,1182.1 L1428.5,1182.5 L1431.5,1182.9 L1434.5,1183.3 L1437.5,1183.6 L1440.5,1184.0 L1443.5,1184.4 L1446.5,1184.8 L1449.5,1185.1 L1452.5,1185.5 L1455.5,1185.9 L1458.5,1186.2 L1461.5,1186.6 L1464.5,1186.9 L1467.5,1187.3 L1470.5,1187.7 L1473.5,1188.0 L1476.6,1188.3 L1479.6,1188.7 L1482.6,1189.0 L1485.6,1189.4 L1488.6,1189.7 L1491.6,1190.0 L1494.6,1190.4 L1497.6,1190.7 L1500.6,1191.0 L1503.6,1191.3 L1506.6,1191.6 L1509.6,1191.9 L1512.6,1192.2 L1515.6,1192.5 L1518.7,1192.8 L1521.7,1193.1 L1524.7,1193.4 L1527.7,1193.7 L1530.7,1194.0 L1533.7,1194.3 L1536.7,1194.6 L1539.7,1194.8 L1542.7,1195.1 L1545.7,1195.4 L1548.8,1195.6 L1551.8,1195.9 L1554.8,1196.1 L1557.8,1196.4 L1560.8,1196.6 L1563.8,1196.9 L1566.8,1197.1 L1569.8,1197.3 L1572.9,1197.6 L1575.9,1197.8 L1578.9,1198.0 L1581.9,1198.2 L1584.9,1198.4 L1587.9,1198.6 L1590.9,1198.8 L1594.0,1199.0 L1597.0,1199.2 L1600.0,1199.4 L1603.0,1199.6 L1606.0,1199.7 L1609.0,1199.9 L1612.0,1200.1 L1615.1,1200.2 L1618.1,1200.4 L1621.1,1200.5 L1624.1,1200.7 L1627.1,1200.8 L1630.1,1200.9 L1633.2,1201.0 L1636.2,1201.2 L1639.2,1201.3 L1642.2,1201.4 L1645.2,1201.5 L1648.3,1201.6 L1651.3,1201.7 L1654.3,1201.7 L1657.3,1201.8 L1660.3,1201.9 L1663.3,1201.9 L1666.4,1202.0 L1669.4,1202.1 L1672.4,1202.1 L1675.4,1202.1 L1678.4,1202.2 L1681.5,1202.2 L1684.5,1202.2 L1687.5,1202.2 L1690.5,1202.2 L1693.6,1202.2 L1696.6,1202.2 L1699.6,1202.2 L1702.6,1202.2 L1705.6,1202.2 L1708.7,1202.1 L1711.7,1202.1 L1714.7,1202.0 L1717.7,1202.0 L1720.7,1201.9 L1723.8,1201.8 L1726.8,1201.8 L1729.8,1201.7 L1732.8,1201.6 L1735.9,1201.5 L1738.9,1201.4 L1741.9,1201.2 L1744.9,1201.1 L1748.0,1201.0 L1751.0,1200.8 L1754.0,1200.7 L1757.0,1200.5 L1760.1,1200.4 L1763.1,1200.2 L1766.1,1200.0 L1769.1,1199.8 L1772.1,1199.6 L1775.2,1199.4 L1778.2,1199.2 L1781.2,1199.0 L1784.2,1198.8 L1787.3,1198.5 L1790.3,1198.3" fill="none" stroke="#191970" stroke-width="1.33"/>
<polygon points="1123.3,1130.5 1137.2,1128.1 1135.6,1137.4" fill="#191970" stroke="#191970" stroke-width="1.33"/>
<path d="M1095.3,1136.8 L1098.0,1138.2 L1100.7,1139.5 L1103.3,1140.9 L1106.0,1142.3 L1108.7,1143.7 L1111.3,1145.1 L1114.0,1146.5 L1116.7,1147.9 L1119.3,1149.4 L1122.0,1150.8 L1124.6,1152.2 L1127.3,1153.6 L1130.0,1155.0 L1132.6,1156.5 L1135.3,1157.9 L1137.9,1159.3 L1140.6,1160.8 L1143.2,1162.2 L1145.9,1163.7 L1148.6,1165.1 L1151.2,1166.5 L1153.9,1168.0 L1156.5,1169.4 L1159.2,1170.9 L1161.8,1172.3 L1164.5,1173.7 L1167.1,1175.2 L1169.8,1176.6 L1172.5,1178.0 L1175.1,1179.5 L1177.8,1180.9 L1180.4,1182.3 L1183.1,1183.8 L1185.8,1185.2 L1188.4,1186.6 L1191.1,1188.0 L1193.8,1189.4 L1196.4,1190.9 L1199.1,1192.3 L1201.8,1193.7 L1204.5,1195.1 L1207.1,1196.4 L1209.8,1197.8 L1212.5,1199.2 L1215.2,1200.6 L1217.9,1202.0 L1220.6,1203.3 L1223.3,1204.7 L1226.0,1206.0 L1228.7,1207.4 L1231.4,1208.7 L1234.1,1210.0 L1236.8,1211.4 L1239.5,1212.7 L1242.2,1214.0 L1244.9,1215.3 L1247.6,1216.5 L1250.4,1217.8 L1253.1,1219.1 L1255.8,1220.3 L1258.6,1221.6 L1261.3,1222.8 L1264.1,1224.1 L1266.8,1225.3 L1269.6,1226.5 L1272.3,1227.7 L1275.1,1228.8 L1277.9,1230.0 L1280.6,1231.2 L1283.4,1232.3 L1286.2,1233.5 L1289.0,1234.6 L1291.8,1235.7 L1294.6,1236.8 L1297.4,1237.9 L1300.2,1239.0 L1303.0,1240.1 L1305.8,1241.2 L1308.6,1242.2 L1311.4,1243.3 L1314.2,1244.4 L1317.1,1245.4 L1319.9,1246.5 L1322.7,1247.5 L1325.5,1248.5 L1328.4,1249.6 L1331.2,1250.6 L1334.0,1251.6 L1336.9,1252.6 L1339.7,1253.6 L1342.6,1254.6 L1345.4,1255.6 L1348.2,1256.6 L1351.1,1257.6 L1353.9,1258.6 L1356.8,1259.6 L1359.6,1260.6 L1362.5,1261.6 L1365.3,1262.6 L1368.2,1263.6 L1371.0,1264.6 L1373.8,1265.6 L1376.7,1266.6 L1379.5,1267.6 L1382.4,1268.6 L1385.2,1269.6 L1388.1,1270.5 L1390.9,1271.5 L1393.8,1272.5 L1396.6,1273.5 L1399.5,1274.5 L1402.3,1275.5 L1405.2,1276.4 L1408.0,1277.4 L1410.9,1278.4 L1413.8,1279.4 L1416.6,1280.3 L1419.5,1281.3 L1422.3,1282.3 L1425.2,1283.2 L1428.1,1284.2 L1430.9,1285.1 L1433.8,1286.1 L1436.7,1287.0 L1439.5,1288.0 L1442.4,1288.9 L1445.3,1289.8 L1448.1,1290.7 L1451.0,1291.7 L1453.9,1292.6 L1456.8,1293.5 L1459.6,1294.4 L1462.5,1295.3 L1465.4,1296.2 L1468.3,1297.1 L1471.2,1298.0 L1474.1,1298.8 L1476.9,1299.7 L1479.8,1300.6 L1482.7,1301.4 L1485.6,1302.3 L1488.5,1303.1 L1491.4,1303.9 L1494.3,1304.8 L1497.2,1305.6 L1500.1,1306.4 L1503.0,1307.2 L1505.9,1308.0 L1508.8,1308.8 L1511.7,1309.6 L1514.7,1310.4 L1517.6,1311.1 L1520.5,1311.9 L1523.4,1312.6 L1526.3,1313.4 L1529.2,1314.1 L1532.2,1314.8 L1535.1,1315.6 L1538.0,1316.3 L1540.9,1317.0 L1543.9,1317.6 L1546.8,1318.3 L1549.7,1319.0 L1552.7,1319.7 L1555.6,1320.3 L1558.6,1320.9 L1561.5,1321.6 L1564.4,1322.2 L1567.4,1322.8 L1570.3,1323.4 L1573.3,1324.0 L1576.2,1324.5 L1579.2,1325.1 L1582.2,1325.7 L1585.1,1326.2 L1588.1,1326.7 L1591.0,1327.2 L1594.0,1327.8 L1597.0,1328.2 L1599.9,1328.7 L1602.9,1329.2 L1605.9,1329.7 L1608.9,1330.1 L1611.8,1330.5 L1614.8,1330.9 L1617.8,1331.3 L1620.8,1331.7 L1623.8,1332.1 L1626.7,1332.5 L1629.7,1332.8 L1632.7,1333.2 L1635.7,1333.5 L1638.7,1333.8 L1641.7,1334.1 L1644.7,1334.4 L1647.7,1334.7 L1650.7,1334.9 L1653.7,1335.2 L1656.7,1335.4 L1659.8,1335.6 L1662.8,1335.8 L1665.8,1336.0 L1668.8,1336.2 L1671.8,1336.4 L1674.8,1336.6 L1677.8,1336.7 L1680.9,1336.9 L1683.9,1337.0 L1686.9,1337.1 L1689.9,1337.2 L1692.9,1337.3 L1696.0,1337.4 L1699.0,1337.5 L1702.0,1337.6 L1705.0,1337.7 L1708.1,1337.7 L1711.1,1337.8 L1714.1,1337.8 L1717.1,1337.9 L1720.2,1337.9 L1723.2,1337.9 L1726.2,1337.9 L1729.2,1337.9 L1732.3,1337.9 L1735.3,1337.9 L1738.3,1337.9 L1741.3,1337.9 L1744.4,1337.9 L1747.4,1337.8 L1750.4,1337.8 L1753.4,1337.8 L1756.5,1337.7 L1759.5,1337.7 L1762.5,1337.6 L1765.5,1337.5 L1768.5,1337.5 L1771.5,1337.4 L1774.6,1337.3 L1777.6,1337.3 L1780.6,1337.2 L1783.6,1337.1 L1786.6,1337.0 L1789.6,1336.9 L1792.6,1336.9 L1795.6,1336.8 L1798.6,1336.7 L1801.6,1336.6 L1804.6,1336.5 L1807.6,1336.4 L1810.6,1336.3" fill="none" stroke="#191970" stroke-width="1.33"/>
<polygon points="1083.7,1130.3 1097.6,1132.7 1093.0,1140.9" fill="#191970" stroke="#191970" stroke-width="1.33"/>
<path d="M1493.8,1093.1 L1495.6,1090.7 L1497.4,1088.3 L1499.2,1085.8 L1501.0,1083.4 L1502.8,1081.0 L1504.6,1078.5 L1506.4,1076.1 L1508.3,1073.6 L1510.1,1071.2 L1511.9,1068.7 L1513.8,1066.3 L1515.6,1063.9 L1517.5,1061.4 L1519.4,1059.0 L1521.3,1056.6 L1523.2,1054.2 L1525.1,1051.8 L1527.0,1049.4 L1529.0,1047.0 L1530.9,1044.7 L1532.9,1042.4 L1534.9,1040.0 L1536.9,1037.7 L1539.0,1035.5 L1541.0,1033.2 L1543.1,1031.0 L1545.2,1028.8 L1547.4,1026.6 L1549.5,1024.5 L1551.7,1022.4 L1553.9,1020.3 L1556.1,1018.2 L1558.3,1016.2 L1560.6,1014.1 L1562.9,1012.2 L1565.2,1010.2 L1567.5,1008.3 L1569.9,1006.4 L1572.2,1004.5 L1574.6,1002.6 L1577.0,1000.8 L1579.4,999.0 L1581.9,997.2 L1584.3,995.5 L1586.8,993.8 L1589.3,992.1 L1591.8,990.4 L1594.4,988.8 L1596.9,987.2 L1599.5,985.6 L1602.1,984.0 L1604.7,982.5 L1607.3,981.0 L1609.9,979.5 L1612.6,978.1 L1615.2,976.6 L1617.9,975.2 L1620.6,973.9 L1623.3,972.5 L1626.0,971.2 L1628.8,969.9 L1631.5,968.7 L1634.3,967.4 L1637.0,966.2 L1639.8,965.0 L1642.6,963.9 L1645.4,962.7 L1648.3,961.6 L1651.1,960.6 L1653.9,959.5 L1656.8,958.5 L1659.7,957.5 L1662.5,956.5 L1665.4,955.5 L1668.3,954.6 L1671.2,953.6 L1674.1,952.7 L1677.0,951.9 L1680.0,951.0 L1682.9,950.1 L1685.8,949.3 L1688.8,948.5 L1691.7,947.7 L1694.7,946.9 L1697.7,946.2 L1700.6,945.4 L1703.6,944.7 L1706.6,944.0 L1709.6,943.3 L1712.5,942.6 L1715.5,941.9 L1718.5,941.3 L1721.5,940.6 L1724.5,940.0 L1727.5,939.3 L1730.5,938.7 L1733.5,938.1 L1736.5,937.5 L1739.5,936.9 L1742.5,936.3 L1745.5,935.8 L1748.5,935.2 L1751.5,934.6 L1754.5,934.1 L1757.5,933.5 L1760.5,933.0 L1763.5,932.4 L1766.5,931.9 L1769.5,931.4 L1772.5,930.8 L1775.4,930.3 L1778.4,929.8 L1781.4,929.3 L1784.4,928.7 L1787.3,928.2 L1790.3,927.7 L1793.2,927.2 L1796.2,926.6 L1799.1,926.1" fill="none" stroke="#ffa500" stroke-width="1.33" stroke-dasharray="8,8"/>
<polygon points="1487.0,1104.5 1489.8,1090.7 1497.9,1095.5" fill="#ffa500" stroke="#ffa500" stroke-width="1.33"/>
<path d="M1531.7,1100.5 L1534.6,1099.5 L1537.4,1098.5 L1540.3,1097.5 L1543.2,1096.5 L1546.1,1095.6 L1549.0,1094.6 L1551.9,1093.7 L1554.8,1092.7 L1557.7,1091.8 L1560.6,1090.9 L1563.5,1090.0 L1566.4,1089.1 L1569.3,1088.3 L1572.2,1087.4 L1575.1,1086.5 L1578.0,1085.7 L1580.9,1084.8 L1583.9,1084.0 L1586.8,1083.1 L1589.7,1082.3 L1592.6,1081.5 L1595.6,1080.7 L1598.5,1079.9 L1601.4,1079.1 L1604.4,1078.3 L1607.3,1077.5 L1610.2,1076.7 L1613.2,1075.9 L1616.1,1075.2 L1619.1,1074.4 L1622.0,1073.6 L1624.9,1072.9 L1627.9,1072.1 L1630.8,1071.3 L1633.8,1070.6 L1636.7,1069.8 L1639.7,1069.1 L1642.6,1068.3 L1645.6,1067.6 L1648.5,1066.8 L1651.5,1066.1 L1654.4,1065.3 L1657.4,1064.6 L1660.3,1063.9 L1663.3,1063.1 L1666.2,1062.4 L1669.2,1061.6 L1672.1,1060.9 L1675.0,1060.1 L1678.0,1059.4 L1680.9,1058.6 L1683.9,1057.9 L1686.8,1057.1 L1689.8,1056.3 L1692.7,1055.6 L1695.7,1054.8 L1698.6,1054.0 L1701.5,1053.3 L1704.5,1052.5 L1707.4,1051.7 L1710.4,1050.9 L1713.3,1050.1 L1716.2,1049.3 L1719.2,1048.5 L1722.1,1047.7 L1725.0,1046.9 L1727.9,1046.1 L1730.9,1045.2 L1733.8,1044.4 L1736.7,1043.5 L1739.6,1042.7 L1742.5,1041.8 L1745.4,1041.0 L1748.4,1040.1 L1751.3,1039.2 L1754.2,1038.3 L1757.1,1037.4 L1760.0,1036.5 L1762.9,1035.5 L1765.8,1034.6 L1768.7,1033.7 L1771.5,1032.7 L1774.4,1031.7 L1777.3,1030.7 L1780.2,1029.8 L1783.1,1028.7 L1785.9,1027.7 L1788.8,1026.7" fill="none" stroke="#ffa500" stroke-width="1.33" stroke-dasharray="8,8"/>
<polygon points="1519.0,1104.5 1530.3,1096.0 1533.1,1105.0" fill="#ffa500" stroke="#ffa500" stroke-width="1.33"/>
<path d="M1589.1,1124.3 L1592.2,1124.4 L1595.2,1124.6 L1598.3,1124.7 L1601.3,1124.8 L1604.4,1124.8 L1607.4,1124.9 L1610.5,1125.0 L1613.5,1125.0 L1616.6,1125.0 L1619.6,1125.0 L1622.7,1125.0 L1625.7,1124.9 L1628.8,1124.9 L1631.8,1124.8 L1634.9,1124.7 L1637.9,1124.7 L1640.9,1124.5 L1644.0,1124.4 L1647.0,1124.3 L1650.1,1124.1 L1653.1,1124.0 L1656.1,1123.8 L1659.2,1123.6 L1662.2,1123.4 L1665.3,1123.1 L1668.3,1122.9 L1671.3,1122.7 L1674.4,1122.4 L1677.4,1122.1 L1680.4,1121.9 L1683.5,1121.6 L1686.5,1121.3 L1689.5,1120.9 L1692.5,1120.6 L1695.6,1120.3 L1698.6,1119.9 L1701.6,1119.5 L1704.6,1119.2 L1707.7,1118.8 L1710.7,1118.4 L1713.7,1118.0 L1716.7,1117.6 L1719.7,1117.2 L1722.8,1116.7 L1725.8,1116.3 L1728.8,1115.8 L1731.8,1115.4 L1734.8,1114.9 L1737.8,1114.5 L1740.8,1114.0 L1743.9,1113.5 L1746.9,1113.0 L1749.9,1112.5 L1752.9,1112.0 L1755.9,1111.5 L1758.9,1110.9 L1761.9,1110.4 L1764.9,1109.9 L1767.9,1109.3 L1770.9,1108.8 L1773.9,1108.2 L1776.9,1107.7 L1779.9,1107.1 L1782.9,1106.5 L1785.9,1106.0 L1788.9,1105.4 L1791.9,1104.8 L1794.9,1104.2 L1797.9,1103.6 L1800.9,1103.0 L1803.9,1102.4 L1806.8,1101.8 L1809.8,1101.2 L1812.8,1100.6 L1815.8,1100.0 L1818.8,1099.4 L1821.8,1098.8 L1824.8,1098.2 L1827.7,1097.5 L1830.7,1096.9 L1833.7,1096.3" fill="none" stroke="#ffa500" stroke-width="1.33" stroke-dasharray="8,8"/>
<polygon points="1575.8,1124.1 1589.2,1119.6 1589.0,1129.0" fill="#ffa500" stroke="#ffa500" stroke-width="1.33"/>
<path d="M1511.5,1137.6 L1514.2,1139.2 L1517.0,1140.7 L1519.7,1142.1 L1522.4,1143.6 L1525.2,1145.0 L1527.9,1146.4 L1530.7,1147.8 L1533.4,1149.1 L1536.2,1150.4 L1539.0,1151.7 L1541.8,1153.0 L1544.6,1154.2 L1547.4,1155.5 L1550.2,1156.7 L1553.0,1157.8 L1555.9,1159.0 L1558.7,1160.1 L1561.5,1161.2 L1564.4,1162.3 L1567.3,1163.4 L1570.1,1164.4 L1573.0,1165.4 L1575.9,1166.4 L1578.8,1167.4 L1581.7,1168.3 L1584.6,1169.3 L1587.5,1170.2 L1590.4,1171.1 L1593.3,1171.9 L1596.3,1172.8 L1599.2,1173.6 L1602.1,1174.4 L1605.1,1175.2 L1608.0,1176.0 L1611.0,1176.7 L1613.9,1177.4 L1616.9,1178.2 L1619.9,1178.8 L1622.9,1179.5 L1625.8,1180.2 L1628.8,1180.8 L1631.8,1181.4 L1634.8,1182.0 L1637.8,1182.6 L1640.8,1183.2 L1643.8,1183.7 L1646.8,1184.3 L1649.8,1184.8 L1652.9,1185.3 L1655.9,1185.8 L1658.9,1186.2 L1661.9,1186.7 L1665.0,1187.1 L1668.0,1187.5 L1671.0,1188.0 L1674.1,1188.3 L1677.1,1188.7 L1680.2,1189.1 L1683.2,1189.4 L1686.3,1189.8 L1689.3,1190.1 L1692.4,1190.4 L1695.4,1190.7 L1698.5,1191.0 L1701.5,1191.2 L1704.6,1191.5 L1707.6,1191.7 L1710.7,1192.0 L1713.8,1192.2 L1716.8,1192.4 L1719.9,1192.6 L1723.0,1192.8 L1726.0,1192.9 L1729.1,1193.1 L1732.2,1193.2 L1735.2,1193.4 L1738.3,1193.5 L1741.4,1193.6 L1744.4,1193.7 L1747.5,1193.8 L1750.6,1193.9 L1753.6,1194.0 L1756.7,1194.1 L1759.7,1194.1 L1762.8,1194.2 L1765.9,1194.2 L1768.9,1194.3 L1772.0,1194.3 L1775.0,1194.3 L1778.1,1194.3 L1781.2,1194.3 L1784.2,1194.3 L1787.3,1194.3 L1790.3,1194.3" fill="none" stroke="#ffa500" stroke-width="1.33" stroke-dasharray="8,8"/>
<polygon points="1499.8,1131.4 1513.8,1133.5 1509.3,1141.8" fill="#ffa500" stroke="#ffa500" stroke-width="1.33"/>
<path d="M1503.8,1138.7 L1505.9,1140.8 L1508.2,1142.9 L1510.4,1145.0 L1512.6,1147.1 L1514.8,1149.2 L1517.1,1151.2 L1519.4,1153.3 L1521.7,1155.3 L1523.9,1157.3 L1526.3,1159.3 L1528.6,1161.3 L1530.9,1163.2 L1533.2,1165.2 L1535.6,1167.1 L1537.9,1169.0 L1540.3,1170.9 L1542.7,1172.8 L1545.1,1174.7 L1547.5,1176.6 L1549.9,1178.4 L1552.3,1180.2 L1554.8,1182.0 L1557.2,1183.8 L1559.7,1185.6 L1562.1,1187.4 L1564.6,1189.2 L1567.1,1190.9 L1569.6,1192.7 L1572.1,1194.4 L1574.6,1196.1 L1577.1,1197.8 L1579.6,1199.5 L1582.2,1201.1 L1584.7,1202.8 L1587.3,1204.4 L1589.8,1206.1 L1592.4,1207.7 L1595.0,1209.3 L1597.6,1210.9 L1600.2,1212.5 L1602.8,1214.0 L1605.4,1215.6 L1608.0,1217.1 L1610.6,1218.7 L1613.2,1220.2 L1615.9,1221.7 L1618.5,1223.2 L1621.2,1224.7 L1623.8,1226.2 L1626.5,1227.7 L1629.2,1229.1 L1631.9,1230.6 L1634.6,1232.0 L1637.2,1233.5 L1639.9,1234.9 L1642.6,1236.3 L1645.4,1237.7 L1648.1,1239.1 L1650.8,1240.5 L1653.5,1241.8 L1656.3,1243.2 L1659.0,1244.5 L1661.7,1245.9 L1664.5,1247.2 L1667.2,1248.5 L1670.0,1249.9 L1672.8,1251.2 L1675.5,1252.5 L1678.3,1253.7 L1681.1,1255.0 L1683.8,1256.3 L1686.6,1257.6 L1689.4,1258.8 L1692.2,1260.1 L1695.0,1261.3 L1697.8,1262.5 L1700.6,1263.8 L1703.4,1265.0 L1706.2,1266.2 L1709.0,1267.4 L1711.9,1268.6 L1714.7,1269.8 L1717.5,1271.0 L1720.3,1272.1 L1723.1,1273.3 L1726.0,1274.5 L1728.8,1275.6 L1731.6,1276.8 L1734.5,1277.9 L1737.3,1279.0 L1740.2,1280.2 L1743.0,1281.3 L1745.9,1282.4 L1748.7,1283.5 L1751.5,1284.6 L1754.4,1285.7 L1757.3,1286.8 L1760.1,1287.9 L1763.0,1288.9 L1765.8,1290.0 L1768.7,1291.1 L1771.5,1292.1 L1774.4,1293.2 L1777.2,1294.3 L1780.1,1295.3 L1783.0,1296.3 L1785.8,1297.4 L1788.7,1298.4 L1791.6,1299.4 L1794.4,1300.5 L1797.3,1301.5 L1800.1,1302.5 L1803.0,1303.5 L1805.9,1304.5 L1808.7,1305.5 L1811.6,1306.5 L1814.4,1307.5 L1817.3,1308.5" fill="none" stroke="#ffa500" stroke-width="1.33" stroke-dasharray="8,8"/>
<polygon points="1493.5,1130.2 1506.7,1135.1 1500.8,1142.3" fill="#ffa500" stroke="#ffa500" stroke-width="1.33"/>
<path d="M1760.6,1297.9 L1763.5,1297.4 L1766.5,1296.9 L1769.5,1296.5 L1772.4,1296.0 L1775.4,1295.5 L1778.3,1295.0 L1781.3,1294.5 L1784.3,1294.0 L1787.2,1293.6 L1790.2,1293.1 L1793.1,1292.6 L1796.1,1292.1 L1799.1,1291.6 L1802.0,1291.1 L1805.0,1290.7 L1808.0,1290.2 L1810.9,1289.7 L1813.9,1289.2 L1816.9,1288.8 L1819.9,1288.3 L1822.8,1287.8 L1825.8,1287.4 L1828.8,1286.9 L1831.7,1286.4 L1834.7,1286.0 L1837.7,1285.5 L1840.7,1285.1 L1843.6,1284.6 L1846.6,1284.2 L1849.6,1283.7 L1852.6,1283.3 L1855.5,1282.8 L1858.5,1282.4 L1861.5,1282.0 L1864.5,1281.5 L1867.5,1281.1 L1870.4,1280.7 L1873.4,1280.3 L1876.4,1279.8 L1879.4,1279.4 L1882.4,1279.0 L1885.3,1278.6 L1888.3,1278.2 L1891.3,1277.8 L1894.3,1277.4 L1897.3,1277.0 L1900.3,1276.6 L1903.3,1276.3 L1906.2,1275.9 L1909.2,1275.5 L1912.2,1275.1 L1915.2,1274.8 L1918.2,1274.4 L1921.2,1274.1 L1924.2,1273.7 L1927.2,1273.4 L1930.1,1273.0 L1933.1,1272.7 L1936.1,1272.4 L1939.1,1272.1 L1942.1,1271.8 L1945.1,1271.5 L1948.1,1271.1 L1951.1,1270.9 L1954.1,1270.6 L1957.1,1270.3 L1960.0,1270.0 L1963.0,1269.7 L1966.0,1269.5 L1969.0,1269.2 L1972.0,1268.9 L1975.0,1268.7 L1978.0,1268.4 L1981.0,1268.2 L1984.0,1268.0 L1987.0,1267.7 L1990.0,1267.5 L1993.0,1267.3 L1996.0,1267.1 L1999.0,1266.9 L2002.0,1266.6 L2005.0,1266.4 L2008.0,1266.2 L2011.0,1266.1 L2014.0,1265.9 L2017.0,1265.7 L2020.0,1265.5 L2022.9,1265.3 L2025.9,1265.1 L2028.9,1265.0 L2031.9,1264.8 L2034.9,1264.7 L2037.9,1264.5 L2040.9,1264.3 L2043.9,1264.2 L2046.9,1264.0 L2049.9,1263.9 L2052.9,1263.8 L2055.9,1263.6 L2058.9,1263.5 L2061.9,1263.4 L2064.9,1263.2 L2067.9,1263.1 L2070.9,1263.0 L2073.9,1262.9 L2076.9,1262.8 L2079.9,1262.7 L2082.9,1262.6 L2085.9,1262.4 L2088.9,1262.3 L2091.9,1262.2 L2094.9,1262.1 L2097.9,1262.1 L2101.0,1262.0 L2104.0,1261.9 L2107.0,1261.8 L2110.0,1261.7 L2113.0,1261.6 L2116.0,1261.5 L2119.0,1261.5 L2122.0,1261.4 L2125.0,1261.3 L2128.0,1261.2 L2131.0,1261.2 L2134.0,1261.1 L2137.0,1261.0 L2140.0,1261.0 L2143.0,1260.9 L2146.0,1260.8 L2149.0,1260.8 L2152.0,1260.7 L2155.0,1260.6 L2158.0,1260.6 L2161.0,1260.5 L2164.0,1260.5 L2167.0,1260.4 L2170.0,1260.4 L2173.0,1260.3 L2176.0,1260.3 L2179.0,1260.2 L2182.0,1260.2 L2185.0,1260.1 L2188.0,1260.1 L2191.1,1260.1 L2194.1,1260.0 L2197.1,1260.0 L2200.1,1259.9 L2203.1,1259.9 L2206.1,1259.9 L2209.1,1259.8 L2212.1,1259.8 L2215.1,1259.8 L2218.1,1259.8 L2221.1,1259.7 L2224.1,1259.7 L2227.1,1259.7 L2230.1,1259.7 L2233.1,1259.6 L2236.1,1259.6 L2239.1,1259.6 L2242.1,1259.6 L2245.1,1259.6 L2248.2,1259.5 L2251.2,1259.5 L2254.2,1259.5 L2257.2,1259.5 L2260.2,1259.5 L2263.2,1259.5 L2266.2,1259.5 L2269.2,1259.4 L2272.2,1259.4 L2275.2,1259.4 L2278.2,1259.4 L2281.2,1259.4 L2284.2,1259.4 L2287.2,1259.4 L2290.2,1259.4 L2293.2,1259.4 L2296.3,1259.4 L2299.3,1259.4 L2302.3,1259.4 L2305.3,1259.4 L2308.3,1259.4 L2311.3,1259.4 L2314.3,1259.4 L2317.3,1259.4 L2320.3,1259.4 L2323.3,1259.4 L2326.3,1259.4 L2329.3,1259.4 L2332.3,1259.4 L2335.3,1259.4 L2338.3,1259.4 L2341.3,1259.5 L2344.4,1259.5 L2347.4,1259.5 L2350.4,1259.5 L2353.4,1259.5 L2356.4,1259.5 L2359.4,1259.5 L2362.4,1259.5 L2365.4,1259.5 L2368.4,1259.5 L2371.4,1259.6 L2374.4,1259.6 L2377.4,1259.6 L2380.4,1259.6 L2383.4,1259.6 L2386.5,1259.6 L2389.5,1259.6 L2392.5,1259.7 L2395.5,1259.7 L2398.5,1259.7 L2401.5,1259.7 L2404.5,1259.7 L2407.5,1259.7 L2410.5,1259.7 L2413.5,1259.8 L2416.5,1259.8 L2419.5,1259.8 L2422.5,1259.8 L2425.5,1259.8 L2428.6,1259.8 L2431.6,1259.9 L2434.6,1259.9 L2437.6,1259.9 L2440.6,1259.9 L2443.6,1259.9 L2446.6,1259.9 L2449.6,1260.0 L2452.6,1260.0 L2455.6,1260.0 L2458.6,1260.0 L2461.6,1260.0 L2464.6,1260.0 L2467.6,1260.0 L2470.7,1260.1 L2473.7,1260.1 L2476.7,1260.1 L2479.7,1260.1 L2482.7,1260.1 L2485.7,1260.1 L2488.7,1260.1 L2491.7,1260.2 L2494.7,1260.2 L2497.7,1260.2 L2500.7,1260.2 L2503.7,1260.2 L2506.7,1260.2 L2509.7,1260.2 L2512.7,1260.2 L2515.8,1260.2 L2518.8,1260.3 L2521.8,1260.3 L2524.8,1260.3 L2527.8,1260.3 L2530.8,1260.3 L2533.8,1260.3 L2536.8,1260.3 L2539.8,1260.3 L2542.8,1260.3 L2545.8,1260.3 L2548.8,1260.3 L2551.8,1260.3 L2554.8,1260.4 L2557.8,1260.4 L2560.8,1260.4 L2563.9,1260.4 L2566.9,1260.4 L2569.9,1260.4 L2572.9,1260.4 L2575.9,1260.4 L2578.9,1260.4 L2581.9,1260.4 L2584.9,1260.4 L2587.9,1260.4 L2590.9,1260.4 L2593.9,1260.4 L2596.9,1260.4 L2599.9,1260.4 L2602.9,1260.4 L2605.9,1260.4 L2608.9,1260.4 L2612.0,1260.4 L2615.0,1260.4 L2618.0,1260.4 L2621.0,1260.4 L2624.0,1260.4 L2627.0,1260.4 L2630.0,1260.4 L2633.0,1260.4 L2636.0,1260.4 L2639.0,1260.4 L2642.0,1260.4 L2645.0,1260.4 L2648.0,1260.4 L2651.0,1260.4 L2654.0,1260.4 L2657.0,1260.4 L2660.0,1260.4 L2663.1,1260.4 L2666.1,1260.4 L2669.1,1260.4 L2672.1,1260.4 L2675.1,1260.4 L2678.1,1260.4 L2681.1,1260.4 L2684.1,1260.4 L2687.1,1260.4 L2690.1,1260.4 L2693.1,1260.4 L2696.1,1260.4 L2699.1,1260.4 L2702.1,1260.4 L2705.1,1260.4 L2708.1,1260.4 L2711.1,1260.4 L2714.1,1260.4 L2717.2,1260.4 L2720.2,1260.4 L2723.2,1260.4 L2726.2,1260.4 L2729.2,1260.3 L2732.2,1260.3 L2735.2,1260.3 L2738.2,1260.3 L2741.2,1260.3 L2744.2,1260.3 L2747.2,1260.3 L2750.2,1260.3 L2753.2,1260.3 L2756.2,1260.3 L2759.2,1260.3 L2762.2,1260.3 L2765.2,1260.3 L2768.3,1260.3 L2771.3,1260.3 L2774.3,1260.3 L2777.3,1260.3 L2780.3,1260.3 L2783.3,1260.3 L2786.3,1260.3 L2789.3,1260.3 L2792.3,1260.3 L2795.3,1260.3 L2798.3,1260.3 L2801.3,1260.3 L2804.3,1260.3 L2807.3,1260.3 L2810.3,1260.3 L2813.3,1260.2 L2816.3,1260.2 L2819.4,1260.2 L2822.4,1260.2 L2825.4,1260.2 L2828.4,1260.2 L2831.4,1260.2 L2834.4,1260.2 L2837.4,1260.2 L2840.4,1260.2 L2843.4,1260.2 L2846.4,1260.2 L2849.4,1260.2 L2852.4,1260.2 L2855.4,1260.2 L2858.4,1260.2 L2861.4,1260.2 L2864.4,1260.2 L2867.5,1260.2 L2870.5,1260.2 L2873.5,1260.2 L2876.5,1260.2 L2879.5,1260.2 L2882.5,1260.2 L2885.5,1260.2 L2888.5,1260.2 L2891.5,1260.2 L2894.5,1260.2 L2897.5,1260.2 L2900.5,1260.2 L2903.5,1260.2 L2906.5,1260.2 L2909.5,1260.2 L2912.5,1260.2 L2915.6,1260.2 L2918.6,1260.2 L2921.6,1260.2 L2924.6,1260.1 L2927.6,1260.1 L2930.6,1260.1 L2933.6,1260.1 L2936.6,1260.1 L2939.6,1260.1 L2942.6,1260.1 L2945.6,1260.0 L2948.6,1260.0 L2951.6,1260.0 L2954.6,1260.0 L2957.6,1260.0 L2960.6,1259.9 L2963.6,1259.9 L2966.7,1259.9 L2969.7,1259.8 L2972.7,1259.8 L2975.7,1259.8 L2978.7,1259.7 L2981.7,1259.7 L2984.7,1259.7 L2987.7,1259.6 L2990.7,1259.6 L2993.7,1259.5 L2996.7,1259.5 L2999.7,1259.4 L3002.7,1259.4 L3005.7,1259.3 L3008.7,1259.2 L3011.7,1259.2 L3014.7,1259.1 L3017.7,1259.0 L3020.7,1259.0 L3023.7,1258.9 L3026.7,1258.8 L3029.7,1258.7 L3032.7,1258.7 L3035.7,1258.6 L3038.7,1258.5 L3041.7,1258.4 L3044.8,1258.3 L3047.8,1258.2 L3050.8,1258.1 L3053.8,1258.0 L3056.8,1257.9 L3059.8,1257.7 L3062.8,1257.6 L3065.8,1257.5 L3068.8,1257.4 L3071.8,1257.3 L3074.8,1257.1 L3077.8,1257.0 L3080.8,1256.8 L3083.8,1256.7 L3086.8,1256.6 L3089.8,1256.4 L3092.8,1256.2 L3095.8,1256.1 L3098.8,1255.9 L3101.8,1255.7 L3104.8,1255.6 L3107.8,1255.4 L3110.8,1255.2 L3113.8,1255.0 L3116.8,1254.8 L3119.8,1254.6 L3122.8,1254.4 L3125.7,1254.2 L3128.7,1254.0 L3131.7,1253.8 L3134.7,1253.6 L3137.7,1253.3 L3140.7,1253.1 L3143.7,1252.8 L3146.7,1252.6 L3149.7,1252.4 L3152.7,1252.1 L3155.7,1251.8 L3158.7,1251.6 L3161.7,1251.3 L3164.7,1251.0 L3167.7,1250.7 L3170.7,1250.5 L3173.7,1250.2 L3176.7,1249.9 L3179.7,1249.6 L3182.6,1249.2 L3185.6,1248.9 L3188.6,1248.6 L3191.6,1248.3 L3194.6,1247.9 L3197.6,1247.6 L3200.6,1247.2 L3203.6,1246.9 L3206.6,1246.5 L3209.6,1246.1 L3212.6,1245.8 L3215.5,1245.4 L3218.5,1245.0 L3221.5,1244.6 L3224.5,1244.2 L3227.5,1243.8" fill="none" stroke="#9a32cd" stroke-width="1.33" stroke-dasharray="8,8"/>
<polygon points="1747.5,1300.3 1759.7,1293.3 1761.4,1302.5" fill="#9a32cd" stroke="#9a32cd" stroke-width="1.33"/>
<path d="M1980.0,1330.7 L2256.4,1330.7" fill="none" stroke="#9a32cd" stroke-width="1.33" stroke-dasharray="8,8"/>
<polygon points="1966.7,1330.7 1980.0,1326.0 1980.0,1335.4" fill="#9a32cd" stroke="#9a32cd" stroke-width="1.33"/>
<path d="M467.9,1391.8 L470.9,1391.8 L473.9,1391.8 L476.9,1391.8 L479.9,1391.8 L483.0,1391.8 L486.0,1391.9 L489.0,1391.9 L492.0,1391.9 L495.0,1391.9 L498.0,1391.9 L501.0,1391.9 L504.0,1391.9 L507.0,1391.9 L510.0,1391.9 L513.1,1391.9 L516.1,1391.9 L519.1,1391.9 L522.1,1391.9 L525.1,1391.9 L528.1,1392.0 L531.1,1392.0 L534.1,1392.0 L537.1,1392.0 L540.1,1392.0 L543.2,1392.0 L546.2,1392.0 L549.2,1392.0 L552.2,1392.0 L555.2,1392.0 L558.2,1392.0 L561.2,1392.0 L564.2,1392.0 L567.2,1392.0 L570.2,1392.0 L573.3,1392.0 L576.3,1392.0 L579.3,1392.0 L582.3,1392.0 L585.3,1392.0 L588.3,1392.0 L591.3,1392.0 L594.3,1392.1 L597.3,1392.1 L600.3,1392.1 L603.4,1392.1 L606.4,1392.1 L609.4,1392.1 L612.4,1392.1 L615.4,1392.1 L618.4,1392.1 L621.4,1392.1 L624.4,1392.1 L627.4,1392.1 L630.4,1392.1 L633.5,1392.1 L636.5,1392.1 L639.5,1392.1 L642.5,1392.1 L645.5,1392.1 L648.5,1392.1 L651.5,1392.1 L654.5,1392.1 L657.5,1392.1 L660.5,1392.1 L663.6,1392.1 L666.6,1392.1 L669.6,1392.1 L672.6,1392.1 L675.6,1392.1 L678.6,1392.1 L681.6,1392.1 L684.6,1392.1 L687.6,1392.1 L690.6,1392.1 L693.7,1392.1 L696.7,1392.1 L699.7,1392.1 L702.7,1392.1 L705.7,1392.1 L708.7,1392.1 L711.7,1392.1 L714.7,1392.1 L717.7,1392.1 L720.7,1392.0 L723.8,1392.0 L726.8,1392.0 L729.8,1392.0 L732.8,1392.0 L735.8,1392.0 L738.8,1392.0 L741.8,1392.0 L744.8,1392.0 L747.8,1392.0 L750.8,1392.0 L753.9,1392.0 L756.9,1392.0 L759.9,1392.0 L762.9,1392.0 L765.9,1392.0 L768.9,1392.0 L771.9,1392.0 L774.9,1392.0 L777.9,1392.0 L780.9,1392.0 L784.0,1392.0 L787.0,1392.0 L790.0,1392.0 L793.0,1392.0 L796.0,1392.0 L799.0,1392.0 L802.0,1392.0 L805.0,1392.0 L808.0,1392.0 L811.0,1391.9 L814.1,1391.9 L817.1,1391.9 L820.1,1391.9 L823.1,1391.9 L826.1,1391.9 L829.1,1391.9 L832.1,1391.9 L835.1,1391.9 L838.1,1391.9 L841.1,1391.9 L844.2,1391.9 L847.2,1391.9 L850.2,1391.9 L853.2,1391.9 L856.2,1391.9 L859.2,1391.9 L862.2,1391.9 L865.2,1391.9 L868.2,1391.9 L871.2,1391.8 L874.3,1391.8 L877.3,1391.8 L880.3,1391.8 L883.3,1391.8 L886.3,1391.8 L889.3,1391.8 L892.3,1391.8 L895.3,1391.8 L898.3,1391.8 L901.3,1391.8 L904.4,1391.8 L907.4,1391.8 L910.4,1391.8 L913.4,1391.8 L916.4,1391.8 L919.4,1391.8 L922.4,1391.8 L925.4,1391.8 L928.4,1391.8 L931.4,1391.7 L934.5,1391.7 L937.5,1391.7 L940.5,1391.7 L943.5,1391.7 L946.5,1391.7 L949.5,1391.7 L952.5,1391.7 L955.5,1391.7 L958.5,1391.7 L961.5,1391.7 L964.6,1391.7 L967.6,1391.7 L970.6,1391.7 L973.6,1391.7 L976.6,1391.7 L979.6,1391.7 L982.6,1391.7 L985.6,1391.7 L988.6,1391.6 L991.6,1391.6 L994.6,1391.6 L997.7,1391.6 L1000.7,1391.6 L1003.7,1391.6 L1006.7,1391.6 L1009.7,1391.6 L1012.7,1391.6 L1015.7,1391.6 L1018.7,1391.6 L1021.7,1391.6 L1024.7,1391.6 L1027.8,1391.6 L1030.8,1391.6 L1033.8,1391.6 L1036.8,1391.6 L1039.8,1391.6 L1042.8,1391.6 L1045.8,1391.6 L1048.8,1391.6 L1051.8,1391.5 L1054.8,1391.5 L1057.9,1391.5 L1060.9,1391.5 L1063.9,1391.5 L1066.9,1391.5 L1069.9,1391.5 L1072.9,1391.5 L1075.9,1391.5 L1078.9,1391.5 L1081.9,1391.5 L1084.9,1391.5 L1088.0,1391.5 L1091.0,1391.5 L1094.0,1391.5 L1097.0,1391.5 L1100.0,1391.5 L1103.0,1391.5 L1106.0,1391.5 L1109.0,1391.5 L1112.0,1391.5 L1115.0,1391.5 L1118.1,1391.5 L1121.1,1391.5 L1124.1,1391.5 L1127.1,1391.5 L1130.1,1391.5 L1133.1,1391.5 L1136.1,1391.5 L1139.1,1391.5 L1142.1,1391.5 L1145.1,1391.5 L1148.2,1391.5 L1151.2,1391.5 L1154.2,1391.5 L1157.2,1391.5 L1160.2,1391.5 L1163.2,1391.4 L1166.2,1391.4 L1169.2,1391.4 L1172.2,1391.4 L1175.2,1391.4 L1178.3,1391.4 L1181.3,1391.4 L1184.3,1391.4 L1187.3,1391.4 L1190.3,1391.4 L1193.3,1391.4 L1196.3,1391.4 L1199.3,1391.4 L1202.3,1391.4 L1205.3,1391.4 L1208.4,1391.4 L1211.4,1391.4 L1214.4,1391.4 L1217.4,1391.4 L1220.4,1391.4 L1223.4,1391.5 L1226.4,1391.5 L1229.4,1391.5 L1232.4,1391.5 L1235.4,1391.5 L1238.5,1391.5 L1241.5,1391.5 L1244.5,1391.5 L1247.5,1391.5 L1250.5,1391.5 L1253.5,1391.5 L1256.5,1391.5 L1259.5,1391.5 L1262.5,1391.5 L1265.5,1391.5 L1268.6,1391.5 L1271.6,1391.5 L1274.6,1391.5 L1277.6,1391.5 L1280.6,1391.5 L1283.6,1391.5 L1286.6,1391.5 L1289.6,1391.5 L1292.6,1391.5 L1295.6,1391.5 L1298.7,1391.5 L1301.7,1391.5 L1304.7,1391.5 L1307.7,1391.5 L1310.7,1391.6 L1313.7,1391.6 L1316.7,1391.6 L1319.7,1391.6 L1322.7,1391.6 L1325.7,1391.6 L1328.8,1391.6 L1331.8,1391.6 L1334.8,1391.6 L1337.8,1391.6 L1340.8,1391.6 L1343.8,1391.6 L1346.8,1391.6 L1349.8,1391.6 L1352.8,1391.6 L1355.8,1391.7 L1358.9,1391.7 L1361.9,1391.7 L1364.9,1391.7 L1367.9,1391.7 L1370.9,1391.7 L1373.9,1391.7 L1376.9,1391.7 L1379.9,1391.7 L1382.9,1391.7 L1385.9,1391.8 L1389.0,1391.8 L1392.0,1391.8 L1395.0,1391.8 L1398.0,1391.8 L1401.0,1391.8 L1404.0,1391.8 L1407.0,1391.8 L1410.0,1391.8 L1413.0,1391.8 L1416.0,1391.9 L1419.1,1391.9 L1422.1,1391.9 L1425.1,1391.9 L1428.1,1391.9 L1431.1,1391.9 L1434.1,1391.9 L1437.1,1391.9 L1440.1,1391.9 L1443.1,1392.0 L1446.1,1392.0 L1449.2,1392.0 L1452.2,1392.0 L1455.2,1392.0 L1458.2,1392.0 L1461.2,1392.0 L1464.2,1392.0 L1467.2,1392.1 L1470.2,1392.1 L1473.2,1392.1 L1476.3,1392.1 L1479.3,1392.1 L1482.3,1392.1 L1485.3,1392.1 L1488.3,1392.1 L1491.3,1392.1 L1494.3,1392.2 L1497.3,1392.2 L1500.3,1392.2 L1503.3,1392.2 L1506.4,1392.2 L1509.4,1392.2 L1512.4,1392.2 L1515.4,1392.2 L1518.4,1392.2 L1521.4,1392.2 L1524.4,1392.3 L1527.4,1392.3 L1530.4,1392.3 L1533.4,1392.3 L1536.5,1392.3 L1539.5,1392.3 L1542.5,1392.3 L1545.5,1392.3 L1548.5,1392.3 L1551.5,1392.3 L1554.5,1392.3 L1557.5,1392.4 L1560.5,1392.4 L1563.6,1392.4 L1566.6,1392.4 L1569.6,1392.4 L1572.6,1392.4 L1575.6,1392.4 L1578.6,1392.4 L1581.6,1392.4 L1584.6,1392.4 L1587.6,1392.4 L1590.6,1392.4 L1593.7,1392.4 L1596.7,1392.4 L1599.7,1392.4 L1602.7,1392.5 L1605.7,1392.5 L1608.7,1392.5 L1611.7,1392.5 L1614.7,1392.5 L1617.7,1392.5 L1620.7,1392.5 L1623.8,1392.5 L1626.8,1392.5 L1629.8,1392.5 L1632.8,1392.5 L1635.8,1392.5 L1638.8,1392.5 L1641.8,1392.5 L1644.8,1392.5 L1647.8,1392.5 L1650.9,1392.5 L1653.9,1392.5 L1656.9,1392.5 L1659.9,1392.5 L1662.9,1392.5 L1665.9,1392.5 L1668.9,1392.5 L1671.9,1392.5 L1674.9,1392.5 L1677.9,1392.5 L1681.0,1392.4 L1684.0,1392.4 L1687.0,1392.4 L1690.0,1392.4 L1693.0,1392.4 L1696.0,1392.4 L1699.0,1392.4 L1702.0,1392.4 L1705.0,1392.4 L1708.0,1392.4 L1711.1,1392.4 L1714.1,1392.4 L1717.1,1392.3 L1720.1,1392.3 L1723.1,1392.3 L1726.1,1392.3 L1729.1,1392.3 L1732.1,1392.3 L1735.1,1392.3 L1738.2,1392.3 L1741.2,1392.2 L1744.2,1392.2 L1747.2,1392.2 L1750.2,1392.2 L1753.2,1392.2 L1756.2,1392.2 L1759.2,1392.1 L1762.2,1392.1 L1765.2,1392.1 L1768.3,1392.1 L1771.3,1392.1 L1774.3,1392.0 L1777.3,1392.0 L1780.3,1392.0 L1783.3,1392.0 L1786.3,1391.9 L1789.3,1391.9 L1792.3,1391.9 L1795.4,1391.9 L1798.4,1391.8 L1801.4,1391.8 L1804.4,1391.8 L1807.4,1391.8 L1810.4,1391.7 L1813.4,1391.7 L1816.4,1391.7 L1819.4,1391.6 L1822.4,1391.6 L1825.5,1391.6 L1828.5,1391.5 L1831.5,1391.5 L1834.5,1391.5 L1837.5,1391.4 L1840.5,1391.4 L1843.5,1391.3 L1846.5,1391.3 L1849.5,1391.3 L1852.5,1391.2 L1855.6,1391.2 L1858.6,1391.1 L1861.6,1391.1 L1864.6,1391.0 L1867.6,1390.9 L1870.6,1390.9 L1873.6,1390.8 L1876.6,1390.8 L1879.6,1390.7 L1882.6,1390.6 L1885.6,1390.6 L1888.7,1390.5 L1891.7,1390.4 L1894.7,1390.4 L1897.7,1390.3 L1900.7,1390.2 L1903.7,1390.1 L1906.7,1390.0 L1909.7,1389.9 L1912.7,1389.9 L1915.7,1389.8 L1918.7,1389.7 L1921.7,1389.6 L1924.7,1389.5 L1927.7,1389.4 L1930.7,1389.3 L1933.8,1389.1 L1936.8,1389.0 L1939.8,1388.9 L1942.8,1388.8 L1945.8,1388.7 L1948.8,1388.5 L1951.8,1388.4 L1954.8,1388.3 L1957.8,1388.1 L1960.8,1388.0 L1963.8,1387.8 L1966.8,1387.7 L1969.8,1387.5 L1972.8,1387.4 L1975.8,1387.2 L1978.8,1387.0 L1981.8,1386.9 L1984.8,1386.7 L1987.8,1386.5 L1990.8,1386.3 L1993.8,1386.1 L1996.8,1385.9 L1999.8,1385.7 L2002.8,1385.5 L2005.8,1385.3 L2008.8,1385.1 L2011.8,1384.9 L2014.8,1384.7 L2017.7,1384.4 L2020.7,1384.2 L2023.7,1384.0 L2026.7,1383.7 L2029.7,1383.5 L2032.7,1383.2 L2035.7,1383.0 L2038.7,1382.7 L2041.7,1382.4 L2044.7,1382.2 L2047.7,1381.9 L2050.7,1381.6 L2053.6,1381.3 L2056.6,1381.0 L2059.6,1380.7 L2062.6,1380.4 L2065.6,1380.1 L2068.6,1379.8 L2071.6,1379.4 L2074.5,1379.1 L2077.5,1378.8 L2080.5,1378.4 L2083.5,1378.1 L2086.5,1377.7 L2089.5,1377.4 L2092.4,1377.0 L2095.4,1376.6 L2098.4,1376.2 L2101.4,1375.9 L2104.4,1375.5 L2107.3,1375.1 L2110.3,1374.7 L2113.3,1374.3 L2116.3,1373.8 L2119.2,1373.4 L2122.2,1373.0 L2125.2,1372.6 L2128.2,1372.1 L2131.1,1371.7 L2134.1,1371.2 L2137.1,1370.8 L2140.0,1370.3 L2143.0,1369.8 L2146.0,1369.3 L2149.0,1368.8 L2151.9,1368.3 L2154.9,1367.8 L2157.9,1367.3 L2160.8,1366.8 L2163.8,1366.3 L2166.7,1365.8 L2169.7,1365.2 L2172.7,1364.7 L2175.6,1364.1 L2178.6,1363.6 L2181.6,1363.0 L2184.5,1362.4 L2187.5,1361.9 L2190.4,1361.3 L2193.4,1360.7 L2196.3,1360.1 L2199.3,1359.5 L2202.3,1358.9 L2205.2,1358.2 L2208.2,1357.6 L2211.1,1357.0 L2214.1,1356.3 L2217.0,1355.7 L2220.0,1355.0 L2222.9,1354.3 L2225.9,1353.7 L2228.8,1353.0 L2231.7,1352.3 L2234.7,1351.6 L2237.6,1350.9 L2240.6,1350.2 L2243.5,1349.5 L2246.5,1348.7 L2249.4,1348.0" fill="none" stroke="#ffa500" stroke-width="1.33" stroke-dasharray="8,8"/>
<polygon points="454.6,1391.8 467.9,1387.1 467.9,1396.5" fill="#ffa500" stroke="#ffa500" stroke-width="1.33"/>
<path d="M2411.6,1330.1 L2585.2,1329.5" fill="none" stroke="#9a32cd" stroke-width="1.33" stroke-dasharray="8,8"/>
<polygon points="2398.3,1330.1 2411.6,1325.4 2411.6,1334.8" fill="#9a32cd" stroke="#9a32cd" stroke-width="1.33"/>
<path d="M2749.6,1328.9 L2929.1,1328.2" fill="none" stroke="#ffa500" stroke-width="1.33" stroke-dasharray="8,8"/>
<polygon points="2736.3,1328.9 2749.6,1324.2 2749.6,1333.6" fill="#ffa500" stroke="#ffa500" stroke-width="1.33"/>
<path d="M3105.5,1318.5 L3108.5,1317.9 L3111.5,1317.3 L3114.6,1316.7 L3117.6,1316.0 L3120.6,1315.4 L3123.6,1314.7 L3126.6,1314.0 L3129.7,1313.3 L3132.7,1312.6 L3135.7,1311.9 L3138.7,1311.2 L3141.7,1310.4 L3144.7,1309.7 L3147.7,1308.9 L3150.6,1308.1 L3153.6,1307.3 L3156.6,1306.5 L3159.6,1305.6 L3162.5,1304.8 L3165.5,1303.9 L3168.4,1303.0 L3171.4,1302.1 L3174.3,1301.1 L3177.2,1300.2 L3180.2,1299.2 L3183.1,1298.2 L3186.0,1297.2 L3188.9,1296.2 L3191.8,1295.2 L3194.7,1294.1 L3197.6,1293.0 L3200.4,1291.9 L3203.3,1290.8 L3206.1,1289.7 L3209.0,1288.5 L3211.8,1287.3 L3214.6,1286.1 L3217.4,1284.8 L3220.2,1283.6 L3223.0,1282.3 L3225.8,1281.0 L3228.6,1279.7 L3231.4,1278.3 L3234.1,1276.9 L3236.8,1275.5 L3239.6,1274.1 L3242.3,1272.7 L3245.0,1271.2 L3247.7,1269.7 L3250.3,1268.2 L3253.0,1266.6 L3255.7,1265.0 L3258.3,1263.4 L3260.9,1261.8 L3263.5,1260.1 L3266.1,1258.4 L3268.7,1256.7 L3271.3,1254.9 L3273.8,1253.1 L3276.4,1251.3 L3278.9,1249.5" fill="none" stroke="#9a32cd" stroke-width="1.33" stroke-dasharray="8,8"/>
<polygon points="3092.3,1320.4 3104.8,1313.9 3106.1,1323.2" fill="#9a32cd" stroke="#9a32cd" stroke-width="1.33"/>
<path d="M1367.5,1455.4 L1370.5,1455.2 L1373.5,1455.0 L1376.5,1454.9 L1379.5,1454.7 L1382.5,1454.5 L1385.5,1454.3 L1388.5,1454.2 L1391.5,1454.0 L1394.5,1453.8 L1397.5,1453.6 L1400.5,1453.5 L1403.5,1453.3 L1406.5,1453.1 L1409.5,1453.0 L1412.5,1452.8 L1415.5,1452.7 L1418.5,1452.5 L1421.5,1452.3 L1424.5,1452.2 L1427.5,1452.0 L1430.6,1451.9 L1433.6,1451.7 L1436.6,1451.6 L1439.6,1451.4 L1442.6,1451.3 L1445.6,1451.1 L1448.6,1451.0 L1451.6,1450.8 L1454.6,1450.7 L1457.6,1450.6 L1460.6,1450.4 L1463.6,1450.3 L1466.6,1450.1 L1469.6,1450.0 L1472.6,1449.9 L1475.6,1449.7 L1478.6,1449.6 L1481.6,1449.5 L1484.6,1449.3 L1487.6,1449.2 L1490.6,1449.1 L1493.6,1449.0 L1496.6,1448.8 L1499.7,1448.7 L1502.7,1448.6 L1505.7,1448.5 L1508.7,1448.4 L1511.7,1448.2 L1514.7,1448.1 L1517.7,1448.0 L1520.7,1447.9 L1523.7,1447.8 L1526.7,1447.7 L1529.7,1447.6 L1532.7,1447.5 L1535.7,1447.4 L1538.7,1447.2 L1541.7,1447.1 L1544.7,1447.0 L1547.7,1446.9 L1550.7,1446.8 L1553.7,1446.7 L1556.7,1446.6 L1559.7,1446.5 L1562.8,1446.4 L1565.8,1446.3 L1568.8,1446.3 L1571.8,1446.2 L1574.8,1446.1 L1577.8,1446.0 L1580.8,1445.9 L1583.8,1445.8 L1586.8,1445.7 L1589.8,1445.6 L1592.8,1445.5 L1595.8,1445.5 L1598.8,1445.4 L1601.8,1445.3 L1604.8,1445.2 L1607.8,1445.1 L1610.8,1445.1 L1613.8,1445.0 L1616.9,1444.9 L1619.9,1444.8 L1622.9,1444.8 L1625.9,1444.7 L1628.9,1444.6 L1631.9,1444.5 L1634.9,1444.5 L1637.9,1444.4 L1640.9,1444.3 L1643.9,1444.3 L1646.9,1444.2 L1649.9,1444.1 L1652.9,1444.1 L1655.9,1444.0 L1658.9,1443.9 L1661.9,1443.9 L1664.9,1443.8 L1667.9,1443.8 L1671.0,1443.7 L1674.0,1443.7 L1677.0,1443.6 L1680.0,1443.5 L1683.0,1443.5 L1686.0,1443.4 L1689.0,1443.4 L1692.0,1443.3 L1695.0,1443.3 L1698.0,1443.2 L1701.0,1443.2 L1704.0,1443.1 L1707.0,1443.1 L1710.0,1443.0 L1713.0,1443.0 L1716.0,1442.9 L1719.1,1442.9 L1722.1,1442.9 L1725.1,1442.8 L1728.1,1442.8 L1731.1,1442.7 L1734.1,1442.7 L1737.1,1442.7 L1740.1,1442.6 L1743.1,1442.6 L1746.1,1442.5 L1749.1,1442.5 L1752.1,1442.5 L1755.1,1442.4 L1758.1,1442.4 L1761.1,1442.4 L1764.1,1442.3 L1767.2,1442.3 L1770.2,1442.3 L1773.2,1442.3 L1776.2,1442.2 L1779.2,1442.2 L1782.2,1442.2 L1785.2,1442.1 L1788.2,1442.1 L1791.2,1442.1 L1794.2,1442.1 L1797.2,1442.0 L1800.2,1442.0 L1803.2,1442.0 L1806.2,1442.0 L1809.2,1442.0 L1812.3,1441.9 L1815.3,1441.9 L1818.3,1441.9 L1821.3,1441.9 L1824.3,1441.9 L1827.3,1441.8 L1830.3,1441.8 L1833.3,1441.8 L1836.3,1441.8 L1839.3,1441.8 L1842.3,1441.8 L1845.3,1441.8 L1848.3,1441.7 L1851.3,1441.7 L1854.3,1441.7 L1857.4,1441.7 L1860.4,1441.7 L1863.4,1441.7 L1866.4,1441.7 L1869.4,1441.7 L1872.4,1441.7 L1875.4,1441.7 L1878.4,1441.7 L1881.4,1441.6 L1884.4,1441.6 L1887.4,1441.6 L1890.4,1441.6 L1893.4,1441.6 L1896.4,1441.6 L1899.5,1441.6 L1902.5,1441.6 L1905.5,1441.6 L1908.5,1441.6 L1911.5,1441.6 L1914.5,1441.6 L1917.5,1441.6 L1920.5,1441.6 L1923.5,1441.6 L1926.5,1441.6 L1929.5,1441.6 L1932.5,1441.6 L1935.5,1441.6 L1938.5,1441.6 L1941.6,1441.6 L1944.6,1441.6 L1947.6,1441.6 L1950.6,1441.6 L1953.6,1441.6 L1956.6,1441.6 L1959.6,1441.6 L1962.6,1441.6 L1965.6,1441.6 L1968.6,1441.7 L1971.6,1441.7 L1974.6,1441.7 L1977.6,1441.7 L1980.7,1441.7 L1983.7,1441.7 L1986.7,1441.7 L1989.7,1441.7 L1992.7,1441.7 L1995.7,1441.7 L1998.7,1441.7 L2001.7,1441.7 L2004.7,1441.7 L2007.7,1441.8 L2010.7,1441.8 L2013.7,1441.8 L2016.7,1441.8 L2019.8,1441.8 L2022.8,1441.8 L2025.8,1441.8 L2028.8,1441.8 L2031.8,1441.8 L2034.8,1441.9 L2037.8,1441.9 L2040.8,1441.9 L2043.8,1441.9 L2046.8,1441.9 L2049.8,1441.9 L2052.8,1441.9 L2055.8,1441.9 L2058.9,1442.0 L2061.9,1442.0 L2064.9,1442.0 L2067.9,1442.0 L2070.9,1442.0 L2073.9,1442.0 L2076.9,1442.0 L2079.9,1442.1 L2082.9,1442.1 L2085.9,1442.1 L2088.9,1442.1 L2091.9,1442.1 L2094.9,1442.1 L2098.0,1442.1 L2101.0,1442.2 L2104.0,1442.2 L2107.0,1442.2 L2110.0,1442.2 L2113.0,1442.2 L2116.0,1442.2 L2119.0,1442.3 L2122.0,1442.3 L2125.0,1442.3 L2128.0,1442.3 L2131.0,1442.3 L2134.0,1442.3 L2137.1,1442.3 L2140.1,1442.4 L2143.1,1442.4 L2146.1,1442.4 L2149.1,1442.4 L2152.1,1442.4 L2155.1,1442.4 L2158.1,1442.5 L2161.1,1442.5 L2164.1,1442.5 L2167.1,1442.5 L2170.1,1442.5 L2173.2,1442.5 L2176.2,1442.5 L2179.2,1442.6 L2182.2,1442.6 L2185.2,1442.6 L2188.2,1442.6 L2191.2,1442.6 L2194.2,1442.6 L2197.2,1442.7 L2200.2,1442.7 L2203.2,1442.7 L2206.2,1442.7 L2209.2,1442.7 L2212.3,1442.7 L2215.3,1442.7 L2218.3,1442.7 L2221.3,1442.8 L2224.3,1442.8 L2227.3,1442.8 L2230.3,1442.8 L2233.3,1442.8 L2236.3,1442.8 L2239.3,1442.8 L2242.3,1442.8 L2245.3,1442.9 L2248.4,1442.9 L2251.4,1442.9 L2254.4,1442.9 L2257.4,1442.9 L2260.4,1442.9 L2263.4,1442.9 L2266.4,1442.9 L2269.4,1442.9 L2272.4,1443.0 L2275.4,1443.0 L2278.4,1443.0 L2281.4,1443.0 L2284.5,1443.0 L2287.5,1443.0 L2290.5,1443.0 L2293.5,1443.0 L2296.5,1443.0 L2299.5,1443.0 L2302.5,1443.0 L2305.5,1443.0 L2308.5,1443.0 L2311.5,1443.1 L2314.5,1443.1 L2317.5,1443.1 L2320.6,1443.1 L2323.6,1443.1 L2326.6,1443.1 L2329.6,1443.1 L2332.6,1443.1 L2335.6,1443.1 L2338.6,1443.1 L2341.6,1443.1 L2344.6,1443.1 L2347.6,1443.1 L2350.6,1443.1 L2353.6,1443.1 L2356.7,1443.1 L2359.7,1443.1 L2362.7,1443.1 L2365.7,1443.1 L2368.7,1443.1 L2371.7,1443.1 L2374.7,1443.1 L2377.7,1443.1 L2380.7,1443.1 L2383.7,1443.1 L2386.7,1443.1 L2389.7,1443.1 L2392.7,1443.0 L2395.8,1443.0 L2398.8,1443.0 L2401.8,1443.0 L2404.8,1443.0 L2407.8,1443.0 L2410.8,1443.0 L2413.8,1443.0 L2416.8,1443.0 L2419.8,1443.0 L2422.8,1443.0 L2425.8,1443.0 L2428.8,1443.0 L2431.9,1443.0 L2434.9,1442.9 L2437.9,1442.9 L2440.9,1442.9 L2443.9,1442.9 L2446.9,1442.9 L2449.9,1442.9 L2452.9,1442.9 L2455.9,1442.9 L2458.9,1442.9 L2461.9,1442.9 L2464.9,1442.8 L2467.9,1442.8 L2471.0,1442.8 L2474.0,1442.8 L2477.0,1442.8 L2480.0,1442.8 L2483.0,1442.8 L2486.0,1442.8 L2489.0,1442.8 L2492.0,1442.7 L2495.0,1442.7 L2498.0,1442.7 L2501.0,1442.7 L2504.0,1442.7 L2507.1,1442.7 L2510.1,1442.7 L2513.1,1442.7 L2516.1,1442.6 L2519.1,1442.6 L2522.1,1442.6 L2525.1,1442.6 L2528.1,1442.6 L2531.1,1442.6 L2534.1,1442.6 L2537.1,1442.6 L2540.1,1442.5 L2543.1,1442.5 L2546.1,1442.5 L2549.2,1442.5 L2552.2,1442.5 L2555.2,1442.5 L2558.2,1442.5 L2561.2,1442.5 L2564.2,1442.4 L2567.2,1442.4 L2570.2,1442.4 L2573.2,1442.4 L2576.2,1442.4 L2579.2,1442.4 L2582.2,1442.4 L2585.2,1442.4 L2588.2,1442.3 L2591.3,1442.3 L2594.3,1442.3 L2597.3,1442.3 L2600.3,1442.3 L2603.3,1442.3 L2606.3,1442.3 L2609.3,1442.3 L2612.3,1442.3 L2615.3,1442.3 L2618.3,1442.2 L2621.3,1442.2 L2624.3,1442.2 L2627.3,1442.2 L2630.3,1442.2 L2633.3,1442.2 L2636.3,1442.2 L2639.4,1442.2 L2642.4,1442.2 L2645.4,1442.2 L2648.4,1442.2 L2651.4,1442.2 L2654.4,1442.1 L2657.4,1442.1 L2660.4,1442.1 L2663.4,1442.1 L2666.4,1442.1 L2669.4,1442.1 L2672.4,1442.1 L2675.4,1442.1 L2678.4,1442.1 L2681.4,1442.1 L2684.4,1442.1 L2687.4,1442.1 L2690.4,1442.1 L2693.5,1442.1 L2696.5,1442.1 L2699.5,1442.1 L2702.5,1442.1 L2705.5,1442.1 L2708.5,1442.1 L2711.5,1442.1 L2714.5,1442.1 L2717.5,1442.1 L2720.5,1442.1 L2723.5,1442.1 L2726.5,1442.1 L2729.5,1442.1 L2732.5,1442.1 L2735.5,1442.1 L2738.5,1442.1 L2741.5,1442.1 L2744.5,1442.1 L2747.5,1442.1 L2750.5,1442.1 L2753.5,1442.1 L2756.5,1442.2 L2759.5,1442.2 L2762.6,1442.2 L2765.6,1442.2 L2768.6,1442.2 L2771.6,1442.2 L2774.6,1442.2 L2777.6,1442.2 L2780.6,1442.2 L2783.6,1442.3 L2786.6,1442.3 L2789.6,1442.3 L2792.6,1442.3 L2795.6,1442.3 L2798.6,1442.3 L2801.6,1442.3 L2804.6,1442.4 L2807.6,1442.4 L2810.6,1442.4 L2813.6,1442.4 L2816.6,1442.4 L2819.6,1442.5 L2822.6,1442.5 L2825.6,1442.5 L2828.6,1442.5 L2831.6,1442.6 L2834.6,1442.6 L2837.6,1442.6 L2840.6,1442.6 L2843.6,1442.7 L2846.6,1442.7 L2849.6,1442.7 L2852.6,1442.7 L2855.6,1442.8 L2858.6,1442.8 L2861.6,1442.8 L2864.6,1442.8 L2867.6,1442.9 L2870.7,1442.9 L2873.7,1442.9 L2876.7,1443.0 L2879.7,1443.0 L2882.7,1443.0 L2885.7,1443.0 L2888.7,1443.0 L2891.7,1443.1 L2894.7,1443.1 L2897.7,1443.1 L2900.7,1443.1 L2903.8,1443.1 L2906.8,1443.1 L2909.8,1443.2 L2912.8,1443.2 L2915.8,1443.2 L2918.9,1443.2 L2921.9,1443.2 L2924.9,1443.2 L2927.9,1443.2 L2931.0,1443.2 L2934.0,1443.2 L2937.0,1443.2 L2940.1,1443.1 L2943.1,1443.1 L2946.1,1443.1 L2949.2,1443.1 L2952.2,1443.1 L2955.3,1443.0 L2958.3,1443.0 L2961.3,1443.0 L2964.4,1442.9 L2967.4,1442.9 L2970.5,1442.8 L2973.5,1442.8 L2976.6,1442.7 L2979.6,1442.6 L2982.7,1442.5 L2985.7,1442.4 L2988.8,1442.3 L2991.8,1442.2 L2994.8,1442.0 L2997.9,1441.9 L3000.9,1441.7 L3003.9,1441.5 L3007.0,1441.3 L3010.0,1441.1 L3013.0,1440.9 L3016.0,1440.6 L3019.0,1440.3 L3022.0,1440.0 L3025.0,1439.7 L3028.0,1439.4 L3030.9,1439.0 L3033.9,1438.6 L3036.8,1438.2 L3039.8,1437.7 L3042.7,1437.3 L3045.6,1436.8 L3048.6,1436.2 L3051.5,1435.7 L3054.4,1435.1 L3057.2,1434.5 L3060.1,1433.8 L3063.0,1433.1 L3065.8,1432.4 L3068.6,1431.6 L3071.5,1430.9 L3074.3,1430.0 L3077.1,1429.2 L3079.8,1428.3 L3082.6,1427.3 L3085.3,1426.3 L3088.1,1425.3 L3090.8,1424.3 L3093.5,1423.2 L3096.2,1422.0 L3098.8,1420.9 L3101.5,1419.7 L3104.1,1418.4 L3106.7,1417.1 L3109.3,1415.8 L3111.9,1414.5 L3114.5,1413.1 L3117.1,1411.7 L3119.6,1410.2 L3122.2,1408.8 L3124.7,1407.2 L3127.2,1405.7 L3129.7,1404.1 L3132.2,1402.5 L3134.7,1400.9 L3137.1,1399.3 L3139.6,1397.6 L3142.0,1395.9 L3144.4,1394.1 L3146.8,1392.4 L3149.2,1390.6 L3151.6,1388.8 L3154.0,1386.9 L3156.3,1385.1 L3158.7,1383.2 L3161.0,1381.3 L3163.4,1379.4 L3165.7,1377.4 L3168.0,1375.4 L3170.3,1373.5 L3172.6,1371.4 L3174.8,1369.4 L3177.1,1367.4 L3179.3,1365.3 L3181.6,1363.2 L3183.8,1361.2 L3186.0,1359.1 L3188.2,1356.9 L3190.4,1354.8 L3192.6,1352.6 L3194.8,1350.5 L3197.0,1348.3 L3199.1,1346.1 L3201.3,1343.9 L3203.5,1341.7 L3205.6,1339.5 L3207.7,1337.3 L3209.8,1335.0 L3212.0,1332.8 L3214.1,1330.5 L3216.2,1328.3 L3218.2,1326.0 L3220.3,1323.7 L3222.4,1321.5 L3224.5,1319.2 L3226.5,1316.9 L3228.6,1314.6 L3230.6,1312.3 L3232.7,1310.0 L3234.7,1307.7 L3236.7,1305.4 L3238.7,1303.1 L3240.8,1300.8 L3242.8,1298.5 L3244.8,1296.3 L3246.8,1294.0 L3248.8,1291.7 L3250.7,1289.4 L3252.7,1287.1 L3254.7,1284.8 L3256.7,1282.6 L3258.6,1280.3 L3260.6,1278.0 L3262.5,1275.8 L3264.5,1273.5 L3266.4,1271.3 L3268.4,1269.1 L3270.3,1266.8 L3272.3,1264.6 L3274.2,1262.4 L3276.1,1260.3 L3278.0,1258.1 L3280.0,1255.9 L3281.9,1253.8 L3283.8,1251.6 L3285.7,1249.5" fill="none" stroke="#9a32cd" stroke-width="1.33" stroke-dasharray="8,8"/>
<polygon points="1354.2,1456.2 1367.2,1450.7 1367.8,1460.1" fill="#9a32cd" stroke="#9a32cd" stroke-width="1.33"/>
<path d="M298.4,1457.9 L301.4,1457.9 L304.4,1457.9 L307.4,1457.9 L310.5,1457.9 L313.5,1457.9 L316.5,1457.9 L319.5,1457.9 L322.5,1458.0 L325.5,1458.0 L328.6,1458.0 L331.6,1458.0 L334.6,1458.0 L337.6,1458.0 L340.6,1458.0 L343.6,1458.0 L346.7,1458.1 L349.7,1458.1 L352.7,1458.1 L355.7,1458.1 L358.7,1458.1 L361.7,1458.1 L364.8,1458.1 L367.8,1458.1 L370.8,1458.2 L373.8,1458.2 L376.8,1458.2 L379.8,1458.2 L382.9,1458.2 L385.9,1458.2 L388.9,1458.2 L391.9,1458.2 L394.9,1458.3 L397.9,1458.3 L400.9,1458.3 L404.0,1458.3 L407.0,1458.3 L410.0,1458.3 L413.0,1458.3 L416.0,1458.3 L419.0,1458.4 L422.1,1458.4 L425.1,1458.4 L428.1,1458.4 L431.1,1458.4 L434.1,1458.4 L437.1,1458.4 L440.2,1458.5 L443.2,1458.5 L446.2,1458.5 L449.2,1458.5 L452.2,1458.5 L455.2,1458.5 L458.3,1458.5 L461.3,1458.5 L464.3,1458.6 L467.3,1458.6 L470.3,1458.6 L473.3,1458.6 L476.3,1458.6 L479.4,1458.6 L482.4,1458.6 L485.4,1458.7 L488.4,1458.7 L491.4,1458.7 L494.4,1458.7 L497.5,1458.7 L500.5,1458.7 L503.5,1458.7 L506.5,1458.8 L509.5,1458.8 L512.5,1458.8 L515.6,1458.8 L518.6,1458.8 L521.6,1458.8 L524.6,1458.8 L527.6,1458.9 L530.6,1458.9 L533.7,1458.9 L536.7,1458.9 L539.7,1458.9 L542.7,1458.9 L545.7,1458.9 L548.7,1459.0 L551.8,1459.0 L554.8,1459.0 L557.8,1459.0 L560.8,1459.0 L563.8,1459.0 L566.8,1459.0 L569.8,1459.1 L572.9,1459.1 L575.9,1459.1 L578.9,1459.1 L581.9,1459.1 L584.9,1459.1 L587.9,1459.1 L591.0,1459.2 L594.0,1459.2 L597.0,1459.2 L600.0,1459.2 L603.0,1459.2 L606.0,1459.2 L609.1,1459.3 L612.1,1459.3 L615.1,1459.3 L618.1,1459.3 L621.1,1459.3 L624.1,1459.3 L627.2,1459.3 L630.2,1459.4 L633.2,1459.4 L636.2,1459.4 L639.2,1459.4 L642.2,1459.4 L645.3,1459.4 L648.3,1459.4 L651.3,1459.5 L654.3,1459.5 L657.3,1459.5 L660.3,1459.5 L663.3,1459.5 L666.4,1459.5 L669.4,1459.6 L672.4,1459.6 L675.4,1459.6 L678.4,1459.6 L681.4,1459.6 L684.5,1459.6 L687.5,1459.6 L690.5,1459.7 L693.5,1459.7 L696.5,1459.7 L699.5,1459.7 L702.6,1459.7 L705.6,1459.7 L708.6,1459.7 L711.6,1459.8 L714.6,1459.8 L717.6,1459.8 L720.7,1459.8 L723.7,1459.8 L726.7,1459.8 L729.7,1459.9 L732.7,1459.9 L735.7,1459.9 L738.8,1459.9 L741.8,1459.9 L744.8,1459.9 L747.8,1459.9 L750.8,1460.0 L753.8,1460.0 L756.8,1460.0 L759.9,1460.0 L762.9,1460.0 L765.9,1460.0 L768.9,1460.1 L771.9,1460.1 L774.9,1460.1 L778.0,1460.1 L781.0,1460.1 L784.0,1460.1 L787.0,1460.1 L790.0,1460.2 L793.0,1460.2 L796.1,1460.2 L799.1,1460.2 L802.1,1460.2 L805.1,1460.2 L808.1,1460.3 L811.1,1460.3 L814.2,1460.3 L817.2,1460.3 L820.2,1460.3 L823.2,1460.3 L826.2,1460.3 L829.2,1460.4 L832.2,1460.4 L835.3,1460.4 L838.3,1460.4 L841.3,1460.4 L844.3,1460.4 L847.3,1460.4 L850.3,1460.5 L853.4,1460.5 L856.4,1460.5 L859.4,1460.5 L862.4,1460.5 L865.4,1460.5 L868.4,1460.6 L871.5,1460.6 L874.5,1460.6 L877.5,1460.6 L880.5,1460.6 L883.5,1460.6 L886.5,1460.6 L889.6,1460.7 L892.6,1460.7 L895.6,1460.7 L898.6,1460.7 L901.6,1460.7 L904.6,1460.7 L907.7,1460.7 L910.7,1460.8 L913.7,1460.8 L916.7,1460.8 L919.7,1460.8 L922.7,1460.8 L925.7,1460.8 L928.8,1460.9 L931.8,1460.9 L934.8,1460.9 L937.8,1460.9 L940.8,1460.9 L943.8,1460.9 L946.9,1460.9 L949.9,1461.0 L952.9,1461.0 L955.9,1461.0 L958.9,1461.0 L961.9,1461.0 L965.0,1461.0 L968.0,1461.0 L971.0,1461.1 L974.0,1461.1 L977.0,1461.1 L980.0,1461.1 L983.1,1461.1 L986.1,1461.1 L989.1,1461.1 L992.1,1461.2 L995.1,1461.2 L998.1,1461.2 L1001.2,1461.2 L1004.2,1461.2 L1007.2,1461.2 L1010.2,1461.2 L1013.2,1461.3 L1016.2,1461.3 L1019.2,1461.3 L1022.3,1461.3 L1025.3,1461.3 L1028.3,1461.3 L1031.3,1461.3 L1034.3,1461.4 L1037.3,1461.4 L1040.4,1461.4 L1043.4,1461.4 L1046.4,1461.4 L1049.4,1461.4 L1052.4,1461.4 L1055.4,1461.5 L1058.5,1461.5 L1061.5,1461.5 L1064.5,1461.5 L1067.5,1461.5 L1070.5,1461.5 L1073.5,1461.5 L1076.6,1461.6 L1079.6,1461.6 L1082.6,1461.6 L1085.6,1461.6 L1088.6,1461.6 L1091.6,1461.6 L1094.6,1461.6 L1097.7,1461.6 L1100.7,1461.7 L1103.7,1461.7 L1106.7,1461.7 L1109.7,1461.7 L1112.7,1461.7 L1115.8,1461.7 L1118.8,1461.7 L1121.8,1461.8 L1124.8,1461.8 L1127.8,1461.8 L1130.8,1461.8 L1133.9,1461.8 L1136.9,1461.8 L1139.9,1461.8 L1142.9,1461.8 L1145.9,1461.9 L1148.9,1461.9 L1152.0,1461.9 L1155.0,1461.9 L1158.0,1461.9 L1161.0,1461.9 L1164.0,1461.9 L1167.0,1462.0 L1170.1,1462.0 L1173.1,1462.0 L1176.1,1462.0 L1179.1,1462.0" fill="none" stroke="#ffa500" stroke-width="1.33" stroke-dasharray="8,8"/>
<polygon points="285.1,1457.8 298.4,1453.2 298.4,1462.6" fill="#ffa500" stroke="#ffa500" stroke-width="1.33"/>
<path d="M3073.0,1503.8 L3076.0,1504.0 L3079.0,1504.3 L3082.0,1504.5 L3085.0,1504.6 L3088.0,1504.8 L3091.1,1504.9 L3094.1,1504.9 L3097.1,1504.9 L3100.2,1504.9 L3103.2,1504.8 L3106.3,1504.7 L3109.3,1504.6 L3112.4,1504.4 L3115.4,1504.2 L3118.5,1503.9 L3121.5,1503.6 L3124.6,1503.2 L3127.6,1502.8 L3130.7,1502.4 L3133.7,1501.9 L3136.7,1501.4 L3139.7,1500.8 L3142.7,1500.2 L3145.7,1499.6 L3148.7,1498.9 L3151.6,1498.1 L3154.6,1497.3 L3157.5,1496.5 L3160.4,1495.6 L3163.3,1494.7 L3166.2,1493.7 L3169.0,1492.7 L3171.9,1491.6 L3174.7,1490.5 L3177.5,1489.3 L3180.2,1488.1 L3183.0,1486.8 L3185.7,1485.5 L3188.4,1484.2 L3191.0,1482.8 L3193.6,1481.3 L3196.2,1479.8 L3198.8,1478.2 L3201.3,1476.6 L3203.8,1475.0 L3206.3,1473.3 L3208.7,1471.5 L3211.1,1469.8 L3213.5,1467.9 L3215.9,1466.1 L3218.2,1464.2 L3220.4,1462.2 L3222.7,1460.2 L3224.9,1458.2 L3227.0,1456.1 L3229.2,1454.0 L3231.3,1451.9 L3233.3,1449.7 L3235.3,1447.5 L3237.3,1445.2 L3239.2,1443.0 L3241.1,1440.6 L3243.0,1438.3 L3244.8,1435.9 L3246.6,1433.5 L3248.3,1431.1 L3250.0,1428.6 L3251.7,1426.1 L3253.3,1423.6 L3254.8,1421.0 L3256.3,1418.4 L3257.8,1415.8 L3259.2,1413.2 L3260.6,1410.6 L3262.0,1407.9 L3263.3,1405.2 L3264.5,1402.5 L3265.7,1399.7 L3266.9,1397.0 L3268.1,1394.2 L3269.2,1391.4 L3270.2,1388.6 L3271.2,1385.7 L3272.2,1382.9 L3273.2,1380.0 L3274.1,1377.1 L3275.0,1374.2 L3275.9,1371.3 L3276.7,1368.3 L3277.5,1365.4 L3278.3,1362.4 L3279.0,1359.5 L3279.7,1356.5 L3280.4,1353.5 L3281.0,1350.5 L3281.7,1347.5 L3282.3,1344.5 L3282.9,1341.5 L3283.4,1338.5 L3284.0,1335.4 L3284.5,1332.4 L3285.0,1329.3 L3285.4,1326.3 L3285.9,1323.2 L3286.3,1320.2 L3286.8,1317.1 L3287.2,1314.1 L3287.6,1311.0 L3287.9,1308.0 L3288.3,1304.9 L3288.7,1301.9 L3289.0,1298.8 L3289.3,1295.8 L3289.7,1292.7 L3290.0,1289.7 L3290.3,1286.7 L3290.6,1283.6 L3290.8,1280.6 L3291.1,1277.6 L3291.4,1274.6 L3291.7,1271.6 L3291.9,1268.6 L3292.2,1265.7 L3292.5,1262.7 L3292.7,1259.8 L3293.0,1256.8 L3293.3,1253.9 L3293.5,1251.0 L3293.8,1248.1" fill="none" stroke="#9a32cd" stroke-width="1.33" stroke-dasharray="8,8"/>
<polygon points="3059.8,1502.5 3073.5,1499.1 3072.6,1508.5" fill="#9a32cd" stroke="#9a32cd" stroke-width="1.33"/>
<path d="M3051.7,1551.7 L3054.6,1552.0 L3057.5,1552.3 L3060.4,1552.6 L3063.4,1552.9 L3066.3,1553.2 L3069.3,1553.4 L3072.4,1553.7 L3075.4,1554.0 L3078.4,1554.2 L3081.5,1554.4 L3084.5,1554.6 L3087.6,1554.8 L3090.7,1555.0 L3093.8,1555.1 L3096.9,1555.2 L3100.0,1555.3 L3103.1,1555.4 L3106.2,1555.5 L3109.3,1555.5 L3112.4,1555.5 L3115.6,1555.4 L3118.7,1555.3 L3121.8,1555.2 L3124.9,1555.1 L3127.9,1554.9 L3131.0,1554.7 L3134.1,1554.4 L3137.1,1554.1 L3140.2,1553.7 L3143.2,1553.3 L3146.2,1552.9 L3149.2,1552.4 L3152.2,1551.8 L3155.2,1551.2 L3158.1,1550.5 L3161.1,1549.8 L3164.0,1549.0 L3166.8,1548.2 L3169.7,1547.3 L3172.5,1546.4 L3175.3,1545.3 L3178.1,1544.3 L3180.8,1543.1 L3183.5,1541.9 L3186.2,1540.6 L3188.8,1539.3 L3191.4,1537.9 L3194.0,1536.4 L3196.5,1534.9 L3199.0,1533.3 L3201.4,1531.6 L3203.9,1529.9 L3206.3,1528.2 L3208.6,1526.4 L3210.9,1524.5 L3213.2,1522.6 L3215.4,1520.6 L3217.6,1518.6 L3219.8,1516.5 L3221.9,1514.3 L3223.9,1512.2 L3226.0,1509.9 L3228.0,1507.7 L3229.9,1505.4 L3231.8,1503.0 L3233.7,1500.6 L3235.5,1498.2 L3237.3,1495.7 L3239.0,1493.2 L3240.7,1490.7 L3242.4,1488.1 L3244.0,1485.6 L3245.6,1483.0 L3247.2,1480.3 L3248.7,1477.7 L3250.2,1475.0 L3251.7,1472.3 L3253.1,1469.6 L3254.5,1466.9 L3255.9,1464.1 L3257.2,1461.4 L3258.5,1458.6 L3259.8,1455.8 L3261.1,1453.1 L3262.3,1450.3 L3263.5,1447.5 L3264.7,1444.7 L3265.8,1441.9 L3266.9,1439.0 L3268.0,1436.2 L3269.1,1433.4 L3270.1,1430.5 L3271.1,1427.7 L3272.1,1424.8 L3273.1,1421.9 L3274.0,1419.0 L3274.9,1416.1 L3275.8,1413.2 L3276.7,1410.3 L3277.5,1407.4 L3278.3,1404.5 L3279.1,1401.6 L3279.9,1398.6 L3280.7,1395.7 L3281.4,1392.7 L3282.1,1389.8 L3282.8,1386.8 L3283.4,1383.9 L3284.1,1380.9 L3284.7,1377.9 L3285.3,1375.0 L3285.9,1372.0 L3286.4,1369.0 L3287.0,1366.0 L3287.5,1363.0 L3288.0,1360.0 L3288.5,1357.0 L3289.0,1354.0 L3289.4,1351.0 L3289.8,1348.0 L3290.3,1345.0 L3290.7,1341.9 L3291.0,1338.9 L3291.4,1335.9 L3291.8,1332.9 L3292.1,1329.8 L3292.4,1326.8 L3292.7,1323.8 L3293.0,1320.7 L3293.3,1317.7 L3293.6,1314.7 L3293.8,1311.6 L3294.0,1308.6 L3294.3,1305.6 L3294.5,1302.5 L3294.7,1299.5 L3294.9,1296.5 L3295.0,1293.4 L3295.2,1290.4 L3295.4,1287.4 L3295.5,1284.3 L3295.6,1281.3 L3295.8,1278.3 L3295.9,1275.2 L3296.0,1272.2 L3296.1,1269.2 L3296.2,1266.2 L3296.2,1263.2 L3296.3,1260.1 L3296.4,1257.1 L3296.4,1254.1 L3296.5,1251.1 L3296.5,1248.1" fill="none" stroke="#9a32cd" stroke-width="1.33" stroke-dasharray="8,8"/>
<polygon points="3038.5,1549.8 3052.3,1547.1 3051.0,1556.4" fill="#9a32cd" stroke="#9a32cd" stroke-width="1.33"/>
<path d="M2376.4,901.1 L3259.9,1221.4" fill="none" stroke="#191970" stroke-width="1.33"/>
<polygon points="2363.9,896.6 2378.0,896.7 2374.8,905.6" fill="#191970" stroke="#191970" stroke-width="1.33"/>
<path d="M55.0,1373.2 L57.6,1371.6 L60.2,1370.0 L62.9,1368.4 L65.5,1366.9 L68.2,1365.3 L70.8,1363.7 L73.5,1362.2 L76.1,1360.6 L78.8,1359.0 L81.5,1357.5 L84.1,1355.9 L86.8,1354.4 L89.4,1352.8 L92.1,1351.2 L94.7,1349.7 L97.4,1348.1 L100.1,1346.6 L102.7,1345.0 L105.4,1343.4 L108.0,1341.9 L110.7,1340.3 L113.3,1338.8 L116.0,1337.2 L118.6,1335.6 L121.3,1334.1 L123.9,1332.5 L126.6,1330.9 L129.2,1329.3 L131.8,1327.7 L134.5,1326.2 L137.1,1324.6 L139.8,1323.0 L142.4,1321.4 L145.0,1319.8 L147.6,1318.2 L150.3,1316.6 L152.9,1314.9 L155.5,1313.3 L158.1,1311.7 L160.7,1310.0 L163.3,1308.4 L165.9,1306.8 L168.5,1305.1 L171.1,1303.4 L173.7,1301.8 L176.3,1300.1 L178.9,1298.4 L181.4,1296.7 L184.0,1295.0 L186.6,1293.3 L189.1,1291.6 L191.7,1289.8 L194.2,1288.1 L196.8,1286.4 L199.3,1284.6" fill="none" stroke="#9a32cd" stroke-width="1.33" stroke-dasharray="8,8"/>
<polygon points="43.6,1380.1 52.5,1369.2 57.4,1377.2" fill="#9a32cd" stroke="#9a32cd" stroke-width="1.33"/>
<path d="M57.2,1391.8 L346.4,1391.8" fill="none" stroke="#9a32cd" stroke-width="1.33" stroke-dasharray="8,8"/>
<polygon points="43.9,1391.8 57.2,1387.1 57.2,1396.5" fill="#9a32cd" stroke="#9a32cd" stroke-width="1.33"/>
<path d="M42.4,1414.5 L44.5,1416.8 L46.8,1419.1 L49.0,1421.2 L51.4,1423.3 L53.8,1425.3 L56.2,1427.2 L58.7,1429.0 L61.3,1430.7 L63.9,1432.4 L66.5,1434.0 L69.2,1435.5 L71.9,1437.0 L74.7,1438.4 L77.5,1439.7 L80.3,1441.0 L83.2,1442.2 L86.1,1443.4 L89.1,1444.5 L92.0,1445.5 L95.0,1446.5 L98.0,1447.4 L101.0,1448.3 L104.1,1449.2 L107.1,1450.0 L110.2,1450.7 L113.3,1451.4 L116.3,1452.1 L119.4,1452.7 L122.5,1453.3 L125.6,1453.8 L128.7,1454.4 L131.8,1454.8 L134.9,1455.3 L138.0,1455.7 L141.1,1456.1 L144.2,1456.5 L147.2,1456.9 L150.3,1457.2 L153.3,1457.5" fill="none" stroke="#9a32cd" stroke-width="1.33" stroke-dasharray="8,8"/>
<polygon points="33.9,1404.3 46.0,1411.5 38.8,1417.5" fill="#9a32cd" stroke="#9a32cd" stroke-width="1.33"/>
<text x="2081.9" y="15.9" textLength="63.0" lengthAdjust="spacingAndGlyphs">m_device</text>
<text x="2068.9" y="30.5" textLength="89.0" lengthAdjust="spacingAndGlyphs">m_rcvBufSize</text>
<text x="2066.4" y="45.1" textLength="94.0" lengthAdjust="spacingAndGlyphs">m_rxAvailable</text>
<text x="1476.0" y="97.1" textLength="8.0" lengthAdjust="spacingAndGlyphs">n</text>
<text x="815.9" y="156.1" textLength="56.0" lengthAdjust="spacingAndGlyphs">m_count</text>
<text x="1197.4" y="148.2" textLength="143.0" lengthAdjust="spacingAndGlyphs">&lt; Object, ObjectBase,</text>
<text x="1216.4" y="162.9" textLength="105.0" lengthAdjust="spacingAndGlyphs">ObjectDeleter &gt;</text>
<text x="1208.4" y="246.8" textLength="121.0" lengthAdjust="spacingAndGlyphs">m_getObjectCount</text>
<text x="2094.5" y="227.7" textLength="39.0" lengthAdjust="spacingAndGlyphs">buffer</text>
<text x="2067.5" y="260.9" textLength="93.0" lengthAdjust="spacingAndGlyphs">m_aggregates</text>
<text x="1666.8" y="274.3" textLength="37.0" lengthAdjust="spacingAndGlyphs">m_tid</text>
<text x="1250.4" y="302.5" textLength="37.0" lengthAdjust="spacingAndGlyphs">m_tid</text>
<text x="1645.3" y="335.9" textLength="78.0" lengthAdjust="spacingAndGlyphs">m_disposed</text>
<text x="1642.3" y="350.5" textLength="84.0" lengthAdjust="spacingAndGlyphs">m_initialized</text>
<text x="2291.5" y="342.7" textLength="73.0" lengthAdjust="spacingAndGlyphs">m_protocol</text>
<text x="1235.0" y="384.9" textLength="66.0" lengthAdjust="spacingAndGlyphs">MAX_SIZE</text>
<text x="2623.5" y="408.8" textLength="78.0" lengthAdjust="spacingAndGlyphs">m_destAddr</text>
<text x="1659.8" y="485.3" textLength="49.0" lengthAdjust="spacingAndGlyphs">m_data</text>
<text x="1664.3" y="499.9" textLength="40.0" lengthAdjust="spacingAndGlyphs">m_len</text>
<text x="1659.8" y="514.5" textLength="49.0" lengthAdjust="spacingAndGlyphs">m_type</text>
<text x="1844.8" y="496.1" textLength="87.0" lengthAdjust="spacingAndGlyphs">m_ipRecvTos</text>
<text x="1847.8" y="510.7" textLength="81.0" lengthAdjust="spacingAndGlyphs">m_ipRecvTtl</text>
<text x="1818.8" y="525.3" textLength="139.0" lengthAdjust="spacingAndGlyphs">m_ipv6RecvHopLimit</text>
<text x="1827.8" y="539.9" textLength="121.0" lengthAdjust="spacingAndGlyphs">m_ipv6RecvTclass</text>
<text x="1839.3" y="554.5" textLength="98.0" lengthAdjust="spacingAndGlyphs">m_manualIpTtl</text>
<text x="1810.3" y="569.1" textLength="156.0" lengthAdjust="spacingAndGlyphs">m_manualIpv6HopLimit</text>
<text x="1819.3" y="583.7" textLength="138.0" lengthAdjust="spacingAndGlyphs">m_manualIpv6Tclass</text>
<text x="1841.3" y="598.3" textLength="94.0" lengthAdjust="spacingAndGlyphs">m_recvPktInfo</text>
<text x="2443.4" y="630.6" textLength="116.0" lengthAdjust="spacingAndGlyphs">m_isSingleDevice</text>
<text x="2443.9" y="645.2" textLength="115.0" lengthAdjust="spacingAndGlyphs">m_shutdownRecv</text>
<text x="2443.9" y="659.8" textLength="115.0" lengthAdjust="spacingAndGlyphs">m_shutdownSend</text>
<text x="1642.6" y="687.5" textLength="84.0" lengthAdjust="spacingAndGlyphs">m_initialized</text>
<text x="2014.7" y="698.8" textLength="199.0" lengthAdjust="spacingAndGlyphs">m_ipv6MulticastGroupAddress</text>
<text x="1648.7" y="732.6" textLength="71.0" lengthAdjust="spacingAndGlyphs">m_address</text>
<text x="1861.0" y="725.0" textLength="55.0" lengthAdjust="spacingAndGlyphs">m_ipTos</text>
<text x="1864.0" y="739.6" textLength="49.0" lengthAdjust="spacingAndGlyphs">m_ipTtl</text>
<text x="1835.0" y="754.2" textLength="107.0" lengthAdjust="spacingAndGlyphs">m_ipv6HopLimit</text>
<text x="1844.0" y="768.8" textLength="89.0" lengthAdjust="spacingAndGlyphs">m_ipv6Tclass</text>
<text x="1855.0" y="783.4" textLength="67.0" lengthAdjust="spacingAndGlyphs">m_priority</text>
<text x="1417.9" y="874.5" textLength="124.0" lengthAdjust="spacingAndGlyphs">m_boundnetdevice</text>
<text x="2074.0" y="883.9" textLength="78.0" lengthAdjust="spacingAndGlyphs">m_dataSent</text>
<text x="2079.0" y="898.5" textLength="68.0" lengthAdjust="spacingAndGlyphs">m_sendCb</text>
<text x="1615.0" y="913.0" textLength="138.0" lengthAdjust="spacingAndGlyphs">&lt; void, ns3::Ptr&lt; ns3</text>
<text x="1612.5" y="927.6" textLength="143.0" lengthAdjust="spacingAndGlyphs">::Socket &gt;, uint32_t &gt;</text>
<text x="2028.5" y="932.7" textLength="171.0" lengthAdjust="spacingAndGlyphs">m_newConnectionCreated</text>
<text x="337.5" y="1098.7" textLength="129.0" lengthAdjust="spacingAndGlyphs">&lt; ns3::NetDevice &gt;</text>
<text x="1613.6" y="1001.1" textLength="138.0" lengthAdjust="spacingAndGlyphs">&lt; void, ns3::Ptr&lt; ns3</text>
<text x="1614.1" y="1015.7" textLength="137.0" lengthAdjust="spacingAndGlyphs">::Socket &gt;, const ns3</text>
<text x="1638.1" y="1030.3" textLength="89.0" lengthAdjust="spacingAndGlyphs">::Address &amp; &gt;</text>
<text x="2047.9" y="1000.0" textLength="131.0" lengthAdjust="spacingAndGlyphs">m_connectionFailed</text>
<text x="2032.9" y="1014.6" textLength="161.0" lengthAdjust="spacingAndGlyphs">m_connectionSucceeded</text>
<text x="2069.9" y="1029.2" textLength="87.0" lengthAdjust="spacingAndGlyphs">m_errorClose</text>
<text x="2062.4" y="1043.8" textLength="102.0" lengthAdjust="spacingAndGlyphs">m_normalClose</text>
<text x="2059.9" y="1058.4" textLength="107.0" lengthAdjust="spacingAndGlyphs">m_receivedData</text>
<text x="1614.0" y="1095.8" textLength="138.0" lengthAdjust="spacingAndGlyphs">&lt; void, ns3::Ptr&lt; ns3</text>
<text x="1642.0" y="1110.4" textLength="82.0" lengthAdjust="spacingAndGlyphs">::Socket &gt; &gt;</text>
<text x="2042.0" y="1115.0" textLength="144.0" lengthAdjust="spacingAndGlyphs">m_connectionRequest</text>
<text x="819.6" y="1134.9" textLength="49.0" lengthAdjust="spacingAndGlyphs">m_impl</text>
<text x="1614.0" y="1141.2" textLength="138.0" lengthAdjust="spacingAndGlyphs">&lt; bool, ns3::Ptr&lt; ns3</text>
<text x="1614.5" y="1155.8" textLength="137.0" lengthAdjust="spacingAndGlyphs">::Socket &gt;, const ns3</text>
<text x="1638.5" y="1170.4" textLength="89.0" lengthAdjust="spacingAndGlyphs">::Address &amp; &gt;</text>
<text x="1637.8" y="1210.4" textLength="93.0" lengthAdjust="spacingAndGlyphs">&lt; void, Ts... &gt;</text>
<text x="313.0" y="1215.0" textLength="178.0" lengthAdjust="spacingAndGlyphs">&lt; ns3::CallbackImplBase &gt;</text>
<text x="2475.6" y="1256.0" textLength="52.0" lengthAdjust="spacingAndGlyphs">m_node</text>
<text x="796.7" y="1283.9" textLength="95.0" lengthAdjust="spacingAndGlyphs">&lt; ns3::Node &gt;</text>
<text x="3118.8" y="1288.9" textLength="85.0" lengthAdjust="spacingAndGlyphs">m_dropTrace</text>
<text x="2761.5" y="1310.5" textLength="141.0" lengthAdjust="spacingAndGlyphs">&lt; ns3::Ptr&lt; const ns3</text>
<text x="2791.0" y="1325.1" textLength="82.0" lengthAdjust="spacingAndGlyphs">::Packet &gt; &gt;</text>
<text x="83.2" y="1324.8" textLength="38.0" lengthAdjust="spacingAndGlyphs">m_ptr</text>
<text x="2453.8" y="1326.8" textLength="97.0" lengthAdjust="spacingAndGlyphs">m_callbackList</text>
<text x="1178.4" y="1387.6" textLength="179.0" lengthAdjust="spacingAndGlyphs">&lt; Callback&lt; void, Ts... &gt; &gt;</text>
<text x="71.7" y="1387.7" textLength="61.0" lengthAdjust="spacingAndGlyphs">elements</text>
<text x="2083.6" y="1326.8" textLength="61.0" lengthAdjust="spacingAndGlyphs">elements</text>
<text x="551.0" y="1426.4" textLength="132.0" lengthAdjust="spacingAndGlyphs">&lt; std::pair&lt; ns3::Ptr</text>
<text x="549.0" y="1441.0" textLength="136.0" lengthAdjust="spacingAndGlyphs">&lt; ns3::Packet &gt;, ns3</text>
<text x="572.0" y="1455.6" textLength="90.0" lengthAdjust="spacingAndGlyphs">::Address &gt; &gt;</text>
<text x="71.7" y="1432.0" textLength="61.0" lengthAdjust="spacingAndGlyphs">elements</text>
<text x="2270.9" y="1439.0" textLength="115.0" lengthAdjust="spacingAndGlyphs">m_deliveryQueue</text>
<text x="3134.6" y="1472.2" textLength="54.0" lengthAdjust="spacingAndGlyphs">m_errno</text>
<text x="3134.8" y="1520.1" textLength="53.0" lengthAdjust="spacingAndGlyphs">m_state</text>
</svg>
</body></html>
